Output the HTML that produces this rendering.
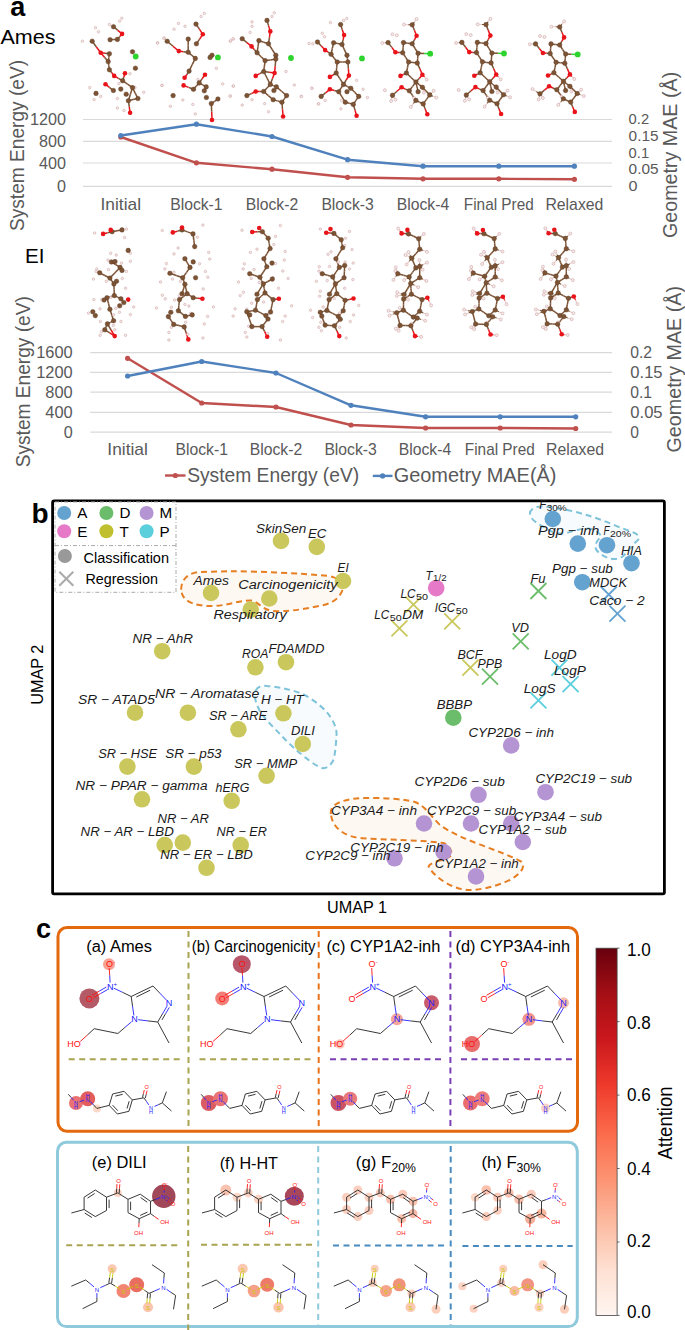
<!DOCTYPE html>
<html><head><meta charset="utf-8"><style>
html,body{margin:0;padding:0;background:#fff;width:685px;height:1330px;overflow:hidden}
svg{display:block;font-family:"Liberation Sans",sans-serif}
</style></head><body>
<svg width="685" height="1330" viewBox="0 0 685 1330">
<text x="10.3" y="15.6" font-size="27" fill="#000" font-weight="bold">a</text>
<text x="0.5" y="43.8" font-size="20.5" fill="#000" textLength="55.0" lengthAdjust="spacingAndGlyphs">Ames</text>
<text x="25.0" y="263.0" font-size="21" fill="#000" textLength="19.5" lengthAdjust="spacingAndGlyphs">EI</text>
<line x1="83" y1="119.5" x2="612" y2="119.5" stroke="#d9d9d9" stroke-width="1.2"/>
<line x1="83" y1="141.3" x2="612" y2="141.3" stroke="#d9d9d9" stroke-width="1.2"/>
<line x1="83" y1="163" x2="612" y2="163" stroke="#d9d9d9" stroke-width="1.2"/>
<line x1="83" y1="186.4" x2="612" y2="186.4" stroke="#d9d9d9" stroke-width="1.2"/>
<text x="66.0" y="125.3" font-size="16.5" fill="#595959" text-anchor="end" textLength="36.0" lengthAdjust="spacingAndGlyphs">1200</text>
<text x="66.0" y="147.1" font-size="16.5" fill="#595959" text-anchor="end" textLength="27.0" lengthAdjust="spacingAndGlyphs">800</text>
<text x="66.0" y="168.8" font-size="16.5" fill="#595959" text-anchor="end" textLength="27.0" lengthAdjust="spacingAndGlyphs">400</text>
<text x="66.0" y="192.2" font-size="16.5" fill="#595959" text-anchor="end" textLength="9.0" lengthAdjust="spacingAndGlyphs">0</text>
<text x="628.6" y="123.6" font-size="14.5" fill="#595959" textLength="20.5" lengthAdjust="spacingAndGlyphs">0.2</text>
<text x="628.6" y="140.9" font-size="14.5" fill="#595959" textLength="30.0" lengthAdjust="spacingAndGlyphs">0.15</text>
<text x="628.6" y="158.2" font-size="14.5" fill="#595959" textLength="20.5" lengthAdjust="spacingAndGlyphs">0.1</text>
<text x="628.6" y="174.0" font-size="14.5" fill="#595959" textLength="30.0" lengthAdjust="spacingAndGlyphs">0.05</text>
<text x="628.6" y="191.2" font-size="14.5" fill="#595959" textLength="9.0" lengthAdjust="spacingAndGlyphs">0</text>
<text x="120.8" y="209.5" font-size="17" fill="#595959" text-anchor="middle" textLength="40.5" lengthAdjust="spacingAndGlyphs">Initial</text>
<text x="196.4" y="209.5" font-size="17" fill="#595959" text-anchor="middle" textLength="52.4" lengthAdjust="spacingAndGlyphs">Block-1</text>
<text x="272.0" y="209.5" font-size="17" fill="#595959" text-anchor="middle" textLength="52.4" lengthAdjust="spacingAndGlyphs">Block-2</text>
<text x="347.6" y="209.5" font-size="17" fill="#595959" text-anchor="middle" textLength="52.4" lengthAdjust="spacingAndGlyphs">Block-3</text>
<text x="423.0" y="209.5" font-size="17" fill="#595959" text-anchor="middle" textLength="52.4" lengthAdjust="spacingAndGlyphs">Block-4</text>
<text x="498.8" y="209.5" font-size="17" fill="#595959" text-anchor="middle" textLength="70.0" lengthAdjust="spacingAndGlyphs">Final Pred</text>
<text x="574.4" y="209.5" font-size="17" fill="#595959" text-anchor="middle" textLength="58.0" lengthAdjust="spacingAndGlyphs">Relaxed</text>
<polyline points="120.8,137.0 196.4,162.8 272.0,169.2 347.6,177.3 423.0,178.8 498.8,178.8 574.4,179.3" fill="none" stroke="#c0504d" stroke-width="2.4" stroke-linejoin="round"/>
<circle cx="120.8" cy="137.0" r="2.6" fill="#c0504d"/>
<circle cx="196.4" cy="162.8" r="2.6" fill="#c0504d"/>
<circle cx="272.0" cy="169.2" r="2.6" fill="#c0504d"/>
<circle cx="347.6" cy="177.3" r="2.6" fill="#c0504d"/>
<circle cx="423.0" cy="178.8" r="2.6" fill="#c0504d"/>
<circle cx="498.8" cy="178.8" r="2.6" fill="#c0504d"/>
<circle cx="574.4" cy="179.3" r="2.6" fill="#c0504d"/>
<polyline points="120.8,135.5 196.4,124.2 272.0,136.5 347.6,159.7 423.0,166.2 498.8,166.2 574.4,166.2" fill="none" stroke="#4f81bd" stroke-width="2.4" stroke-linejoin="round"/>
<circle cx="120.8" cy="135.5" r="2.6" fill="#4f81bd"/>
<circle cx="196.4" cy="124.2" r="2.6" fill="#4f81bd"/>
<circle cx="272.0" cy="136.5" r="2.6" fill="#4f81bd"/>
<circle cx="347.6" cy="159.7" r="2.6" fill="#4f81bd"/>
<circle cx="423.0" cy="166.2" r="2.6" fill="#4f81bd"/>
<circle cx="498.8" cy="166.2" r="2.6" fill="#4f81bd"/>
<circle cx="574.4" cy="166.2" r="2.6" fill="#4f81bd"/>
<text transform="translate(24,231) rotate(-90)" font-size="20" fill="#595959" textLength="171.0" lengthAdjust="spacingAndGlyphs">System Energy (eV)</text>
<text transform="translate(677,238) rotate(-90)" font-size="20" fill="#595959" textLength="166.2" lengthAdjust="spacingAndGlyphs">Geometry MAE (&#197;)</text>
<line x1="90.3" y1="352.6" x2="612" y2="352.6" stroke="#d9d9d9" stroke-width="1.2"/>
<line x1="90.3" y1="372.4" x2="612" y2="372.4" stroke="#d9d9d9" stroke-width="1.2"/>
<line x1="90.3" y1="392.2" x2="612" y2="392.2" stroke="#d9d9d9" stroke-width="1.2"/>
<line x1="90.3" y1="412.3" x2="612" y2="412.3" stroke="#d9d9d9" stroke-width="1.2"/>
<line x1="90.3" y1="432.1" x2="612" y2="432.1" stroke="#d9d9d9" stroke-width="1.2"/>
<text x="72.7" y="358.4" font-size="16.5" fill="#595959" text-anchor="end" textLength="36.5" lengthAdjust="spacingAndGlyphs">1600</text>
<text x="72.7" y="378.2" font-size="16.5" fill="#595959" text-anchor="end" textLength="36.5" lengthAdjust="spacingAndGlyphs">1200</text>
<text x="72.7" y="398.0" font-size="16.5" fill="#595959" text-anchor="end" textLength="27.4" lengthAdjust="spacingAndGlyphs">800</text>
<text x="72.7" y="418.1" font-size="16.5" fill="#595959" text-anchor="end" textLength="27.4" lengthAdjust="spacingAndGlyphs">400</text>
<text x="72.7" y="437.9" font-size="16.5" fill="#595959" text-anchor="end" textLength="9.0" lengthAdjust="spacingAndGlyphs">0</text>
<text x="630.3" y="358.1" font-size="16" fill="#595959" textLength="21.8" lengthAdjust="spacingAndGlyphs">0.2</text>
<text x="630.3" y="378.1" font-size="16" fill="#595959" textLength="32.3" lengthAdjust="spacingAndGlyphs">0.15</text>
<text x="630.3" y="398.1" font-size="16" fill="#595959" textLength="21.8" lengthAdjust="spacingAndGlyphs">0.1</text>
<text x="630.3" y="418.1" font-size="16" fill="#595959" textLength="32.3" lengthAdjust="spacingAndGlyphs">0.05</text>
<text x="630.3" y="437.6" font-size="16" fill="#595959" textLength="8.7" lengthAdjust="spacingAndGlyphs">0</text>
<text x="127.6" y="455.0" font-size="17" fill="#595959" text-anchor="middle" textLength="40.5" lengthAdjust="spacingAndGlyphs">Initial</text>
<text x="201.7" y="455.0" font-size="17" fill="#595959" text-anchor="middle" textLength="52.4" lengthAdjust="spacingAndGlyphs">Block-1</text>
<text x="276.0" y="455.0" font-size="17" fill="#595959" text-anchor="middle" textLength="52.4" lengthAdjust="spacingAndGlyphs">Block-2</text>
<text x="350.6" y="455.0" font-size="17" fill="#595959" text-anchor="middle" textLength="52.4" lengthAdjust="spacingAndGlyphs">Block-3</text>
<text x="425.0" y="455.0" font-size="17" fill="#595959" text-anchor="middle" textLength="52.4" lengthAdjust="spacingAndGlyphs">Block-4</text>
<text x="499.8" y="455.0" font-size="17" fill="#595959" text-anchor="middle" textLength="70.0" lengthAdjust="spacingAndGlyphs">Final Pred</text>
<text x="575.0" y="455.0" font-size="17" fill="#595959" text-anchor="middle" textLength="58.0" lengthAdjust="spacingAndGlyphs">Relaxed</text>
<polyline points="127.6,358.3 201.7,403.0 276.0,407.0 351.0,425.0 425.6,428.0 500.2,428.0 575.7,428.5" fill="none" stroke="#c0504d" stroke-width="2.4" stroke-linejoin="round"/>
<circle cx="127.6" cy="358.3" r="2.6" fill="#c0504d"/>
<circle cx="201.7" cy="403.0" r="2.6" fill="#c0504d"/>
<circle cx="276.0" cy="407.0" r="2.6" fill="#c0504d"/>
<circle cx="351.0" cy="425.0" r="2.6" fill="#c0504d"/>
<circle cx="425.6" cy="428.0" r="2.6" fill="#c0504d"/>
<circle cx="500.2" cy="428.0" r="2.6" fill="#c0504d"/>
<circle cx="575.7" cy="428.5" r="2.6" fill="#c0504d"/>
<polyline points="127.6,376.0 201.7,361.5 276.0,373.0 351.0,405.3 425.6,416.8 500.2,416.8 575.7,416.8" fill="none" stroke="#4f81bd" stroke-width="2.4" stroke-linejoin="round"/>
<circle cx="127.6" cy="376.0" r="2.6" fill="#4f81bd"/>
<circle cx="201.7" cy="361.5" r="2.6" fill="#4f81bd"/>
<circle cx="276.0" cy="373.0" r="2.6" fill="#4f81bd"/>
<circle cx="351.0" cy="405.3" r="2.6" fill="#4f81bd"/>
<circle cx="425.6" cy="416.8" r="2.6" fill="#4f81bd"/>
<circle cx="500.2" cy="416.8" r="2.6" fill="#4f81bd"/>
<circle cx="575.7" cy="416.8" r="2.6" fill="#4f81bd"/>
<text transform="translate(30,467.3) rotate(-90)" font-size="20" fill="#595959" textLength="171.1" lengthAdjust="spacingAndGlyphs">System Energy (eV)</text>
<text transform="translate(680.5,452.5) rotate(-90)" font-size="20" fill="#595959" textLength="166.5" lengthAdjust="spacingAndGlyphs">Geometry MAE (&#197;)</text>
<line x1="165" y1="475.5" x2="185.5" y2="475.5" stroke="#c0504d" stroke-width="2.4"/><circle cx="175.3" cy="475.5" r="2.6" fill="#c0504d"/>
<text x="187.2" y="482.3" font-size="20" fill="#595959" textLength="172.0" lengthAdjust="spacingAndGlyphs">System Energy (eV)</text>
<line x1="372.8" y1="475.9" x2="392.5" y2="475.9" stroke="#4f81bd" stroke-width="2.4"/><circle cx="382.6" cy="475.9" r="2.6" fill="#4f81bd"/>
<text x="393.7" y="482.3" font-size="20" fill="#595959" textLength="162.8" lengthAdjust="spacingAndGlyphs">Geometry MAE(&#197;)</text>
<line x1="113.5" y1="26.7" x2="117.8" y2="30.3" stroke="#7d5335" stroke-width="1.5"/>
<line x1="117.8" y1="30.3" x2="122.1" y2="33.9" stroke="#e8141a" stroke-width="1.5"/>
<line x1="122.1" y1="33.9" x2="119.8" y2="36.6" stroke="#e8141a" stroke-width="1.5"/>
<line x1="119.8" y1="36.6" x2="117.4" y2="39.4" stroke="#7d5335" stroke-width="1.5"/>
<line x1="110.1" y1="39.7" x2="113.8" y2="39.6" stroke="#7d5335" stroke-width="1.5"/>
<line x1="113.8" y1="39.6" x2="117.4" y2="39.4" stroke="#7d5335" stroke-width="1.5"/>
<line x1="92.2" y1="41.2" x2="96.4" y2="47.0" stroke="#7d5335" stroke-width="1.5"/>
<line x1="96.4" y1="47.0" x2="100.7" y2="52.8" stroke="#e8141a" stroke-width="1.5"/>
<line x1="100.7" y1="52.8" x2="105.0" y2="53.3" stroke="#e8141a" stroke-width="1.5"/>
<line x1="105.0" y1="53.3" x2="109.4" y2="53.7" stroke="#7d5335" stroke-width="1.5"/>
<line x1="100.7" y1="52.8" x2="104.5" y2="57.2" stroke="#e8141a" stroke-width="1.5"/>
<line x1="104.5" y1="57.2" x2="108.2" y2="61.6" stroke="#7d5335" stroke-width="1.5"/>
<line x1="109.4" y1="53.7" x2="108.8" y2="57.7" stroke="#7d5335" stroke-width="1.5"/>
<line x1="108.8" y1="57.7" x2="108.2" y2="61.6" stroke="#7d5335" stroke-width="1.5"/>
<line x1="108.2" y1="61.6" x2="108.8" y2="65.7" stroke="#7d5335" stroke-width="1.5"/>
<line x1="108.8" y1="65.7" x2="109.4" y2="69.8" stroke="#7d5335" stroke-width="1.5"/>
<line x1="109.4" y1="69.8" x2="111.8" y2="72.8" stroke="#7d5335" stroke-width="1.5"/>
<line x1="111.8" y1="72.8" x2="114.2" y2="75.9" stroke="#e8141a" stroke-width="1.5"/>
<line x1="114.2" y1="75.9" x2="118.4" y2="78.3" stroke="#e8141a" stroke-width="1.5"/>
<line x1="118.4" y1="78.3" x2="122.6" y2="80.7" stroke="#7d5335" stroke-width="1.5"/>
<line x1="122.6" y1="80.7" x2="123.8" y2="77.0" stroke="#7d5335" stroke-width="1.5"/>
<line x1="123.8" y1="77.0" x2="125.0" y2="73.3" stroke="#e8141a" stroke-width="1.5"/>
<line x1="122.6" y1="80.7" x2="127.5" y2="84.2" stroke="#7d5335" stroke-width="1.5"/>
<line x1="127.5" y1="84.2" x2="132.5" y2="87.6" stroke="#7d5335" stroke-width="1.5"/>
<line x1="132.5" y1="87.6" x2="135.2" y2="93.1" stroke="#7d5335" stroke-width="1.5"/>
<line x1="135.2" y1="93.1" x2="137.9" y2="98.5" stroke="#7d5335" stroke-width="1.5"/>
<line x1="137.9" y1="98.5" x2="133.1" y2="99.6" stroke="#7d5335" stroke-width="1.5"/>
<line x1="133.1" y1="99.6" x2="128.4" y2="100.7" stroke="#7d5335" stroke-width="1.5"/>
<line x1="128.4" y1="100.7" x2="130.4" y2="94.2" stroke="#7d5335" stroke-width="1.5"/>
<line x1="130.4" y1="94.2" x2="132.5" y2="87.6" stroke="#7d5335" stroke-width="1.5"/>
<line x1="128.4" y1="100.7" x2="129.3" y2="106.8" stroke="#7d5335" stroke-width="1.5"/>
<line x1="129.3" y1="106.8" x2="130.1" y2="112.8" stroke="#e8141a" stroke-width="1.5"/>
<line x1="105.5" y1="84.2" x2="109.4" y2="87.4" stroke="#e8141a" stroke-width="1.5"/>
<line x1="109.4" y1="87.4" x2="113.4" y2="90.5" stroke="#7d5335" stroke-width="1.5"/>
<circle cx="121.8" cy="18.2" r="1.25" fill="#f8eaea" stroke="#cfa8a8" stroke-width="0.6"/>
<circle cx="119.6" cy="21.2" r="1.25" fill="#f8eaea" stroke="#cfa8a8" stroke-width="0.6"/>
<circle cx="109.4" cy="24.5" r="1.25" fill="#f8eaea" stroke="#cfa8a8" stroke-width="0.6"/>
<circle cx="95.5" cy="27.7" r="1.25" fill="#f8eaea" stroke="#cfa8a8" stroke-width="0.6"/>
<circle cx="98.5" cy="31.8" r="1.25" fill="#f8eaea" stroke="#cfa8a8" stroke-width="0.6"/>
<circle cx="82.4" cy="41.2" r="1.25" fill="#f8eaea" stroke="#cfa8a8" stroke-width="0.6"/>
<circle cx="157.6" cy="42.8" r="1.25" fill="#f8eaea" stroke="#cfa8a8" stroke-width="0.6"/>
<circle cx="164.2" cy="38.2" r="1.25" fill="#f8eaea" stroke="#cfa8a8" stroke-width="0.6"/>
<circle cx="129.9" cy="73.7" r="1.25" fill="#f8eaea" stroke="#cfa8a8" stroke-width="0.6"/>
<circle cx="118.9" cy="83.5" r="1.25" fill="#f8eaea" stroke="#cfa8a8" stroke-width="0.6"/>
<circle cx="89.7" cy="87.6" r="1.25" fill="#f8eaea" stroke="#cfa8a8" stroke-width="0.6"/>
<circle cx="100.7" cy="96.4" r="1.25" fill="#f8eaea" stroke="#cfa8a8" stroke-width="0.6"/>
<circle cx="94.1" cy="99.6" r="1.25" fill="#f8eaea" stroke="#cfa8a8" stroke-width="0.6"/>
<circle cx="117.4" cy="98.5" r="1.25" fill="#f8eaea" stroke="#cfa8a8" stroke-width="0.6"/>
<circle cx="143.7" cy="92.3" r="1.25" fill="#f8eaea" stroke="#cfa8a8" stroke-width="0.6"/>
<circle cx="162.0" cy="85.4" r="1.25" fill="#f8eaea" stroke="#cfa8a8" stroke-width="0.6"/>
<circle cx="117.4" cy="108.0" r="1.25" fill="#f8eaea" stroke="#cfa8a8" stroke-width="0.6"/>
<circle cx="135.0" cy="87.6" r="1.25" fill="#f8eaea" stroke="#cfa8a8" stroke-width="0.6"/>
<circle cx="124.0" cy="110.5" r="1.25" fill="#f8eaea" stroke="#cfa8a8" stroke-width="0.6"/>
<circle cx="113.5" cy="26.7" r="2.3" fill="#7d5335" stroke="#5a3a22" stroke-width="0.4"/>
<circle cx="110.1" cy="39.7" r="2.3" fill="#7d5335" stroke="#5a3a22" stroke-width="0.4"/>
<circle cx="117.4" cy="39.4" r="2.3" fill="#7d5335" stroke="#5a3a22" stroke-width="0.4"/>
<circle cx="92.2" cy="41.2" r="2.3" fill="#7d5335" stroke="#5a3a22" stroke-width="0.4"/>
<circle cx="109.4" cy="53.7" r="2.3" fill="#7d5335" stroke="#5a3a22" stroke-width="0.4"/>
<circle cx="108.2" cy="61.6" r="2.3" fill="#7d5335" stroke="#5a3a22" stroke-width="0.4"/>
<circle cx="109.4" cy="69.8" r="2.3" fill="#7d5335" stroke="#5a3a22" stroke-width="0.4"/>
<circle cx="132.5" cy="51.8" r="2.3" fill="#7d5335" stroke="#5a3a22" stroke-width="0.4"/>
<circle cx="135.4" cy="68.2" r="2.3" fill="#7d5335" stroke="#5a3a22" stroke-width="0.4"/>
<circle cx="122.6" cy="80.7" r="2.3" fill="#7d5335" stroke="#5a3a22" stroke-width="0.4"/>
<circle cx="113.4" cy="90.5" r="2.3" fill="#7d5335" stroke="#5a3a22" stroke-width="0.4"/>
<circle cx="120.8" cy="89.1" r="2.3" fill="#7d5335" stroke="#5a3a22" stroke-width="0.4"/>
<circle cx="126.2" cy="94.2" r="2.3" fill="#7d5335" stroke="#5a3a22" stroke-width="0.4"/>
<circle cx="132.5" cy="87.6" r="2.3" fill="#7d5335" stroke="#5a3a22" stroke-width="0.4"/>
<circle cx="137.9" cy="98.5" r="2.3" fill="#7d5335" stroke="#5a3a22" stroke-width="0.4"/>
<circle cx="128.4" cy="100.7" r="2.3" fill="#7d5335" stroke="#5a3a22" stroke-width="0.4"/>
<circle cx="96.0" cy="93.4" r="2.3" fill="#7d5335" stroke="#5a3a22" stroke-width="0.4"/>
<circle cx="122.1" cy="33.9" r="2.3" fill="#e8141a"/>
<circle cx="100.7" cy="52.8" r="2.3" fill="#e8141a"/>
<circle cx="114.2" cy="75.9" r="2.3" fill="#e8141a"/>
<circle cx="125.0" cy="73.3" r="2.3" fill="#e8141a"/>
<circle cx="105.5" cy="84.2" r="2.3" fill="#e8141a"/>
<circle cx="130.1" cy="112.8" r="2.3" fill="#e8141a"/>
<circle cx="135.7" cy="56.5" r="2.9" fill="#2ed42e"/>
<line x1="196.0" y1="24.1" x2="199.4" y2="29.2" stroke="#7d5335" stroke-width="1.5"/>
<line x1="199.4" y1="29.2" x2="202.8" y2="34.3" stroke="#e8141a" stroke-width="1.5"/>
<line x1="202.8" y1="34.3" x2="199.6" y2="39.1" stroke="#e8141a" stroke-width="1.5"/>
<line x1="199.6" y1="39.1" x2="196.4" y2="43.8" stroke="#7d5335" stroke-width="1.5"/>
<line x1="188.2" y1="39.1" x2="188.2" y2="45.7" stroke="#7d5335" stroke-width="1.5"/>
<line x1="188.2" y1="45.7" x2="188.2" y2="52.3" stroke="#7d5335" stroke-width="1.5"/>
<line x1="167.2" y1="41.3" x2="173.0" y2="46.2" stroke="#7d5335" stroke-width="1.5"/>
<line x1="173.0" y1="46.2" x2="178.8" y2="51.1" stroke="#e8141a" stroke-width="1.5"/>
<line x1="178.8" y1="51.1" x2="183.5" y2="51.7" stroke="#e8141a" stroke-width="1.5"/>
<line x1="183.5" y1="51.7" x2="188.2" y2="52.3" stroke="#7d5335" stroke-width="1.5"/>
<line x1="188.2" y1="52.3" x2="191.8" y2="55.3" stroke="#7d5335" stroke-width="1.5"/>
<line x1="191.8" y1="55.3" x2="195.3" y2="58.4" stroke="#7d5335" stroke-width="1.5"/>
<line x1="195.3" y1="58.4" x2="192.2" y2="64.7" stroke="#7d5335" stroke-width="1.5"/>
<line x1="192.2" y1="64.7" x2="189.1" y2="71.1" stroke="#7d5335" stroke-width="1.5"/>
<line x1="189.1" y1="71.1" x2="186.9" y2="74.5" stroke="#7d5335" stroke-width="1.5"/>
<line x1="186.9" y1="74.5" x2="184.6" y2="77.8" stroke="#e8141a" stroke-width="1.5"/>
<line x1="205.0" y1="74.7" x2="202.1" y2="78.8" stroke="#e8141a" stroke-width="1.5"/>
<line x1="202.1" y1="78.8" x2="199.2" y2="82.9" stroke="#7d5335" stroke-width="1.5"/>
<line x1="199.2" y1="82.9" x2="196.4" y2="86.1" stroke="#7d5335" stroke-width="1.5"/>
<line x1="196.4" y1="86.1" x2="193.5" y2="89.3" stroke="#7d5335" stroke-width="1.5"/>
<line x1="193.5" y1="89.3" x2="188.5" y2="87.4" stroke="#7d5335" stroke-width="1.5"/>
<line x1="188.5" y1="87.4" x2="183.6" y2="85.4" stroke="#e8141a" stroke-width="1.5"/>
<line x1="199.2" y1="82.9" x2="202.7" y2="84.9" stroke="#7d5335" stroke-width="1.5"/>
<line x1="202.7" y1="84.9" x2="206.2" y2="86.9" stroke="#7d5335" stroke-width="1.5"/>
<line x1="211.3" y1="103.6" x2="214.6" y2="101.3" stroke="#7d5335" stroke-width="1.5"/>
<line x1="214.6" y1="101.3" x2="217.9" y2="99.0" stroke="#7d5335" stroke-width="1.5"/>
<line x1="211.3" y1="103.6" x2="211.7" y2="111.8" stroke="#7d5335" stroke-width="1.5"/>
<line x1="211.7" y1="111.8" x2="212.0" y2="120.0" stroke="#e8141a" stroke-width="1.5"/>
<circle cx="204.3" cy="13.4" r="1.25" fill="#f8eaea" stroke="#cfa8a8" stroke-width="0.6"/>
<circle cx="201.1" cy="16.4" r="1.25" fill="#f8eaea" stroke="#cfa8a8" stroke-width="0.6"/>
<circle cx="178.5" cy="23.4" r="1.25" fill="#f8eaea" stroke="#cfa8a8" stroke-width="0.6"/>
<circle cx="185.0" cy="26.3" r="1.25" fill="#f8eaea" stroke="#cfa8a8" stroke-width="0.6"/>
<circle cx="174.1" cy="29.2" r="1.25" fill="#f8eaea" stroke="#cfa8a8" stroke-width="0.6"/>
<circle cx="163.9" cy="38.2" r="1.25" fill="#f8eaea" stroke="#cfa8a8" stroke-width="0.6"/>
<circle cx="157.6" cy="43.1" r="1.25" fill="#f8eaea" stroke="#cfa8a8" stroke-width="0.6"/>
<circle cx="233.2" cy="39.1" r="1.25" fill="#f8eaea" stroke="#cfa8a8" stroke-width="0.6"/>
<circle cx="230.3" cy="41.2" r="1.25" fill="#f8eaea" stroke="#cfa8a8" stroke-width="0.6"/>
<circle cx="216.4" cy="68.3" r="1.25" fill="#f8eaea" stroke="#cfa8a8" stroke-width="0.6"/>
<circle cx="197.9" cy="79.6" r="1.25" fill="#f8eaea" stroke="#cfa8a8" stroke-width="0.6"/>
<circle cx="162.0" cy="85.4" r="1.25" fill="#f8eaea" stroke="#cfa8a8" stroke-width="0.6"/>
<circle cx="222.7" cy="83.9" r="1.25" fill="#f8eaea" stroke="#cfa8a8" stroke-width="0.6"/>
<circle cx="233.2" cy="86.1" r="1.25" fill="#f8eaea" stroke="#cfa8a8" stroke-width="0.6"/>
<circle cx="182.8" cy="100.0" r="1.25" fill="#f8eaea" stroke="#cfa8a8" stroke-width="0.6"/>
<circle cx="170.4" cy="106.3" r="1.25" fill="#f8eaea" stroke="#cfa8a8" stroke-width="0.6"/>
<circle cx="192.8" cy="104.4" r="1.25" fill="#f8eaea" stroke="#cfa8a8" stroke-width="0.6"/>
<circle cx="230.3" cy="96.1" r="1.25" fill="#f8eaea" stroke="#cfa8a8" stroke-width="0.6"/>
<circle cx="195.3" cy="113.9" r="1.25" fill="#f8eaea" stroke="#cfa8a8" stroke-width="0.6"/>
<circle cx="196.0" cy="24.1" r="2.3" fill="#7d5335" stroke="#5a3a22" stroke-width="0.4"/>
<circle cx="196.4" cy="43.8" r="2.3" fill="#7d5335" stroke="#5a3a22" stroke-width="0.4"/>
<circle cx="188.2" cy="39.1" r="2.3" fill="#7d5335" stroke="#5a3a22" stroke-width="0.4"/>
<circle cx="167.2" cy="41.3" r="2.3" fill="#7d5335" stroke="#5a3a22" stroke-width="0.4"/>
<circle cx="188.2" cy="52.3" r="2.3" fill="#7d5335" stroke="#5a3a22" stroke-width="0.4"/>
<circle cx="195.3" cy="58.4" r="2.3" fill="#7d5335" stroke="#5a3a22" stroke-width="0.4"/>
<circle cx="189.1" cy="71.1" r="2.3" fill="#7d5335" stroke="#5a3a22" stroke-width="0.4"/>
<circle cx="212.0" cy="55.2" r="2.3" fill="#7d5335" stroke="#5a3a22" stroke-width="0.4"/>
<circle cx="210.1" cy="57.4" r="2.3" fill="#7d5335" stroke="#5a3a22" stroke-width="0.4"/>
<circle cx="199.2" cy="82.9" r="2.3" fill="#7d5335" stroke="#5a3a22" stroke-width="0.4"/>
<circle cx="193.5" cy="89.3" r="2.3" fill="#7d5335" stroke="#5a3a22" stroke-width="0.4"/>
<circle cx="206.2" cy="86.9" r="2.3" fill="#7d5335" stroke="#5a3a22" stroke-width="0.4"/>
<circle cx="204.3" cy="90.8" r="2.3" fill="#7d5335" stroke="#5a3a22" stroke-width="0.4"/>
<circle cx="173.1" cy="95.6" r="2.3" fill="#7d5335" stroke="#5a3a22" stroke-width="0.4"/>
<circle cx="206.4" cy="97.5" r="2.3" fill="#7d5335" stroke="#5a3a22" stroke-width="0.4"/>
<circle cx="217.9" cy="99.0" r="2.3" fill="#7d5335" stroke="#5a3a22" stroke-width="0.4"/>
<circle cx="211.3" cy="103.6" r="2.3" fill="#7d5335" stroke="#5a3a22" stroke-width="0.4"/>
<circle cx="202.8" cy="34.3" r="2.3" fill="#e8141a"/>
<circle cx="178.8" cy="51.1" r="2.3" fill="#e8141a"/>
<circle cx="184.6" cy="77.8" r="2.3" fill="#e8141a"/>
<circle cx="205.0" cy="74.7" r="2.3" fill="#e8141a"/>
<circle cx="183.6" cy="85.4" r="2.3" fill="#e8141a"/>
<circle cx="212.0" cy="120.0" r="2.3" fill="#e8141a"/>
<circle cx="217.9" cy="57.4" r="2.9" fill="#2ed42e"/>
<line x1="267.0" y1="20.4" x2="268.6" y2="25.9" stroke="#7d5335" stroke-width="1.5"/>
<line x1="268.6" y1="25.9" x2="270.3" y2="31.4" stroke="#e8141a" stroke-width="1.5"/>
<line x1="270.3" y1="31.4" x2="269.4" y2="37.6" stroke="#e8141a" stroke-width="1.5"/>
<line x1="269.4" y1="37.6" x2="268.5" y2="43.8" stroke="#7d5335" stroke-width="1.5"/>
<line x1="242.2" y1="38.7" x2="246.9" y2="42.6" stroke="#7d5335" stroke-width="1.5"/>
<line x1="246.9" y1="42.6" x2="251.6" y2="46.4" stroke="#e8141a" stroke-width="1.5"/>
<line x1="251.6" y1="46.4" x2="254.3" y2="49.6" stroke="#e8141a" stroke-width="1.5"/>
<line x1="254.3" y1="49.6" x2="257.1" y2="52.8" stroke="#7d5335" stroke-width="1.5"/>
<line x1="258.9" y1="40.6" x2="263.7" y2="42.2" stroke="#7d5335" stroke-width="1.5"/>
<line x1="263.7" y1="42.2" x2="268.5" y2="43.8" stroke="#7d5335" stroke-width="1.5"/>
<line x1="258.9" y1="40.6" x2="258.0" y2="46.7" stroke="#7d5335" stroke-width="1.5"/>
<line x1="258.0" y1="46.7" x2="257.1" y2="52.8" stroke="#7d5335" stroke-width="1.5"/>
<line x1="268.5" y1="43.8" x2="272.2" y2="49.5" stroke="#7d5335" stroke-width="1.5"/>
<line x1="272.2" y1="49.5" x2="275.8" y2="55.2" stroke="#7d5335" stroke-width="1.5"/>
<line x1="275.8" y1="55.2" x2="275.8" y2="57.2" stroke="#7d5335" stroke-width="1.5"/>
<line x1="275.8" y1="57.2" x2="275.8" y2="59.1" stroke="#7d5335" stroke-width="1.5"/>
<line x1="257.1" y1="52.8" x2="261.1" y2="56.7" stroke="#7d5335" stroke-width="1.5"/>
<line x1="261.1" y1="56.7" x2="265.1" y2="60.6" stroke="#7d5335" stroke-width="1.5"/>
<line x1="265.1" y1="60.6" x2="270.5" y2="59.9" stroke="#7d5335" stroke-width="1.5"/>
<line x1="270.5" y1="59.9" x2="275.8" y2="59.1" stroke="#7d5335" stroke-width="1.5"/>
<line x1="265.1" y1="60.6" x2="264.4" y2="66.1" stroke="#7d5335" stroke-width="1.5"/>
<line x1="264.4" y1="66.1" x2="263.7" y2="71.5" stroke="#7d5335" stroke-width="1.5"/>
<line x1="275.8" y1="59.1" x2="275.2" y2="66.1" stroke="#7d5335" stroke-width="1.5"/>
<line x1="275.2" y1="66.1" x2="274.6" y2="73.0" stroke="#e8141a" stroke-width="1.5"/>
<line x1="263.7" y1="71.5" x2="269.2" y2="72.3" stroke="#7d5335" stroke-width="1.5"/>
<line x1="269.2" y1="72.3" x2="274.6" y2="73.0" stroke="#e8141a" stroke-width="1.5"/>
<line x1="263.7" y1="71.5" x2="259.7" y2="73.7" stroke="#7d5335" stroke-width="1.5"/>
<line x1="259.7" y1="73.7" x2="255.7" y2="75.9" stroke="#e8141a" stroke-width="1.5"/>
<line x1="263.7" y1="71.5" x2="267.0" y2="78.0" stroke="#7d5335" stroke-width="1.5"/>
<line x1="267.0" y1="78.0" x2="270.3" y2="84.4" stroke="#7d5335" stroke-width="1.5"/>
<line x1="274.6" y1="73.0" x2="272.4" y2="78.7" stroke="#e8141a" stroke-width="1.5"/>
<line x1="272.4" y1="78.7" x2="270.3" y2="84.4" stroke="#7d5335" stroke-width="1.5"/>
<line x1="270.3" y1="84.4" x2="267.0" y2="88.0" stroke="#7d5335" stroke-width="1.5"/>
<line x1="267.0" y1="88.0" x2="263.7" y2="91.5" stroke="#7d5335" stroke-width="1.5"/>
<line x1="270.3" y1="84.4" x2="273.3" y2="85.6" stroke="#7d5335" stroke-width="1.5"/>
<line x1="273.3" y1="85.6" x2="276.4" y2="86.9" stroke="#7d5335" stroke-width="1.5"/>
<line x1="276.4" y1="86.9" x2="281.5" y2="91.2" stroke="#7d5335" stroke-width="1.5"/>
<line x1="281.5" y1="91.2" x2="286.6" y2="95.6" stroke="#7d5335" stroke-width="1.5"/>
<line x1="286.6" y1="95.6" x2="284.3" y2="98.9" stroke="#7d5335" stroke-width="1.5"/>
<line x1="284.3" y1="98.9" x2="281.9" y2="102.2" stroke="#7d5335" stroke-width="1.5"/>
<line x1="281.9" y1="102.2" x2="277.6" y2="100.9" stroke="#7d5335" stroke-width="1.5"/>
<line x1="277.6" y1="100.9" x2="273.2" y2="99.7" stroke="#7d5335" stroke-width="1.5"/>
<line x1="273.2" y1="99.7" x2="268.4" y2="95.6" stroke="#7d5335" stroke-width="1.5"/>
<line x1="268.4" y1="95.6" x2="263.7" y2="91.5" stroke="#7d5335" stroke-width="1.5"/>
<line x1="263.7" y1="91.5" x2="259.7" y2="91.5" stroke="#7d5335" stroke-width="1.5"/>
<line x1="259.7" y1="91.5" x2="255.7" y2="91.5" stroke="#e8141a" stroke-width="1.5"/>
<line x1="255.7" y1="91.5" x2="251.3" y2="93.6" stroke="#e8141a" stroke-width="1.5"/>
<line x1="251.3" y1="93.6" x2="246.9" y2="95.6" stroke="#7d5335" stroke-width="1.5"/>
<line x1="281.9" y1="102.2" x2="282.5" y2="109.3" stroke="#7d5335" stroke-width="1.5"/>
<line x1="282.5" y1="109.3" x2="283.1" y2="116.5" stroke="#e8141a" stroke-width="1.5"/>
<circle cx="274.3" cy="12.8" r="1.25" fill="#f8eaea" stroke="#cfa8a8" stroke-width="0.6"/>
<circle cx="272.0" cy="16.4" r="1.25" fill="#f8eaea" stroke="#cfa8a8" stroke-width="0.6"/>
<circle cx="252.0" cy="21.9" r="1.25" fill="#f8eaea" stroke="#cfa8a8" stroke-width="0.6"/>
<circle cx="252.0" cy="26.3" r="1.25" fill="#f8eaea" stroke="#cfa8a8" stroke-width="0.6"/>
<circle cx="250.1" cy="32.4" r="1.25" fill="#f8eaea" stroke="#cfa8a8" stroke-width="0.6"/>
<circle cx="233.0" cy="38.7" r="1.25" fill="#f8eaea" stroke="#cfa8a8" stroke-width="0.6"/>
<circle cx="230.5" cy="40.9" r="1.25" fill="#f8eaea" stroke="#cfa8a8" stroke-width="0.6"/>
<circle cx="286.0" cy="71.5" r="1.25" fill="#f8eaea" stroke="#cfa8a8" stroke-width="0.6"/>
<circle cx="233.5" cy="86.1" r="1.25" fill="#f8eaea" stroke="#cfa8a8" stroke-width="0.6"/>
<circle cx="294.3" cy="85.1" r="1.25" fill="#f8eaea" stroke="#cfa8a8" stroke-width="0.6"/>
<circle cx="311.9" cy="88.3" r="1.25" fill="#f8eaea" stroke="#cfa8a8" stroke-width="0.6"/>
<circle cx="230.1" cy="96.1" r="1.25" fill="#f8eaea" stroke="#cfa8a8" stroke-width="0.6"/>
<circle cx="252.0" cy="99.7" r="1.25" fill="#f8eaea" stroke="#cfa8a8" stroke-width="0.6"/>
<circle cx="301.2" cy="96.4" r="1.25" fill="#f8eaea" stroke="#cfa8a8" stroke-width="0.6"/>
<circle cx="242.2" cy="105.1" r="1.25" fill="#f8eaea" stroke="#cfa8a8" stroke-width="0.6"/>
<circle cx="264.7" cy="103.6" r="1.25" fill="#f8eaea" stroke="#cfa8a8" stroke-width="0.6"/>
<circle cx="268.5" cy="111.7" r="1.25" fill="#f8eaea" stroke="#cfa8a8" stroke-width="0.6"/>
<circle cx="318.4" cy="103.9" r="1.25" fill="#f8eaea" stroke="#cfa8a8" stroke-width="0.6"/>
<circle cx="267.0" cy="20.4" r="2.3" fill="#7d5335" stroke="#5a3a22" stroke-width="0.4"/>
<circle cx="242.2" cy="38.7" r="2.3" fill="#7d5335" stroke="#5a3a22" stroke-width="0.4"/>
<circle cx="258.9" cy="40.6" r="2.3" fill="#7d5335" stroke="#5a3a22" stroke-width="0.4"/>
<circle cx="268.5" cy="43.8" r="2.3" fill="#7d5335" stroke="#5a3a22" stroke-width="0.4"/>
<circle cx="257.1" cy="52.8" r="2.3" fill="#7d5335" stroke="#5a3a22" stroke-width="0.4"/>
<circle cx="275.8" cy="55.2" r="2.3" fill="#7d5335" stroke="#5a3a22" stroke-width="0.4"/>
<circle cx="275.8" cy="59.1" r="2.3" fill="#7d5335" stroke="#5a3a22" stroke-width="0.4"/>
<circle cx="265.1" cy="60.6" r="2.3" fill="#7d5335" stroke="#5a3a22" stroke-width="0.4"/>
<circle cx="263.7" cy="71.5" r="2.3" fill="#7d5335" stroke="#5a3a22" stroke-width="0.4"/>
<circle cx="270.3" cy="84.4" r="2.3" fill="#7d5335" stroke="#5a3a22" stroke-width="0.4"/>
<circle cx="276.4" cy="86.9" r="2.3" fill="#7d5335" stroke="#5a3a22" stroke-width="0.4"/>
<circle cx="273.9" cy="90.5" r="2.3" fill="#7d5335" stroke="#5a3a22" stroke-width="0.4"/>
<circle cx="263.7" cy="91.5" r="2.3" fill="#7d5335" stroke="#5a3a22" stroke-width="0.4"/>
<circle cx="246.9" cy="95.6" r="2.3" fill="#7d5335" stroke="#5a3a22" stroke-width="0.4"/>
<circle cx="286.6" cy="95.6" r="2.3" fill="#7d5335" stroke="#5a3a22" stroke-width="0.4"/>
<circle cx="273.2" cy="99.7" r="2.3" fill="#7d5335" stroke="#5a3a22" stroke-width="0.4"/>
<circle cx="281.9" cy="102.2" r="2.3" fill="#7d5335" stroke="#5a3a22" stroke-width="0.4"/>
<circle cx="270.3" cy="31.4" r="2.3" fill="#e8141a"/>
<circle cx="251.6" cy="46.4" r="2.3" fill="#e8141a"/>
<circle cx="274.6" cy="73.0" r="2.3" fill="#e8141a"/>
<circle cx="255.7" cy="75.9" r="2.3" fill="#e8141a"/>
<circle cx="255.7" cy="91.5" r="2.3" fill="#e8141a"/>
<circle cx="283.1" cy="116.5" r="2.3" fill="#e8141a"/>
<circle cx="291.0" cy="58.0" r="2.9" fill="#2ed42e"/>
<line x1="340.6" y1="24.5" x2="342.3" y2="29.8" stroke="#7d5335" stroke-width="1.5"/>
<line x1="342.3" y1="29.8" x2="344.1" y2="35.0" stroke="#e8141a" stroke-width="1.5"/>
<line x1="344.1" y1="35.0" x2="343.1" y2="39.8" stroke="#e8141a" stroke-width="1.5"/>
<line x1="343.1" y1="39.8" x2="342.0" y2="44.5" stroke="#7d5335" stroke-width="1.5"/>
<line x1="317.5" y1="42.0" x2="321.3" y2="46.1" stroke="#7d5335" stroke-width="1.5"/>
<line x1="321.3" y1="46.1" x2="325.1" y2="50.1" stroke="#e8141a" stroke-width="1.5"/>
<line x1="325.1" y1="50.1" x2="328.1" y2="52.2" stroke="#e8141a" stroke-width="1.5"/>
<line x1="328.1" y1="52.2" x2="331.1" y2="54.3" stroke="#7d5335" stroke-width="1.5"/>
<line x1="333.6" y1="42.8" x2="337.8" y2="43.6" stroke="#7d5335" stroke-width="1.5"/>
<line x1="337.8" y1="43.6" x2="342.0" y2="44.5" stroke="#7d5335" stroke-width="1.5"/>
<line x1="333.6" y1="42.8" x2="332.3" y2="48.5" stroke="#7d5335" stroke-width="1.5"/>
<line x1="332.3" y1="48.5" x2="331.1" y2="54.3" stroke="#7d5335" stroke-width="1.5"/>
<line x1="342.0" y1="44.5" x2="344.5" y2="49.9" stroke="#7d5335" stroke-width="1.5"/>
<line x1="344.5" y1="49.9" x2="347.0" y2="55.2" stroke="#7d5335" stroke-width="1.5"/>
<line x1="347.0" y1="55.2" x2="347.4" y2="58.6" stroke="#7d5335" stroke-width="1.5"/>
<line x1="347.4" y1="58.6" x2="347.9" y2="62.0" stroke="#7d5335" stroke-width="1.5"/>
<line x1="331.1" y1="54.3" x2="334.2" y2="58.2" stroke="#7d5335" stroke-width="1.5"/>
<line x1="334.2" y1="58.2" x2="337.2" y2="62.0" stroke="#7d5335" stroke-width="1.5"/>
<line x1="337.2" y1="62.0" x2="342.6" y2="62.0" stroke="#7d5335" stroke-width="1.5"/>
<line x1="342.6" y1="62.0" x2="347.9" y2="62.0" stroke="#7d5335" stroke-width="1.5"/>
<line x1="337.2" y1="62.0" x2="336.7" y2="67.5" stroke="#7d5335" stroke-width="1.5"/>
<line x1="336.7" y1="67.5" x2="336.2" y2="73.0" stroke="#7d5335" stroke-width="1.5"/>
<line x1="336.2" y1="73.0" x2="333.1" y2="75.0" stroke="#7d5335" stroke-width="1.5"/>
<line x1="333.1" y1="75.0" x2="329.9" y2="76.9" stroke="#e8141a" stroke-width="1.5"/>
<line x1="336.2" y1="73.0" x2="339.9" y2="78.7" stroke="#7d5335" stroke-width="1.5"/>
<line x1="339.9" y1="78.7" x2="343.5" y2="84.4" stroke="#7d5335" stroke-width="1.5"/>
<line x1="347.9" y1="62.0" x2="348.4" y2="68.8" stroke="#7d5335" stroke-width="1.5"/>
<line x1="348.4" y1="68.8" x2="348.9" y2="75.6" stroke="#e8141a" stroke-width="1.5"/>
<line x1="348.9" y1="75.6" x2="346.2" y2="80.0" stroke="#e8141a" stroke-width="1.5"/>
<line x1="346.2" y1="80.0" x2="343.5" y2="84.4" stroke="#7d5335" stroke-width="1.5"/>
<line x1="343.5" y1="84.4" x2="347.2" y2="86.4" stroke="#7d5335" stroke-width="1.5"/>
<line x1="347.2" y1="86.4" x2="350.8" y2="88.3" stroke="#7d5335" stroke-width="1.5"/>
<line x1="350.8" y1="88.3" x2="354.7" y2="92.3" stroke="#7d5335" stroke-width="1.5"/>
<line x1="354.7" y1="92.3" x2="358.7" y2="96.4" stroke="#7d5335" stroke-width="1.5"/>
<line x1="358.7" y1="96.4" x2="356.0" y2="100.4" stroke="#7d5335" stroke-width="1.5"/>
<line x1="356.0" y1="100.4" x2="353.3" y2="104.4" stroke="#7d5335" stroke-width="1.5"/>
<line x1="353.3" y1="104.4" x2="349.3" y2="103.3" stroke="#7d5335" stroke-width="1.5"/>
<line x1="349.3" y1="103.3" x2="345.3" y2="102.2" stroke="#7d5335" stroke-width="1.5"/>
<line x1="345.3" y1="102.2" x2="342.0" y2="96.9" stroke="#7d5335" stroke-width="1.5"/>
<line x1="342.0" y1="96.9" x2="338.7" y2="91.7" stroke="#7d5335" stroke-width="1.5"/>
<line x1="338.7" y1="91.7" x2="341.1" y2="88.0" stroke="#7d5335" stroke-width="1.5"/>
<line x1="341.1" y1="88.0" x2="343.5" y2="84.4" stroke="#7d5335" stroke-width="1.5"/>
<line x1="338.7" y1="91.7" x2="334.3" y2="90.5" stroke="#7d5335" stroke-width="1.5"/>
<line x1="334.3" y1="90.5" x2="329.9" y2="89.3" stroke="#e8141a" stroke-width="1.5"/>
<line x1="329.9" y1="89.3" x2="325.5" y2="92.8" stroke="#e8141a" stroke-width="1.5"/>
<line x1="325.5" y1="92.8" x2="321.2" y2="96.4" stroke="#7d5335" stroke-width="1.5"/>
<line x1="353.3" y1="104.4" x2="355.0" y2="110.1" stroke="#7d5335" stroke-width="1.5"/>
<line x1="355.0" y1="110.1" x2="356.6" y2="115.8" stroke="#e8141a" stroke-width="1.5"/>
<circle cx="330.4" cy="22.6" r="1.25" fill="#f8eaea" stroke="#cfa8a8" stroke-width="0.6"/>
<circle cx="343.5" cy="20.4" r="1.25" fill="#f8eaea" stroke="#cfa8a8" stroke-width="0.6"/>
<circle cx="346.7" cy="18.5" r="1.25" fill="#f8eaea" stroke="#cfa8a8" stroke-width="0.6"/>
<circle cx="322.3" cy="33.3" r="1.25" fill="#f8eaea" stroke="#cfa8a8" stroke-width="0.6"/>
<circle cx="324.5" cy="36.8" r="1.25" fill="#f8eaea" stroke="#cfa8a8" stroke-width="0.6"/>
<circle cx="309.1" cy="43.4" r="1.25" fill="#f8eaea" stroke="#cfa8a8" stroke-width="0.6"/>
<circle cx="312.8" cy="43.8" r="1.25" fill="#f8eaea" stroke="#cfa8a8" stroke-width="0.6"/>
<circle cx="356.6" cy="80.3" r="1.25" fill="#f8eaea" stroke="#cfa8a8" stroke-width="0.6"/>
<circle cx="311.7" cy="88.3" r="1.25" fill="#f8eaea" stroke="#cfa8a8" stroke-width="0.6"/>
<circle cx="363.1" cy="89.3" r="1.25" fill="#f8eaea" stroke="#cfa8a8" stroke-width="0.6"/>
<circle cx="301.5" cy="96.4" r="1.25" fill="#f8eaea" stroke="#cfa8a8" stroke-width="0.6"/>
<circle cx="367.4" cy="97.5" r="1.25" fill="#f8eaea" stroke="#cfa8a8" stroke-width="0.6"/>
<circle cx="325.1" cy="100.4" r="1.25" fill="#f8eaea" stroke="#cfa8a8" stroke-width="0.6"/>
<circle cx="318.7" cy="103.9" r="1.25" fill="#f8eaea" stroke="#cfa8a8" stroke-width="0.6"/>
<circle cx="341.6" cy="100.4" r="1.25" fill="#f8eaea" stroke="#cfa8a8" stroke-width="0.6"/>
<circle cx="340.9" cy="108.8" r="1.25" fill="#f8eaea" stroke="#cfa8a8" stroke-width="0.6"/>
<circle cx="340.6" cy="24.5" r="2.3" fill="#7d5335" stroke="#5a3a22" stroke-width="0.4"/>
<circle cx="317.5" cy="42.0" r="2.3" fill="#7d5335" stroke="#5a3a22" stroke-width="0.4"/>
<circle cx="333.6" cy="42.8" r="2.3" fill="#7d5335" stroke="#5a3a22" stroke-width="0.4"/>
<circle cx="342.0" cy="44.5" r="2.3" fill="#7d5335" stroke="#5a3a22" stroke-width="0.4"/>
<circle cx="331.1" cy="54.3" r="2.3" fill="#7d5335" stroke="#5a3a22" stroke-width="0.4"/>
<circle cx="347.0" cy="55.2" r="2.3" fill="#7d5335" stroke="#5a3a22" stroke-width="0.4"/>
<circle cx="337.2" cy="62.0" r="2.3" fill="#7d5335" stroke="#5a3a22" stroke-width="0.4"/>
<circle cx="347.9" cy="62.0" r="2.3" fill="#7d5335" stroke="#5a3a22" stroke-width="0.4"/>
<circle cx="336.2" cy="73.0" r="2.3" fill="#7d5335" stroke="#5a3a22" stroke-width="0.4"/>
<circle cx="343.5" cy="84.4" r="2.3" fill="#7d5335" stroke="#5a3a22" stroke-width="0.4"/>
<circle cx="350.8" cy="88.3" r="2.3" fill="#7d5335" stroke="#5a3a22" stroke-width="0.4"/>
<circle cx="347.0" cy="91.7" r="2.3" fill="#7d5335" stroke="#5a3a22" stroke-width="0.4"/>
<circle cx="338.7" cy="91.7" r="2.3" fill="#7d5335" stroke="#5a3a22" stroke-width="0.4"/>
<circle cx="321.2" cy="96.4" r="2.3" fill="#7d5335" stroke="#5a3a22" stroke-width="0.4"/>
<circle cx="358.7" cy="96.4" r="2.3" fill="#7d5335" stroke="#5a3a22" stroke-width="0.4"/>
<circle cx="345.3" cy="102.2" r="2.3" fill="#7d5335" stroke="#5a3a22" stroke-width="0.4"/>
<circle cx="353.3" cy="104.4" r="2.3" fill="#7d5335" stroke="#5a3a22" stroke-width="0.4"/>
<circle cx="344.1" cy="35.0" r="2.3" fill="#e8141a"/>
<circle cx="325.1" cy="50.1" r="2.3" fill="#e8141a"/>
<circle cx="329.9" cy="76.9" r="2.3" fill="#e8141a"/>
<circle cx="348.9" cy="75.6" r="2.3" fill="#e8141a"/>
<circle cx="329.9" cy="89.3" r="2.3" fill="#e8141a"/>
<circle cx="356.6" cy="115.8" r="2.3" fill="#e8141a"/>
<circle cx="362.0" cy="58.4" r="2.9" fill="#2ed42e"/>
<line x1="103.1" y1="233.9" x2="107.6" y2="232.8" stroke="#e8141a" stroke-width="1.5"/>
<line x1="107.6" y1="232.8" x2="112.1" y2="231.7" stroke="#7d5335" stroke-width="1.5"/>
<line x1="112.1" y1="231.7" x2="117.1" y2="230.8" stroke="#7d5335" stroke-width="1.5"/>
<line x1="117.1" y1="230.8" x2="122.0" y2="229.9" stroke="#7d5335" stroke-width="1.5"/>
<line x1="99.7" y1="272.8" x2="104.8" y2="275.5" stroke="#7d5335" stroke-width="1.5"/>
<line x1="104.8" y1="275.5" x2="109.9" y2="278.1" stroke="#7d5335" stroke-width="1.5"/>
<line x1="109.9" y1="278.1" x2="115.0" y2="272.8" stroke="#7d5335" stroke-width="1.5"/>
<line x1="115.0" y1="272.8" x2="120.1" y2="267.4" stroke="#7d5335" stroke-width="1.5"/>
<line x1="109.9" y1="278.1" x2="111.9" y2="281.0" stroke="#7d5335" stroke-width="1.5"/>
<line x1="111.9" y1="281.0" x2="113.9" y2="283.9" stroke="#7d5335" stroke-width="1.5"/>
<line x1="113.9" y1="283.9" x2="114.1" y2="289.8" stroke="#7d5335" stroke-width="1.5"/>
<line x1="114.1" y1="289.8" x2="114.3" y2="295.6" stroke="#7d5335" stroke-width="1.5"/>
<line x1="114.3" y1="295.6" x2="110.7" y2="296.6" stroke="#7d5335" stroke-width="1.5"/>
<line x1="110.7" y1="296.6" x2="107.0" y2="297.7" stroke="#7d5335" stroke-width="1.5"/>
<line x1="114.3" y1="295.6" x2="117.6" y2="297.2" stroke="#7d5335" stroke-width="1.5"/>
<line x1="117.6" y1="297.2" x2="120.9" y2="298.8" stroke="#7d5335" stroke-width="1.5"/>
<line x1="120.9" y1="298.8" x2="122.3" y2="300.7" stroke="#7d5335" stroke-width="1.5"/>
<line x1="122.3" y1="300.7" x2="123.8" y2="302.5" stroke="#7d5335" stroke-width="1.5"/>
<line x1="107.0" y1="297.7" x2="108.5" y2="303.5" stroke="#7d5335" stroke-width="1.5"/>
<line x1="108.5" y1="303.5" x2="109.9" y2="309.3" stroke="#7d5335" stroke-width="1.5"/>
<line x1="109.9" y1="309.3" x2="111.8" y2="315.0" stroke="#7d5335" stroke-width="1.5"/>
<line x1="111.8" y1="315.0" x2="113.6" y2="320.7" stroke="#7d5335" stroke-width="1.5"/>
<line x1="113.6" y1="320.7" x2="110.5" y2="322.3" stroke="#7d5335" stroke-width="1.5"/>
<line x1="110.5" y1="322.3" x2="107.4" y2="323.9" stroke="#7d5335" stroke-width="1.5"/>
<line x1="107.4" y1="323.9" x2="106.1" y2="326.9" stroke="#7d5335" stroke-width="1.5"/>
<line x1="106.1" y1="326.9" x2="104.8" y2="329.8" stroke="#7d5335" stroke-width="1.5"/>
<line x1="104.8" y1="329.8" x2="109.8" y2="332.9" stroke="#7d5335" stroke-width="1.5"/>
<line x1="109.8" y1="332.9" x2="114.7" y2="336.1" stroke="#e8141a" stroke-width="1.5"/>
<line x1="107.4" y1="323.9" x2="111.1" y2="330.0" stroke="#7d5335" stroke-width="1.5"/>
<line x1="111.1" y1="330.0" x2="114.7" y2="336.1" stroke="#e8141a" stroke-width="1.5"/>
<line x1="120.1" y1="267.4" x2="115.8" y2="264.7" stroke="#7d5335" stroke-width="1.5"/>
<line x1="115.8" y1="264.7" x2="111.4" y2="262.0" stroke="#7d5335" stroke-width="1.5"/>
<circle cx="94.6" cy="233.1" r="1.25" fill="#f8eaea" stroke="#cfa8a8" stroke-width="0.6"/>
<circle cx="124.5" cy="237.5" r="1.25" fill="#f8eaea" stroke="#cfa8a8" stroke-width="0.6"/>
<circle cx="126.4" cy="229.1" r="1.25" fill="#f8eaea" stroke="#cfa8a8" stroke-width="0.6"/>
<circle cx="130.4" cy="253.3" r="1.25" fill="#f8eaea" stroke="#cfa8a8" stroke-width="0.6"/>
<circle cx="110.7" cy="253.3" r="1.25" fill="#f8eaea" stroke="#cfa8a8" stroke-width="0.6"/>
<circle cx="116.2" cy="255.0" r="1.25" fill="#f8eaea" stroke="#cfa8a8" stroke-width="0.6"/>
<circle cx="108.0" cy="260.1" r="1.25" fill="#f8eaea" stroke="#cfa8a8" stroke-width="0.6"/>
<circle cx="130.4" cy="261.3" r="1.25" fill="#f8eaea" stroke="#cfa8a8" stroke-width="0.6"/>
<circle cx="121.6" cy="263.1" r="1.25" fill="#f8eaea" stroke="#cfa8a8" stroke-width="0.6"/>
<circle cx="96.8" cy="268.9" r="1.25" fill="#f8eaea" stroke="#cfa8a8" stroke-width="0.6"/>
<circle cx="96.1" cy="271.4" r="1.25" fill="#f8eaea" stroke="#cfa8a8" stroke-width="0.6"/>
<circle cx="108.5" cy="269.6" r="1.25" fill="#f8eaea" stroke="#cfa8a8" stroke-width="0.6"/>
<circle cx="126.4" cy="271.4" r="1.25" fill="#f8eaea" stroke="#cfa8a8" stroke-width="0.6"/>
<circle cx="93.4" cy="279.1" r="1.25" fill="#f8eaea" stroke="#cfa8a8" stroke-width="0.6"/>
<circle cx="106.3" cy="281.3" r="1.25" fill="#f8eaea" stroke="#cfa8a8" stroke-width="0.6"/>
<circle cx="122.3" cy="278.4" r="1.25" fill="#f8eaea" stroke="#cfa8a8" stroke-width="0.6"/>
<circle cx="125.5" cy="288.3" r="1.25" fill="#f8eaea" stroke="#cfa8a8" stroke-width="0.6"/>
<circle cx="93.9" cy="299.6" r="1.25" fill="#f8eaea" stroke="#cfa8a8" stroke-width="0.6"/>
<circle cx="101.6" cy="299.6" r="1.25" fill="#f8eaea" stroke="#cfa8a8" stroke-width="0.6"/>
<circle cx="110.7" cy="297.4" r="1.25" fill="#f8eaea" stroke="#cfa8a8" stroke-width="0.6"/>
<circle cx="133.7" cy="306.9" r="1.25" fill="#f8eaea" stroke="#cfa8a8" stroke-width="0.6"/>
<circle cx="100.1" cy="308.8" r="1.25" fill="#f8eaea" stroke="#cfa8a8" stroke-width="0.6"/>
<circle cx="115.8" cy="308.3" r="1.25" fill="#f8eaea" stroke="#cfa8a8" stroke-width="0.6"/>
<circle cx="119.4" cy="312.3" r="1.25" fill="#f8eaea" stroke="#cfa8a8" stroke-width="0.6"/>
<circle cx="130.4" cy="314.6" r="1.25" fill="#f8eaea" stroke="#cfa8a8" stroke-width="0.6"/>
<circle cx="88.5" cy="313.1" r="1.25" fill="#f8eaea" stroke="#cfa8a8" stroke-width="0.6"/>
<circle cx="113.6" cy="314.9" r="1.25" fill="#f8eaea" stroke="#cfa8a8" stroke-width="0.6"/>
<circle cx="100.4" cy="321.5" r="1.25" fill="#f8eaea" stroke="#cfa8a8" stroke-width="0.6"/>
<circle cx="120.9" cy="321.5" r="1.25" fill="#f8eaea" stroke="#cfa8a8" stroke-width="0.6"/>
<circle cx="113.3" cy="325.4" r="1.25" fill="#f8eaea" stroke="#cfa8a8" stroke-width="0.6"/>
<circle cx="114.7" cy="329.8" r="1.25" fill="#f8eaea" stroke="#cfa8a8" stroke-width="0.6"/>
<circle cx="100.1" cy="335.3" r="1.25" fill="#f8eaea" stroke="#cfa8a8" stroke-width="0.6"/>
<circle cx="125.5" cy="335.3" r="1.25" fill="#f8eaea" stroke="#cfa8a8" stroke-width="0.6"/>
<circle cx="101.6" cy="331.7" r="1.25" fill="#f8eaea" stroke="#cfa8a8" stroke-width="0.6"/>
<circle cx="112.1" cy="231.7" r="2.3" fill="#7d5335" stroke="#5a3a22" stroke-width="0.4"/>
<circle cx="122.0" cy="229.9" r="2.3" fill="#7d5335" stroke="#5a3a22" stroke-width="0.4"/>
<circle cx="128.2" cy="250.4" r="2.3" fill="#7d5335" stroke="#5a3a22" stroke-width="0.4"/>
<circle cx="111.4" cy="262.0" r="2.3" fill="#7d5335" stroke="#5a3a22" stroke-width="0.4"/>
<circle cx="115.0" cy="261.6" r="2.3" fill="#7d5335" stroke="#5a3a22" stroke-width="0.4"/>
<circle cx="120.1" cy="267.4" r="2.3" fill="#7d5335" stroke="#5a3a22" stroke-width="0.4"/>
<circle cx="122.0" cy="270.4" r="2.3" fill="#7d5335" stroke="#5a3a22" stroke-width="0.4"/>
<circle cx="99.7" cy="272.8" r="2.3" fill="#7d5335" stroke="#5a3a22" stroke-width="0.4"/>
<circle cx="109.9" cy="278.1" r="2.3" fill="#7d5335" stroke="#5a3a22" stroke-width="0.4"/>
<circle cx="116.5" cy="281.3" r="2.3" fill="#7d5335" stroke="#5a3a22" stroke-width="0.4"/>
<circle cx="113.9" cy="283.9" r="2.3" fill="#7d5335" stroke="#5a3a22" stroke-width="0.4"/>
<circle cx="114.3" cy="295.6" r="2.3" fill="#7d5335" stroke="#5a3a22" stroke-width="0.4"/>
<circle cx="107.0" cy="297.7" r="2.3" fill="#7d5335" stroke="#5a3a22" stroke-width="0.4"/>
<circle cx="104.1" cy="300.0" r="2.3" fill="#7d5335" stroke="#5a3a22" stroke-width="0.4"/>
<circle cx="120.9" cy="298.8" r="2.3" fill="#7d5335" stroke="#5a3a22" stroke-width="0.4"/>
<circle cx="123.8" cy="302.5" r="2.3" fill="#7d5335" stroke="#5a3a22" stroke-width="0.4"/>
<circle cx="119.7" cy="305.8" r="2.3" fill="#7d5335" stroke="#5a3a22" stroke-width="0.4"/>
<circle cx="109.9" cy="309.3" r="2.3" fill="#7d5335" stroke="#5a3a22" stroke-width="0.4"/>
<circle cx="92.8" cy="311.7" r="2.3" fill="#7d5335" stroke="#5a3a22" stroke-width="0.4"/>
<circle cx="95.3" cy="315.6" r="2.3" fill="#7d5335" stroke="#5a3a22" stroke-width="0.4"/>
<circle cx="113.6" cy="320.7" r="2.3" fill="#7d5335" stroke="#5a3a22" stroke-width="0.4"/>
<circle cx="107.4" cy="323.9" r="2.3" fill="#7d5335" stroke="#5a3a22" stroke-width="0.4"/>
<circle cx="104.8" cy="329.8" r="2.3" fill="#7d5335" stroke="#5a3a22" stroke-width="0.4"/>
<circle cx="110.7" cy="229.9" r="2.3" fill="#e8141a"/>
<circle cx="103.1" cy="233.9" r="2.3" fill="#e8141a"/>
<circle cx="128.2" cy="299.6" r="2.3" fill="#e8141a"/>
<circle cx="114.7" cy="336.1" r="2.3" fill="#e8141a"/>
<line x1="172.8" y1="232.4" x2="177.4" y2="231.2" stroke="#e8141a" stroke-width="1.5"/>
<line x1="177.4" y1="231.2" x2="182.0" y2="229.9" stroke="#7d5335" stroke-width="1.5"/>
<line x1="182.0" y1="229.9" x2="187.5" y2="231.9" stroke="#7d5335" stroke-width="1.5"/>
<line x1="187.5" y1="231.9" x2="193.0" y2="233.9" stroke="#7d5335" stroke-width="1.5"/>
<line x1="193.0" y1="233.9" x2="193.8" y2="240.2" stroke="#7d5335" stroke-width="1.5"/>
<line x1="193.8" y1="240.2" x2="194.7" y2="246.6" stroke="#7d5335" stroke-width="1.5"/>
<line x1="184.9" y1="258.7" x2="187.5" y2="263.1" stroke="#7d5335" stroke-width="1.5"/>
<line x1="187.5" y1="263.1" x2="190.0" y2="267.4" stroke="#7d5335" stroke-width="1.5"/>
<line x1="190.0" y1="267.4" x2="186.4" y2="272.6" stroke="#7d5335" stroke-width="1.5"/>
<line x1="186.4" y1="272.6" x2="182.7" y2="277.7" stroke="#7d5335" stroke-width="1.5"/>
<line x1="169.9" y1="273.3" x2="176.3" y2="275.5" stroke="#7d5335" stroke-width="1.5"/>
<line x1="176.3" y1="275.5" x2="182.7" y2="277.7" stroke="#7d5335" stroke-width="1.5"/>
<line x1="182.7" y1="277.7" x2="183.8" y2="280.9" stroke="#7d5335" stroke-width="1.5"/>
<line x1="183.8" y1="280.9" x2="184.9" y2="284.2" stroke="#7d5335" stroke-width="1.5"/>
<line x1="184.9" y1="284.2" x2="183.5" y2="289.0" stroke="#7d5335" stroke-width="1.5"/>
<line x1="183.5" y1="289.0" x2="182.0" y2="293.7" stroke="#7d5335" stroke-width="1.5"/>
<line x1="184.9" y1="284.2" x2="186.0" y2="289.0" stroke="#7d5335" stroke-width="1.5"/>
<line x1="186.0" y1="289.0" x2="187.1" y2="293.7" stroke="#7d5335" stroke-width="1.5"/>
<line x1="187.1" y1="293.7" x2="190.2" y2="295.7" stroke="#7d5335" stroke-width="1.5"/>
<line x1="190.2" y1="295.7" x2="193.2" y2="297.7" stroke="#7d5335" stroke-width="1.5"/>
<line x1="193.2" y1="297.7" x2="197.8" y2="298.2" stroke="#7d5335" stroke-width="1.5"/>
<line x1="197.8" y1="298.2" x2="202.4" y2="298.8" stroke="#e8141a" stroke-width="1.5"/>
<line x1="187.1" y1="293.7" x2="183.3" y2="296.6" stroke="#7d5335" stroke-width="1.5"/>
<line x1="183.3" y1="296.6" x2="179.5" y2="299.6" stroke="#7d5335" stroke-width="1.5"/>
<line x1="179.5" y1="299.6" x2="178.9" y2="305.2" stroke="#7d5335" stroke-width="1.5"/>
<line x1="178.9" y1="305.2" x2="178.4" y2="310.8" stroke="#7d5335" stroke-width="1.5"/>
<line x1="178.4" y1="310.8" x2="181.9" y2="313.6" stroke="#7d5335" stroke-width="1.5"/>
<line x1="181.9" y1="313.6" x2="185.4" y2="316.4" stroke="#7d5335" stroke-width="1.5"/>
<line x1="185.4" y1="316.4" x2="188.8" y2="315.6" stroke="#7d5335" stroke-width="1.5"/>
<line x1="188.8" y1="315.6" x2="192.2" y2="314.9" stroke="#7d5335" stroke-width="1.5"/>
<line x1="168.4" y1="316.6" x2="171.1" y2="320.5" stroke="#7d5335" stroke-width="1.5"/>
<line x1="171.1" y1="320.5" x2="173.7" y2="324.4" stroke="#7d5335" stroke-width="1.5"/>
<line x1="173.7" y1="324.4" x2="178.9" y2="325.6" stroke="#7d5335" stroke-width="1.5"/>
<line x1="178.9" y1="325.6" x2="184.2" y2="326.9" stroke="#7d5335" stroke-width="1.5"/>
<line x1="184.2" y1="326.9" x2="186.2" y2="333.1" stroke="#7d5335" stroke-width="1.5"/>
<line x1="186.2" y1="333.1" x2="188.3" y2="339.4" stroke="#e8141a" stroke-width="1.5"/>
<circle cx="162.3" cy="230.5" r="1.25" fill="#f8eaea" stroke="#cfa8a8" stroke-width="0.6"/>
<circle cx="202.9" cy="225.1" r="1.25" fill="#f8eaea" stroke="#cfa8a8" stroke-width="0.6"/>
<circle cx="197.3" cy="237.2" r="1.25" fill="#f8eaea" stroke="#cfa8a8" stroke-width="0.6"/>
<circle cx="178.1" cy="248.0" r="1.25" fill="#f8eaea" stroke="#cfa8a8" stroke-width="0.6"/>
<circle cx="174.0" cy="253.9" r="1.25" fill="#f8eaea" stroke="#cfa8a8" stroke-width="0.6"/>
<circle cx="208.7" cy="252.4" r="1.25" fill="#f8eaea" stroke="#cfa8a8" stroke-width="0.6"/>
<circle cx="209.7" cy="259.1" r="1.25" fill="#f8eaea" stroke="#cfa8a8" stroke-width="0.6"/>
<circle cx="166.4" cy="263.5" r="1.25" fill="#f8eaea" stroke="#cfa8a8" stroke-width="0.6"/>
<circle cx="164.9" cy="268.9" r="1.25" fill="#f8eaea" stroke="#cfa8a8" stroke-width="0.6"/>
<circle cx="199.5" cy="263.8" r="1.25" fill="#f8eaea" stroke="#cfa8a8" stroke-width="0.6"/>
<circle cx="205.4" cy="271.4" r="1.25" fill="#f8eaea" stroke="#cfa8a8" stroke-width="0.6"/>
<circle cx="174.0" cy="272.3" r="1.25" fill="#f8eaea" stroke="#cfa8a8" stroke-width="0.6"/>
<circle cx="172.5" cy="279.1" r="1.25" fill="#f8eaea" stroke="#cfa8a8" stroke-width="0.6"/>
<circle cx="207.8" cy="277.2" r="1.25" fill="#f8eaea" stroke="#cfa8a8" stroke-width="0.6"/>
<circle cx="160.5" cy="282.0" r="1.25" fill="#f8eaea" stroke="#cfa8a8" stroke-width="0.6"/>
<circle cx="180.5" cy="281.3" r="1.25" fill="#f8eaea" stroke="#cfa8a8" stroke-width="0.6"/>
<circle cx="203.2" cy="288.9" r="1.25" fill="#f8eaea" stroke="#cfa8a8" stroke-width="0.6"/>
<circle cx="162.3" cy="295.2" r="1.25" fill="#f8eaea" stroke="#cfa8a8" stroke-width="0.6"/>
<circle cx="165.2" cy="298.8" r="1.25" fill="#f8eaea" stroke="#cfa8a8" stroke-width="0.6"/>
<circle cx="174.7" cy="300.0" r="1.25" fill="#f8eaea" stroke="#cfa8a8" stroke-width="0.6"/>
<circle cx="179.5" cy="295.6" r="1.25" fill="#f8eaea" stroke="#cfa8a8" stroke-width="0.6"/>
<circle cx="213.4" cy="306.9" r="1.25" fill="#f8eaea" stroke="#cfa8a8" stroke-width="0.6"/>
<circle cx="156.5" cy="307.9" r="1.25" fill="#f8eaea" stroke="#cfa8a8" stroke-width="0.6"/>
<circle cx="171.4" cy="307.3" r="1.25" fill="#f8eaea" stroke="#cfa8a8" stroke-width="0.6"/>
<circle cx="184.9" cy="304.4" r="1.25" fill="#f8eaea" stroke="#cfa8a8" stroke-width="0.6"/>
<circle cx="188.9" cy="306.1" r="1.25" fill="#f8eaea" stroke="#cfa8a8" stroke-width="0.6"/>
<circle cx="207.6" cy="316.4" r="1.25" fill="#f8eaea" stroke="#cfa8a8" stroke-width="0.6"/>
<circle cx="190.8" cy="313.4" r="1.25" fill="#f8eaea" stroke="#cfa8a8" stroke-width="0.6"/>
<circle cx="185.7" cy="322.2" r="1.25" fill="#f8eaea" stroke="#cfa8a8" stroke-width="0.6"/>
<circle cx="204.3" cy="323.9" r="1.25" fill="#f8eaea" stroke="#cfa8a8" stroke-width="0.6"/>
<circle cx="171.4" cy="327.3" r="1.25" fill="#f8eaea" stroke="#cfa8a8" stroke-width="0.6"/>
<circle cx="168.9" cy="332.4" r="1.25" fill="#f8eaea" stroke="#cfa8a8" stroke-width="0.6"/>
<circle cx="187.8" cy="334.2" r="1.25" fill="#f8eaea" stroke="#cfa8a8" stroke-width="0.6"/>
<circle cx="168.9" cy="340.0" r="1.25" fill="#f8eaea" stroke="#cfa8a8" stroke-width="0.6"/>
<circle cx="202.9" cy="338.0" r="1.25" fill="#f8eaea" stroke="#cfa8a8" stroke-width="0.6"/>
<circle cx="182.0" cy="229.9" r="2.3" fill="#7d5335" stroke="#5a3a22" stroke-width="0.4"/>
<circle cx="193.0" cy="233.9" r="2.3" fill="#7d5335" stroke="#5a3a22" stroke-width="0.4"/>
<circle cx="194.7" cy="246.6" r="2.3" fill="#7d5335" stroke="#5a3a22" stroke-width="0.4"/>
<circle cx="184.9" cy="258.7" r="2.3" fill="#7d5335" stroke="#5a3a22" stroke-width="0.4"/>
<circle cx="193.2" cy="261.9" r="2.3" fill="#7d5335" stroke="#5a3a22" stroke-width="0.4"/>
<circle cx="190.0" cy="267.4" r="2.3" fill="#7d5335" stroke="#5a3a22" stroke-width="0.4"/>
<circle cx="169.9" cy="273.3" r="2.3" fill="#7d5335" stroke="#5a3a22" stroke-width="0.4"/>
<circle cx="182.7" cy="277.7" r="2.3" fill="#7d5335" stroke="#5a3a22" stroke-width="0.4"/>
<circle cx="195.6" cy="277.7" r="2.3" fill="#7d5335" stroke="#5a3a22" stroke-width="0.4"/>
<circle cx="184.9" cy="284.2" r="2.3" fill="#7d5335" stroke="#5a3a22" stroke-width="0.4"/>
<circle cx="182.0" cy="293.7" r="2.3" fill="#7d5335" stroke="#5a3a22" stroke-width="0.4"/>
<circle cx="187.1" cy="293.7" r="2.3" fill="#7d5335" stroke="#5a3a22" stroke-width="0.4"/>
<circle cx="193.2" cy="297.7" r="2.3" fill="#7d5335" stroke="#5a3a22" stroke-width="0.4"/>
<circle cx="179.5" cy="299.6" r="2.3" fill="#7d5335" stroke="#5a3a22" stroke-width="0.4"/>
<circle cx="178.4" cy="310.8" r="2.3" fill="#7d5335" stroke="#5a3a22" stroke-width="0.4"/>
<circle cx="170.8" cy="312.3" r="2.3" fill="#7d5335" stroke="#5a3a22" stroke-width="0.4"/>
<circle cx="168.4" cy="316.6" r="2.3" fill="#7d5335" stroke="#5a3a22" stroke-width="0.4"/>
<circle cx="185.4" cy="316.4" r="2.3" fill="#7d5335" stroke="#5a3a22" stroke-width="0.4"/>
<circle cx="192.2" cy="314.9" r="2.3" fill="#7d5335" stroke="#5a3a22" stroke-width="0.4"/>
<circle cx="173.7" cy="324.4" r="2.3" fill="#7d5335" stroke="#5a3a22" stroke-width="0.4"/>
<circle cx="184.2" cy="326.9" r="2.3" fill="#7d5335" stroke="#5a3a22" stroke-width="0.4"/>
<circle cx="182.0" cy="227.6" r="2.3" fill="#e8141a"/>
<circle cx="172.8" cy="232.4" r="2.3" fill="#e8141a"/>
<circle cx="202.4" cy="298.8" r="2.3" fill="#e8141a"/>
<circle cx="188.3" cy="339.4" r="2.3" fill="#e8141a"/>
<line x1="252.2" y1="232.0" x2="257.3" y2="231.8" stroke="#e8141a" stroke-width="1.5"/>
<line x1="257.3" y1="231.8" x2="262.4" y2="231.7" stroke="#7d5335" stroke-width="1.5"/>
<line x1="262.4" y1="231.7" x2="265.3" y2="235.0" stroke="#7d5335" stroke-width="1.5"/>
<line x1="265.3" y1="235.0" x2="268.2" y2="238.2" stroke="#7d5335" stroke-width="1.5"/>
<line x1="268.2" y1="238.2" x2="269.2" y2="243.4" stroke="#7d5335" stroke-width="1.5"/>
<line x1="269.2" y1="243.4" x2="270.1" y2="248.5" stroke="#7d5335" stroke-width="1.5"/>
<line x1="270.1" y1="248.5" x2="267.0" y2="253.6" stroke="#7d5335" stroke-width="1.5"/>
<line x1="267.0" y1="253.6" x2="263.9" y2="258.7" stroke="#7d5335" stroke-width="1.5"/>
<line x1="263.9" y1="258.7" x2="265.3" y2="262.7" stroke="#7d5335" stroke-width="1.5"/>
<line x1="265.3" y1="262.7" x2="266.8" y2="266.7" stroke="#7d5335" stroke-width="1.5"/>
<line x1="266.8" y1="266.7" x2="263.4" y2="272.0" stroke="#7d5335" stroke-width="1.5"/>
<line x1="263.4" y1="272.0" x2="259.9" y2="277.2" stroke="#7d5335" stroke-width="1.5"/>
<line x1="249.7" y1="273.7" x2="254.8" y2="275.5" stroke="#7d5335" stroke-width="1.5"/>
<line x1="254.8" y1="275.5" x2="259.9" y2="277.2" stroke="#7d5335" stroke-width="1.5"/>
<line x1="259.9" y1="277.2" x2="261.6" y2="280.6" stroke="#7d5335" stroke-width="1.5"/>
<line x1="261.6" y1="280.6" x2="263.3" y2="283.9" stroke="#7d5335" stroke-width="1.5"/>
<line x1="263.3" y1="283.9" x2="267.8" y2="281.5" stroke="#7d5335" stroke-width="1.5"/>
<line x1="267.8" y1="281.5" x2="272.3" y2="279.1" stroke="#7d5335" stroke-width="1.5"/>
<line x1="263.3" y1="283.9" x2="264.2" y2="288.5" stroke="#7d5335" stroke-width="1.5"/>
<line x1="264.2" y1="288.5" x2="265.0" y2="293.0" stroke="#7d5335" stroke-width="1.5"/>
<line x1="263.3" y1="283.9" x2="260.1" y2="289.1" stroke="#7d5335" stroke-width="1.5"/>
<line x1="260.1" y1="289.1" x2="257.0" y2="294.2" stroke="#7d5335" stroke-width="1.5"/>
<line x1="265.0" y1="293.0" x2="269.1" y2="296.3" stroke="#7d5335" stroke-width="1.5"/>
<line x1="269.1" y1="296.3" x2="273.1" y2="299.6" stroke="#7d5335" stroke-width="1.5"/>
<line x1="273.1" y1="299.6" x2="276.0" y2="299.2" stroke="#7d5335" stroke-width="1.5"/>
<line x1="276.0" y1="299.2" x2="278.9" y2="298.8" stroke="#e8141a" stroke-width="1.5"/>
<line x1="273.1" y1="299.6" x2="271.8" y2="305.8" stroke="#7d5335" stroke-width="1.5"/>
<line x1="271.8" y1="305.8" x2="270.6" y2="312.0" stroke="#7d5335" stroke-width="1.5"/>
<line x1="265.0" y1="293.0" x2="261.2" y2="296.3" stroke="#7d5335" stroke-width="1.5"/>
<line x1="261.2" y1="296.3" x2="257.4" y2="299.6" stroke="#7d5335" stroke-width="1.5"/>
<line x1="257.4" y1="299.6" x2="256.5" y2="304.9" stroke="#7d5335" stroke-width="1.5"/>
<line x1="256.5" y1="304.9" x2="255.5" y2="310.2" stroke="#7d5335" stroke-width="1.5"/>
<line x1="255.5" y1="310.2" x2="260.7" y2="312.9" stroke="#7d5335" stroke-width="1.5"/>
<line x1="260.7" y1="312.9" x2="265.8" y2="315.6" stroke="#7d5335" stroke-width="1.5"/>
<line x1="255.5" y1="310.2" x2="251.2" y2="310.9" stroke="#7d5335" stroke-width="1.5"/>
<line x1="251.2" y1="310.9" x2="246.8" y2="311.7" stroke="#7d5335" stroke-width="1.5"/>
<line x1="246.8" y1="311.7" x2="249.3" y2="319.1" stroke="#7d5335" stroke-width="1.5"/>
<line x1="249.3" y1="319.1" x2="251.9" y2="326.6" stroke="#7d5335" stroke-width="1.5"/>
<line x1="251.9" y1="326.6" x2="257.0" y2="326.6" stroke="#7d5335" stroke-width="1.5"/>
<line x1="257.0" y1="326.6" x2="262.1" y2="326.6" stroke="#7d5335" stroke-width="1.5"/>
<line x1="262.1" y1="326.6" x2="265.0" y2="322.8" stroke="#7d5335" stroke-width="1.5"/>
<line x1="265.0" y1="322.8" x2="268.0" y2="319.0" stroke="#7d5335" stroke-width="1.5"/>
<line x1="268.0" y1="319.0" x2="266.9" y2="317.3" stroke="#7d5335" stroke-width="1.5"/>
<line x1="266.9" y1="317.3" x2="265.8" y2="315.6" stroke="#7d5335" stroke-width="1.5"/>
<line x1="262.1" y1="326.6" x2="264.7" y2="331.7" stroke="#7d5335" stroke-width="1.5"/>
<line x1="264.7" y1="331.7" x2="267.2" y2="336.8" stroke="#e8141a" stroke-width="1.5"/>
<line x1="270.6" y1="312.0" x2="268.2" y2="313.8" stroke="#7d5335" stroke-width="1.5"/>
<line x1="268.2" y1="313.8" x2="265.8" y2="315.6" stroke="#7d5335" stroke-width="1.5"/>
<circle cx="242.0" cy="230.2" r="1.25" fill="#f8eaea" stroke="#cfa8a8" stroke-width="0.6"/>
<circle cx="280.4" cy="225.5" r="1.25" fill="#f8eaea" stroke="#cfa8a8" stroke-width="0.6"/>
<circle cx="275.5" cy="236.4" r="1.25" fill="#f8eaea" stroke="#cfa8a8" stroke-width="0.6"/>
<circle cx="273.8" cy="244.5" r="1.25" fill="#f8eaea" stroke="#cfa8a8" stroke-width="0.6"/>
<circle cx="257.0" cy="249.2" r="1.25" fill="#f8eaea" stroke="#cfa8a8" stroke-width="0.6"/>
<circle cx="250.4" cy="252.4" r="1.25" fill="#f8eaea" stroke="#cfa8a8" stroke-width="0.6"/>
<circle cx="285.2" cy="251.4" r="1.25" fill="#f8eaea" stroke="#cfa8a8" stroke-width="0.6"/>
<circle cx="284.3" cy="260.1" r="1.25" fill="#f8eaea" stroke="#cfa8a8" stroke-width="0.6"/>
<circle cx="244.3" cy="263.8" r="1.25" fill="#f8eaea" stroke="#cfa8a8" stroke-width="0.6"/>
<circle cx="243.1" cy="268.9" r="1.25" fill="#f8eaea" stroke="#cfa8a8" stroke-width="0.6"/>
<circle cx="275.5" cy="263.5" r="1.25" fill="#f8eaea" stroke="#cfa8a8" stroke-width="0.6"/>
<circle cx="254.1" cy="269.6" r="1.25" fill="#f8eaea" stroke="#cfa8a8" stroke-width="0.6"/>
<circle cx="282.8" cy="271.1" r="1.25" fill="#f8eaea" stroke="#cfa8a8" stroke-width="0.6"/>
<circle cx="251.2" cy="278.4" r="1.25" fill="#f8eaea" stroke="#cfa8a8" stroke-width="0.6"/>
<circle cx="288.1" cy="278.4" r="1.25" fill="#f8eaea" stroke="#cfa8a8" stroke-width="0.6"/>
<circle cx="238.5" cy="282.0" r="1.25" fill="#f8eaea" stroke="#cfa8a8" stroke-width="0.6"/>
<circle cx="259.2" cy="282.5" r="1.25" fill="#f8eaea" stroke="#cfa8a8" stroke-width="0.6"/>
<circle cx="273.1" cy="277.7" r="1.25" fill="#f8eaea" stroke="#cfa8a8" stroke-width="0.6"/>
<circle cx="278.5" cy="288.3" r="1.25" fill="#f8eaea" stroke="#cfa8a8" stroke-width="0.6"/>
<circle cx="243.4" cy="292.3" r="1.25" fill="#f8eaea" stroke="#cfa8a8" stroke-width="0.6"/>
<circle cx="240.2" cy="295.6" r="1.25" fill="#f8eaea" stroke="#cfa8a8" stroke-width="0.6"/>
<circle cx="251.6" cy="303.2" r="1.25" fill="#f8eaea" stroke="#cfa8a8" stroke-width="0.6"/>
<circle cx="263.6" cy="302.0" r="1.25" fill="#f8eaea" stroke="#cfa8a8" stroke-width="0.6"/>
<circle cx="291.6" cy="305.8" r="1.25" fill="#f8eaea" stroke="#cfa8a8" stroke-width="0.6"/>
<circle cx="235.1" cy="308.8" r="1.25" fill="#f8eaea" stroke="#cfa8a8" stroke-width="0.6"/>
<circle cx="233.2" cy="316.1" r="1.25" fill="#f8eaea" stroke="#cfa8a8" stroke-width="0.6"/>
<circle cx="246.8" cy="309.1" r="1.25" fill="#f8eaea" stroke="#cfa8a8" stroke-width="0.6"/>
<circle cx="285.2" cy="316.1" r="1.25" fill="#f8eaea" stroke="#cfa8a8" stroke-width="0.6"/>
<circle cx="282.6" cy="321.5" r="1.25" fill="#f8eaea" stroke="#cfa8a8" stroke-width="0.6"/>
<circle cx="248.7" cy="326.3" r="1.25" fill="#f8eaea" stroke="#cfa8a8" stroke-width="0.6"/>
<circle cx="245.3" cy="332.4" r="1.25" fill="#f8eaea" stroke="#cfa8a8" stroke-width="0.6"/>
<circle cx="246.8" cy="337.1" r="1.25" fill="#f8eaea" stroke="#cfa8a8" stroke-width="0.6"/>
<circle cx="267.7" cy="333.6" r="1.25" fill="#f8eaea" stroke="#cfa8a8" stroke-width="0.6"/>
<circle cx="280.4" cy="340.0" r="1.25" fill="#f8eaea" stroke="#cfa8a8" stroke-width="0.6"/>
<circle cx="269.1" cy="313.1" r="1.25" fill="#f8eaea" stroke="#cfa8a8" stroke-width="0.6"/>
<circle cx="262.4" cy="231.7" r="2.3" fill="#7d5335" stroke="#5a3a22" stroke-width="0.4"/>
<circle cx="268.2" cy="238.2" r="2.3" fill="#7d5335" stroke="#5a3a22" stroke-width="0.4"/>
<circle cx="270.1" cy="248.5" r="2.3" fill="#7d5335" stroke="#5a3a22" stroke-width="0.4"/>
<circle cx="263.9" cy="258.7" r="2.3" fill="#7d5335" stroke="#5a3a22" stroke-width="0.4"/>
<circle cx="272.0" cy="263.1" r="2.3" fill="#7d5335" stroke="#5a3a22" stroke-width="0.4"/>
<circle cx="266.8" cy="266.7" r="2.3" fill="#7d5335" stroke="#5a3a22" stroke-width="0.4"/>
<circle cx="249.7" cy="273.7" r="2.3" fill="#7d5335" stroke="#5a3a22" stroke-width="0.4"/>
<circle cx="259.9" cy="277.2" r="2.3" fill="#7d5335" stroke="#5a3a22" stroke-width="0.4"/>
<circle cx="272.3" cy="279.1" r="2.3" fill="#7d5335" stroke="#5a3a22" stroke-width="0.4"/>
<circle cx="263.3" cy="283.9" r="2.3" fill="#7d5335" stroke="#5a3a22" stroke-width="0.4"/>
<circle cx="257.0" cy="294.2" r="2.3" fill="#7d5335" stroke="#5a3a22" stroke-width="0.4"/>
<circle cx="265.0" cy="293.0" r="2.3" fill="#7d5335" stroke="#5a3a22" stroke-width="0.4"/>
<circle cx="257.4" cy="299.6" r="2.3" fill="#7d5335" stroke="#5a3a22" stroke-width="0.4"/>
<circle cx="273.1" cy="299.6" r="2.3" fill="#7d5335" stroke="#5a3a22" stroke-width="0.4"/>
<circle cx="255.5" cy="310.2" r="2.3" fill="#7d5335" stroke="#5a3a22" stroke-width="0.4"/>
<circle cx="246.8" cy="311.7" r="2.3" fill="#7d5335" stroke="#5a3a22" stroke-width="0.4"/>
<circle cx="249.7" cy="314.9" r="2.3" fill="#7d5335" stroke="#5a3a22" stroke-width="0.4"/>
<circle cx="270.6" cy="312.0" r="2.3" fill="#7d5335" stroke="#5a3a22" stroke-width="0.4"/>
<circle cx="265.8" cy="315.6" r="2.3" fill="#7d5335" stroke="#5a3a22" stroke-width="0.4"/>
<circle cx="268.0" cy="319.0" r="2.3" fill="#7d5335" stroke="#5a3a22" stroke-width="0.4"/>
<circle cx="251.9" cy="326.6" r="2.3" fill="#7d5335" stroke="#5a3a22" stroke-width="0.4"/>
<circle cx="262.1" cy="326.6" r="2.3" fill="#7d5335" stroke="#5a3a22" stroke-width="0.4"/>
<circle cx="259.2" cy="228.0" r="2.3" fill="#e8141a"/>
<circle cx="252.2" cy="232.0" r="2.3" fill="#e8141a"/>
<circle cx="278.9" cy="298.8" r="2.3" fill="#e8141a"/>
<circle cx="267.2" cy="336.8" r="2.3" fill="#e8141a"/>
<line x1="326.2" y1="232.8" x2="330.0" y2="233.1" stroke="#e8141a" stroke-width="1.5"/>
<line x1="330.0" y1="233.1" x2="333.9" y2="233.4" stroke="#7d5335" stroke-width="1.5"/>
<line x1="333.9" y1="233.4" x2="337.6" y2="236.6" stroke="#7d5335" stroke-width="1.5"/>
<line x1="337.6" y1="236.6" x2="341.2" y2="239.7" stroke="#7d5335" stroke-width="1.5"/>
<line x1="341.2" y1="239.7" x2="341.9" y2="243.7" stroke="#7d5335" stroke-width="1.5"/>
<line x1="341.9" y1="243.7" x2="342.7" y2="247.7" stroke="#7d5335" stroke-width="1.5"/>
<line x1="342.7" y1="247.7" x2="339.3" y2="253.2" stroke="#7d5335" stroke-width="1.5"/>
<line x1="339.3" y1="253.2" x2="335.9" y2="258.7" stroke="#7d5335" stroke-width="1.5"/>
<line x1="335.9" y1="258.7" x2="337.6" y2="263.1" stroke="#7d5335" stroke-width="1.5"/>
<line x1="337.6" y1="263.1" x2="339.3" y2="267.4" stroke="#7d5335" stroke-width="1.5"/>
<line x1="339.3" y1="267.4" x2="342.0" y2="266.5" stroke="#7d5335" stroke-width="1.5"/>
<line x1="342.0" y1="266.5" x2="344.7" y2="265.5" stroke="#7d5335" stroke-width="1.5"/>
<line x1="344.7" y1="265.5" x2="344.4" y2="271.6" stroke="#7d5335" stroke-width="1.5"/>
<line x1="344.4" y1="271.6" x2="344.1" y2="277.7" stroke="#7d5335" stroke-width="1.5"/>
<line x1="344.1" y1="277.7" x2="339.7" y2="280.8" stroke="#7d5335" stroke-width="1.5"/>
<line x1="339.7" y1="280.8" x2="335.4" y2="283.9" stroke="#7d5335" stroke-width="1.5"/>
<line x1="339.3" y1="267.4" x2="336.0" y2="272.2" stroke="#7d5335" stroke-width="1.5"/>
<line x1="336.0" y1="272.2" x2="332.7" y2="276.9" stroke="#7d5335" stroke-width="1.5"/>
<line x1="322.2" y1="273.7" x2="327.5" y2="275.3" stroke="#7d5335" stroke-width="1.5"/>
<line x1="327.5" y1="275.3" x2="332.7" y2="276.9" stroke="#7d5335" stroke-width="1.5"/>
<line x1="332.7" y1="276.9" x2="334.1" y2="280.4" stroke="#7d5335" stroke-width="1.5"/>
<line x1="334.1" y1="280.4" x2="335.4" y2="283.9" stroke="#7d5335" stroke-width="1.5"/>
<line x1="335.4" y1="283.9" x2="336.1" y2="288.8" stroke="#7d5335" stroke-width="1.5"/>
<line x1="336.1" y1="288.8" x2="336.8" y2="293.7" stroke="#7d5335" stroke-width="1.5"/>
<line x1="335.4" y1="283.9" x2="332.4" y2="289.1" stroke="#7d5335" stroke-width="1.5"/>
<line x1="332.4" y1="289.1" x2="329.5" y2="294.2" stroke="#7d5335" stroke-width="1.5"/>
<line x1="336.8" y1="293.7" x2="341.0" y2="297.0" stroke="#7d5335" stroke-width="1.5"/>
<line x1="341.0" y1="297.0" x2="345.1" y2="300.3" stroke="#7d5335" stroke-width="1.5"/>
<line x1="345.1" y1="300.3" x2="349.3" y2="299.4" stroke="#7d5335" stroke-width="1.5"/>
<line x1="349.3" y1="299.4" x2="353.5" y2="298.5" stroke="#e8141a" stroke-width="1.5"/>
<line x1="345.1" y1="300.3" x2="344.2" y2="305.5" stroke="#7d5335" stroke-width="1.5"/>
<line x1="344.2" y1="305.5" x2="343.2" y2="310.8" stroke="#7d5335" stroke-width="1.5"/>
<line x1="343.2" y1="310.8" x2="340.8" y2="313.6" stroke="#7d5335" stroke-width="1.5"/>
<line x1="340.8" y1="313.6" x2="338.3" y2="316.4" stroke="#7d5335" stroke-width="1.5"/>
<line x1="336.8" y1="293.7" x2="333.0" y2="296.6" stroke="#7d5335" stroke-width="1.5"/>
<line x1="333.0" y1="296.6" x2="329.1" y2="299.6" stroke="#7d5335" stroke-width="1.5"/>
<line x1="329.1" y1="299.6" x2="328.0" y2="305.0" stroke="#7d5335" stroke-width="1.5"/>
<line x1="328.0" y1="305.0" x2="326.9" y2="310.5" stroke="#7d5335" stroke-width="1.5"/>
<line x1="326.9" y1="310.5" x2="332.6" y2="313.4" stroke="#7d5335" stroke-width="1.5"/>
<line x1="332.6" y1="313.4" x2="338.3" y2="316.4" stroke="#7d5335" stroke-width="1.5"/>
<line x1="326.9" y1="310.5" x2="323.6" y2="311.4" stroke="#7d5335" stroke-width="1.5"/>
<line x1="323.6" y1="311.4" x2="320.3" y2="312.3" stroke="#7d5335" stroke-width="1.5"/>
<line x1="320.3" y1="312.3" x2="322.7" y2="318.7" stroke="#7d5335" stroke-width="1.5"/>
<line x1="322.7" y1="318.7" x2="325.1" y2="325.1" stroke="#7d5335" stroke-width="1.5"/>
<line x1="325.1" y1="325.1" x2="329.8" y2="325.5" stroke="#7d5335" stroke-width="1.5"/>
<line x1="329.8" y1="325.5" x2="334.5" y2="325.8" stroke="#7d5335" stroke-width="1.5"/>
<line x1="334.5" y1="325.8" x2="337.4" y2="322.6" stroke="#7d5335" stroke-width="1.5"/>
<line x1="337.4" y1="322.6" x2="340.3" y2="319.3" stroke="#7d5335" stroke-width="1.5"/>
<line x1="340.3" y1="319.3" x2="339.3" y2="317.8" stroke="#7d5335" stroke-width="1.5"/>
<line x1="339.3" y1="317.8" x2="338.3" y2="316.4" stroke="#7d5335" stroke-width="1.5"/>
<line x1="334.5" y1="325.8" x2="336.9" y2="330.9" stroke="#7d5335" stroke-width="1.5"/>
<line x1="336.9" y1="330.9" x2="339.3" y2="336.1" stroke="#e8141a" stroke-width="1.5"/>
<circle cx="320.3" cy="229.1" r="1.25" fill="#f8eaea" stroke="#cfa8a8" stroke-width="0.6"/>
<circle cx="349.5" cy="231.4" r="1.25" fill="#f8eaea" stroke="#cfa8a8" stroke-width="0.6"/>
<circle cx="345.6" cy="238.2" r="1.25" fill="#f8eaea" stroke="#cfa8a8" stroke-width="0.6"/>
<circle cx="344.7" cy="245.5" r="1.25" fill="#f8eaea" stroke="#cfa8a8" stroke-width="0.6"/>
<circle cx="352.0" cy="249.5" r="1.25" fill="#f8eaea" stroke="#cfa8a8" stroke-width="0.6"/>
<circle cx="331.0" cy="251.8" r="1.25" fill="#f8eaea" stroke="#cfa8a8" stroke-width="0.6"/>
<circle cx="328.1" cy="254.3" r="1.25" fill="#f8eaea" stroke="#cfa8a8" stroke-width="0.6"/>
<circle cx="353.2" cy="263.1" r="1.25" fill="#f8eaea" stroke="#cfa8a8" stroke-width="0.6"/>
<circle cx="319.3" cy="266.7" r="1.25" fill="#f8eaea" stroke="#cfa8a8" stroke-width="0.6"/>
<circle cx="318.9" cy="271.1" r="1.25" fill="#f8eaea" stroke="#cfa8a8" stroke-width="0.6"/>
<circle cx="329.5" cy="266.4" r="1.25" fill="#f8eaea" stroke="#cfa8a8" stroke-width="0.6"/>
<circle cx="349.5" cy="268.9" r="1.25" fill="#f8eaea" stroke="#cfa8a8" stroke-width="0.6"/>
<circle cx="338.3" cy="262.0" r="1.25" fill="#f8eaea" stroke="#cfa8a8" stroke-width="0.6"/>
<circle cx="345.1" cy="262.0" r="1.25" fill="#f8eaea" stroke="#cfa8a8" stroke-width="0.6"/>
<circle cx="316.4" cy="281.3" r="1.25" fill="#f8eaea" stroke="#cfa8a8" stroke-width="0.6"/>
<circle cx="327.2" cy="280.6" r="1.25" fill="#f8eaea" stroke="#cfa8a8" stroke-width="0.6"/>
<circle cx="352.9" cy="279.6" r="1.25" fill="#f8eaea" stroke="#cfa8a8" stroke-width="0.6"/>
<circle cx="344.7" cy="288.3" r="1.25" fill="#f8eaea" stroke="#cfa8a8" stroke-width="0.6"/>
<circle cx="320.3" cy="291.2" r="1.25" fill="#f8eaea" stroke="#cfa8a8" stroke-width="0.6"/>
<circle cx="319.6" cy="296.2" r="1.25" fill="#f8eaea" stroke="#cfa8a8" stroke-width="0.6"/>
<circle cx="334.2" cy="298.5" r="1.25" fill="#f8eaea" stroke="#cfa8a8" stroke-width="0.6"/>
<circle cx="358.7" cy="305.4" r="1.25" fill="#f8eaea" stroke="#cfa8a8" stroke-width="0.6"/>
<circle cx="323.2" cy="306.9" r="1.25" fill="#f8eaea" stroke="#cfa8a8" stroke-width="0.6"/>
<circle cx="310.5" cy="310.2" r="1.25" fill="#f8eaea" stroke="#cfa8a8" stroke-width="0.6"/>
<circle cx="312.6" cy="317.5" r="1.25" fill="#f8eaea" stroke="#cfa8a8" stroke-width="0.6"/>
<circle cx="353.5" cy="314.9" r="1.25" fill="#f8eaea" stroke="#cfa8a8" stroke-width="0.6"/>
<circle cx="320.8" cy="322.2" r="1.25" fill="#f8eaea" stroke="#cfa8a8" stroke-width="0.6"/>
<circle cx="350.3" cy="321.5" r="1.25" fill="#f8eaea" stroke="#cfa8a8" stroke-width="0.6"/>
<circle cx="318.9" cy="327.3" r="1.25" fill="#f8eaea" stroke="#cfa8a8" stroke-width="0.6"/>
<circle cx="321.4" cy="330.7" r="1.25" fill="#f8eaea" stroke="#cfa8a8" stroke-width="0.6"/>
<circle cx="339.7" cy="327.3" r="1.25" fill="#f8eaea" stroke="#cfa8a8" stroke-width="0.6"/>
<circle cx="346.2" cy="338.0" r="1.25" fill="#f8eaea" stroke="#cfa8a8" stroke-width="0.6"/>
<circle cx="339.7" cy="313.1" r="1.25" fill="#f8eaea" stroke="#cfa8a8" stroke-width="0.6"/>
<circle cx="333.9" cy="233.4" r="2.3" fill="#7d5335" stroke="#5a3a22" stroke-width="0.4"/>
<circle cx="341.2" cy="239.7" r="2.3" fill="#7d5335" stroke="#5a3a22" stroke-width="0.4"/>
<circle cx="342.7" cy="247.7" r="2.3" fill="#7d5335" stroke="#5a3a22" stroke-width="0.4"/>
<circle cx="335.9" cy="258.7" r="2.3" fill="#7d5335" stroke="#5a3a22" stroke-width="0.4"/>
<circle cx="339.3" cy="267.4" r="2.3" fill="#7d5335" stroke="#5a3a22" stroke-width="0.4"/>
<circle cx="344.7" cy="265.5" r="2.3" fill="#7d5335" stroke="#5a3a22" stroke-width="0.4"/>
<circle cx="322.2" cy="273.7" r="2.3" fill="#7d5335" stroke="#5a3a22" stroke-width="0.4"/>
<circle cx="332.7" cy="276.9" r="2.3" fill="#7d5335" stroke="#5a3a22" stroke-width="0.4"/>
<circle cx="344.1" cy="277.7" r="2.3" fill="#7d5335" stroke="#5a3a22" stroke-width="0.4"/>
<circle cx="335.4" cy="283.9" r="2.3" fill="#7d5335" stroke="#5a3a22" stroke-width="0.4"/>
<circle cx="329.5" cy="294.2" r="2.3" fill="#7d5335" stroke="#5a3a22" stroke-width="0.4"/>
<circle cx="336.8" cy="293.7" r="2.3" fill="#7d5335" stroke="#5a3a22" stroke-width="0.4"/>
<circle cx="329.1" cy="299.6" r="2.3" fill="#7d5335" stroke="#5a3a22" stroke-width="0.4"/>
<circle cx="345.1" cy="300.3" r="2.3" fill="#7d5335" stroke="#5a3a22" stroke-width="0.4"/>
<circle cx="326.9" cy="310.5" r="2.3" fill="#7d5335" stroke="#5a3a22" stroke-width="0.4"/>
<circle cx="320.3" cy="312.3" r="2.3" fill="#7d5335" stroke="#5a3a22" stroke-width="0.4"/>
<circle cx="321.8" cy="316.1" r="2.3" fill="#7d5335" stroke="#5a3a22" stroke-width="0.4"/>
<circle cx="343.2" cy="310.8" r="2.3" fill="#7d5335" stroke="#5a3a22" stroke-width="0.4"/>
<circle cx="338.3" cy="316.4" r="2.3" fill="#7d5335" stroke="#5a3a22" stroke-width="0.4"/>
<circle cx="340.3" cy="319.3" r="2.3" fill="#7d5335" stroke="#5a3a22" stroke-width="0.4"/>
<circle cx="325.1" cy="325.1" r="2.3" fill="#7d5335" stroke="#5a3a22" stroke-width="0.4"/>
<circle cx="334.5" cy="325.8" r="2.3" fill="#7d5335" stroke="#5a3a22" stroke-width="0.4"/>
<circle cx="330.5" cy="229.1" r="2.3" fill="#e8141a"/>
<circle cx="326.2" cy="232.8" r="2.3" fill="#e8141a"/>
<circle cx="353.5" cy="298.5" r="2.3" fill="#e8141a"/>
<circle cx="339.3" cy="336.1" r="2.3" fill="#e8141a"/>
<line x1="412.2" y1="24.8" x2="414.4" y2="21.9" stroke="#7d5335" stroke-width="1.1"/>
<line x1="414.4" y1="21.9" x2="416.6" y2="19.0" stroke="#e8cccc" stroke-width="1.1"/>
<line x1="412.2" y1="24.8" x2="408.1" y2="24.7" stroke="#7d5335" stroke-width="1.1"/>
<line x1="408.1" y1="24.7" x2="403.9" y2="24.5" stroke="#e8cccc" stroke-width="1.1"/>
<line x1="388.1" y1="42.6" x2="385.2" y2="42.8" stroke="#7d5335" stroke-width="1.1"/>
<line x1="385.2" y1="42.8" x2="382.3" y2="43.1" stroke="#e8cccc" stroke-width="1.1"/>
<line x1="422.4" y1="74.7" x2="424.6" y2="77.2" stroke="#e8141a" stroke-width="1.1"/>
<line x1="424.6" y1="77.2" x2="426.8" y2="79.6" stroke="#e8cccc" stroke-width="1.1"/>
<line x1="429.7" y1="94.9" x2="431.7" y2="92.8" stroke="#7d5335" stroke-width="1.1"/>
<line x1="431.7" y1="92.8" x2="433.7" y2="90.8" stroke="#e8cccc" stroke-width="1.1"/>
<line x1="429.7" y1="94.9" x2="433.0" y2="96.2" stroke="#7d5335" stroke-width="1.1"/>
<line x1="433.0" y1="96.2" x2="436.3" y2="97.5" stroke="#e8cccc" stroke-width="1.1"/>
<line x1="422.4" y1="87.3" x2="423.2" y2="90.0" stroke="#7d5335" stroke-width="1.1"/>
<line x1="423.2" y1="90.0" x2="423.9" y2="92.7" stroke="#e8cccc" stroke-width="1.1"/>
<line x1="392.5" y1="95.2" x2="391.8" y2="98.1" stroke="#7d5335" stroke-width="1.1"/>
<line x1="391.8" y1="98.1" x2="391.1" y2="101.0" stroke="#e8cccc" stroke-width="1.1"/>
<line x1="392.5" y1="95.2" x2="394.0" y2="97.4" stroke="#7d5335" stroke-width="1.1"/>
<line x1="394.0" y1="97.4" x2="395.4" y2="99.6" stroke="#e8cccc" stroke-width="1.1"/>
<line x1="415.9" y1="100.4" x2="413.3" y2="103.6" stroke="#7d5335" stroke-width="1.1"/>
<line x1="413.3" y1="103.6" x2="410.8" y2="106.9" stroke="#e8cccc" stroke-width="1.1"/>
<line x1="415.9" y1="100.4" x2="415.0" y2="99.3" stroke="#7d5335" stroke-width="1.1"/>
<line x1="415.0" y1="99.3" x2="414.1" y2="98.1" stroke="#e8cccc" stroke-width="1.1"/>
<line x1="412.2" y1="24.8" x2="414.4" y2="30.3" stroke="#7d5335" stroke-width="1.5"/>
<line x1="414.4" y1="30.3" x2="416.6" y2="35.8" stroke="#e8141a" stroke-width="1.5"/>
<line x1="416.6" y1="35.8" x2="414.4" y2="39.8" stroke="#e8141a" stroke-width="1.5"/>
<line x1="414.4" y1="39.8" x2="412.2" y2="43.8" stroke="#7d5335" stroke-width="1.5"/>
<line x1="388.1" y1="42.6" x2="391.8" y2="47.4" stroke="#7d5335" stroke-width="1.5"/>
<line x1="391.8" y1="47.4" x2="395.4" y2="52.3" stroke="#e8141a" stroke-width="1.5"/>
<line x1="395.4" y1="52.3" x2="399.1" y2="52.6" stroke="#e8141a" stroke-width="1.5"/>
<line x1="399.1" y1="52.6" x2="402.7" y2="52.8" stroke="#7d5335" stroke-width="1.5"/>
<line x1="403.5" y1="42.6" x2="407.8" y2="43.2" stroke="#7d5335" stroke-width="1.5"/>
<line x1="407.8" y1="43.2" x2="412.2" y2="43.8" stroke="#7d5335" stroke-width="1.5"/>
<line x1="403.5" y1="42.6" x2="403.1" y2="47.7" stroke="#7d5335" stroke-width="1.5"/>
<line x1="403.1" y1="47.7" x2="402.7" y2="52.8" stroke="#7d5335" stroke-width="1.5"/>
<line x1="412.2" y1="43.8" x2="415.1" y2="48.5" stroke="#7d5335" stroke-width="1.5"/>
<line x1="415.1" y1="48.5" x2="418.1" y2="53.3" stroke="#7d5335" stroke-width="1.5"/>
<line x1="418.1" y1="53.3" x2="424.1" y2="53.5" stroke="#7d5335" stroke-width="1.5"/>
<line x1="424.1" y1="53.5" x2="430.2" y2="53.7" stroke="#2ed42e" stroke-width="1.5"/>
<line x1="418.1" y1="53.3" x2="417.7" y2="58.2" stroke="#7d5335" stroke-width="1.5"/>
<line x1="417.7" y1="58.2" x2="417.3" y2="63.1" stroke="#7d5335" stroke-width="1.5"/>
<line x1="402.7" y1="52.8" x2="405.7" y2="57.4" stroke="#7d5335" stroke-width="1.5"/>
<line x1="405.7" y1="57.4" x2="408.6" y2="62.0" stroke="#7d5335" stroke-width="1.5"/>
<line x1="408.6" y1="62.0" x2="413.0" y2="62.6" stroke="#7d5335" stroke-width="1.5"/>
<line x1="413.0" y1="62.6" x2="417.3" y2="63.1" stroke="#7d5335" stroke-width="1.5"/>
<line x1="408.6" y1="62.0" x2="407.5" y2="67.5" stroke="#7d5335" stroke-width="1.5"/>
<line x1="407.5" y1="67.5" x2="406.4" y2="73.0" stroke="#7d5335" stroke-width="1.5"/>
<line x1="406.4" y1="73.0" x2="403.5" y2="74.5" stroke="#7d5335" stroke-width="1.5"/>
<line x1="403.5" y1="74.5" x2="400.5" y2="75.9" stroke="#e8141a" stroke-width="1.5"/>
<line x1="406.4" y1="73.0" x2="411.1" y2="77.5" stroke="#7d5335" stroke-width="1.5"/>
<line x1="411.1" y1="77.5" x2="415.9" y2="82.0" stroke="#7d5335" stroke-width="1.5"/>
<line x1="417.3" y1="63.1" x2="419.9" y2="68.9" stroke="#7d5335" stroke-width="1.5"/>
<line x1="419.9" y1="68.9" x2="422.4" y2="74.7" stroke="#e8141a" stroke-width="1.5"/>
<line x1="422.4" y1="74.7" x2="419.2" y2="78.4" stroke="#e8141a" stroke-width="1.5"/>
<line x1="419.2" y1="78.4" x2="415.9" y2="82.0" stroke="#7d5335" stroke-width="1.5"/>
<line x1="415.9" y1="82.0" x2="419.2" y2="84.7" stroke="#7d5335" stroke-width="1.5"/>
<line x1="419.2" y1="84.7" x2="422.4" y2="87.3" stroke="#7d5335" stroke-width="1.5"/>
<line x1="422.4" y1="87.3" x2="426.1" y2="91.1" stroke="#7d5335" stroke-width="1.5"/>
<line x1="426.1" y1="91.1" x2="429.7" y2="94.9" stroke="#7d5335" stroke-width="1.5"/>
<line x1="429.7" y1="94.9" x2="426.5" y2="99.4" stroke="#7d5335" stroke-width="1.5"/>
<line x1="426.5" y1="99.4" x2="423.2" y2="103.9" stroke="#7d5335" stroke-width="1.5"/>
<line x1="423.2" y1="103.9" x2="419.5" y2="102.2" stroke="#7d5335" stroke-width="1.5"/>
<line x1="419.5" y1="102.2" x2="415.9" y2="100.4" stroke="#7d5335" stroke-width="1.5"/>
<line x1="415.9" y1="100.4" x2="412.6" y2="95.6" stroke="#7d5335" stroke-width="1.5"/>
<line x1="412.6" y1="95.6" x2="409.3" y2="90.8" stroke="#7d5335" stroke-width="1.5"/>
<line x1="409.3" y1="90.8" x2="412.6" y2="86.4" stroke="#7d5335" stroke-width="1.5"/>
<line x1="412.6" y1="86.4" x2="415.9" y2="82.0" stroke="#7d5335" stroke-width="1.5"/>
<line x1="409.3" y1="90.8" x2="405.4" y2="89.1" stroke="#7d5335" stroke-width="1.5"/>
<line x1="405.4" y1="89.1" x2="401.6" y2="87.3" stroke="#e8141a" stroke-width="1.5"/>
<line x1="401.6" y1="87.3" x2="397.0" y2="91.2" stroke="#e8141a" stroke-width="1.5"/>
<line x1="397.0" y1="91.2" x2="392.5" y2="95.2" stroke="#7d5335" stroke-width="1.5"/>
<line x1="423.2" y1="103.9" x2="425.2" y2="109.1" stroke="#7d5335" stroke-width="1.5"/>
<line x1="425.2" y1="109.1" x2="427.3" y2="114.2" stroke="#e8141a" stroke-width="1.5"/>
<line x1="415.9" y1="82.0" x2="417.0" y2="86.9" stroke="#7d5335" stroke-width="1.5"/>
<line x1="417.0" y1="86.9" x2="418.1" y2="91.7" stroke="#7d5335" stroke-width="1.5"/>
<circle cx="416.6" cy="19.0" r="1.5" fill="#f8eaea" stroke="#cfa8a8" stroke-width="0.6"/>
<circle cx="403.9" cy="24.5" r="1.5" fill="#f8eaea" stroke="#cfa8a8" stroke-width="0.6"/>
<circle cx="392.5" cy="34.3" r="1.5" fill="#f8eaea" stroke="#cfa8a8" stroke-width="0.6"/>
<circle cx="396.9" cy="35.3" r="1.5" fill="#f8eaea" stroke="#cfa8a8" stroke-width="0.6"/>
<circle cx="382.3" cy="43.1" r="1.5" fill="#f8eaea" stroke="#cfa8a8" stroke-width="0.6"/>
<circle cx="426.8" cy="79.6" r="1.5" fill="#f8eaea" stroke="#cfa8a8" stroke-width="0.6"/>
<circle cx="384.9" cy="90.2" r="1.5" fill="#f8eaea" stroke="#cfa8a8" stroke-width="0.6"/>
<circle cx="433.7" cy="90.8" r="1.5" fill="#f8eaea" stroke="#cfa8a8" stroke-width="0.6"/>
<circle cx="436.3" cy="97.5" r="1.5" fill="#f8eaea" stroke="#cfa8a8" stroke-width="0.6"/>
<circle cx="423.9" cy="92.7" r="1.5" fill="#f8eaea" stroke="#cfa8a8" stroke-width="0.6"/>
<circle cx="391.1" cy="101.0" r="1.5" fill="#f8eaea" stroke="#cfa8a8" stroke-width="0.6"/>
<circle cx="395.4" cy="99.6" r="1.5" fill="#f8eaea" stroke="#cfa8a8" stroke-width="0.6"/>
<circle cx="410.8" cy="106.9" r="1.5" fill="#f8eaea" stroke="#cfa8a8" stroke-width="0.6"/>
<circle cx="414.1" cy="98.1" r="1.5" fill="#f8eaea" stroke="#cfa8a8" stroke-width="0.6"/>
<circle cx="412.2" cy="24.8" r="2.3" fill="#7d5335" stroke="#5a3a22" stroke-width="0.4"/>
<circle cx="388.1" cy="42.6" r="2.3" fill="#7d5335" stroke="#5a3a22" stroke-width="0.4"/>
<circle cx="403.5" cy="42.6" r="2.3" fill="#7d5335" stroke="#5a3a22" stroke-width="0.4"/>
<circle cx="412.2" cy="43.8" r="2.3" fill="#7d5335" stroke="#5a3a22" stroke-width="0.4"/>
<circle cx="402.7" cy="52.8" r="2.3" fill="#7d5335" stroke="#5a3a22" stroke-width="0.4"/>
<circle cx="418.1" cy="53.3" r="2.3" fill="#7d5335" stroke="#5a3a22" stroke-width="0.4"/>
<circle cx="408.6" cy="62.0" r="2.3" fill="#7d5335" stroke="#5a3a22" stroke-width="0.4"/>
<circle cx="417.3" cy="63.1" r="2.3" fill="#7d5335" stroke="#5a3a22" stroke-width="0.4"/>
<circle cx="406.4" cy="73.0" r="2.3" fill="#7d5335" stroke="#5a3a22" stroke-width="0.4"/>
<circle cx="415.9" cy="82.0" r="2.3" fill="#7d5335" stroke="#5a3a22" stroke-width="0.4"/>
<circle cx="422.4" cy="87.3" r="2.3" fill="#7d5335" stroke="#5a3a22" stroke-width="0.4"/>
<circle cx="409.3" cy="90.8" r="2.3" fill="#7d5335" stroke="#5a3a22" stroke-width="0.4"/>
<circle cx="418.1" cy="91.7" r="2.3" fill="#7d5335" stroke="#5a3a22" stroke-width="0.4"/>
<circle cx="429.7" cy="94.9" r="2.3" fill="#7d5335" stroke="#5a3a22" stroke-width="0.4"/>
<circle cx="392.5" cy="95.2" r="2.3" fill="#7d5335" stroke="#5a3a22" stroke-width="0.4"/>
<circle cx="415.9" cy="100.4" r="2.3" fill="#7d5335" stroke="#5a3a22" stroke-width="0.4"/>
<circle cx="423.2" cy="103.9" r="2.3" fill="#7d5335" stroke="#5a3a22" stroke-width="0.4"/>
<circle cx="416.6" cy="35.8" r="2.3" fill="#e8141a"/>
<circle cx="395.4" cy="52.3" r="2.3" fill="#e8141a"/>
<circle cx="400.5" cy="75.9" r="2.3" fill="#e8141a"/>
<circle cx="422.4" cy="74.7" r="2.3" fill="#e8141a"/>
<circle cx="401.6" cy="87.3" r="2.3" fill="#e8141a"/>
<circle cx="427.3" cy="114.2" r="2.3" fill="#e8141a"/>
<circle cx="430.2" cy="53.7" r="2.9" fill="#2ed42e"/>
<line x1="401.6" y1="233.4" x2="399.9" y2="230.9" stroke="#e8141a" stroke-width="1.1"/>
<line x1="399.9" y1="230.9" x2="398.2" y2="228.5" stroke="#e8cccc" stroke-width="1.1"/>
<line x1="418.7" y1="238.7" x2="421.2" y2="236.3" stroke="#7d5335" stroke-width="1.1"/>
<line x1="421.2" y1="236.3" x2="423.8" y2="233.9" stroke="#e8cccc" stroke-width="1.1"/>
<line x1="419.7" y1="249.2" x2="423.4" y2="250.5" stroke="#7d5335" stroke-width="1.1"/>
<line x1="423.4" y1="250.5" x2="427.0" y2="251.8" stroke="#e8cccc" stroke-width="1.1"/>
<line x1="411.8" y1="258.2" x2="410.1" y2="255.2" stroke="#7d5335" stroke-width="1.1"/>
<line x1="410.1" y1="255.2" x2="408.5" y2="252.1" stroke="#e8cccc" stroke-width="1.1"/>
<line x1="411.8" y1="258.2" x2="408.7" y2="256.6" stroke="#7d5335" stroke-width="1.1"/>
<line x1="408.7" y1="256.6" x2="405.5" y2="255.0" stroke="#e8cccc" stroke-width="1.1"/>
<line x1="419.7" y1="266.4" x2="419.6" y2="263.3" stroke="#7d5335" stroke-width="1.1"/>
<line x1="419.6" y1="263.3" x2="419.4" y2="260.1" stroke="#e8cccc" stroke-width="1.1"/>
<line x1="411.8" y1="258.2" x2="409.2" y2="261.4" stroke="#7d5335" stroke-width="1.1"/>
<line x1="409.2" y1="261.4" x2="406.6" y2="264.5" stroke="#e8cccc" stroke-width="1.1"/>
<line x1="419.7" y1="266.4" x2="423.4" y2="264.5" stroke="#7d5335" stroke-width="1.1"/>
<line x1="423.4" y1="264.5" x2="427.0" y2="262.6" stroke="#e8cccc" stroke-width="1.1"/>
<line x1="419.7" y1="266.4" x2="421.2" y2="268.0" stroke="#7d5335" stroke-width="1.1"/>
<line x1="421.2" y1="268.0" x2="422.6" y2="269.6" stroke="#e8cccc" stroke-width="1.1"/>
<line x1="397.8" y1="273.7" x2="396.8" y2="270.6" stroke="#7d5335" stroke-width="1.1"/>
<line x1="396.8" y1="270.6" x2="395.8" y2="267.4" stroke="#e8cccc" stroke-width="1.1"/>
<line x1="397.8" y1="273.7" x2="396.6" y2="272.4" stroke="#7d5335" stroke-width="1.1"/>
<line x1="396.6" y1="272.4" x2="395.3" y2="271.1" stroke="#e8cccc" stroke-width="1.1"/>
<line x1="397.8" y1="273.7" x2="395.6" y2="276.8" stroke="#7d5335" stroke-width="1.1"/>
<line x1="395.6" y1="276.8" x2="393.4" y2="279.9" stroke="#e8cccc" stroke-width="1.1"/>
<line x1="409.2" y1="276.9" x2="406.6" y2="278.5" stroke="#7d5335" stroke-width="1.1"/>
<line x1="406.6" y1="278.5" x2="404.1" y2="280.1" stroke="#e8cccc" stroke-width="1.1"/>
<line x1="419.7" y1="277.7" x2="423.1" y2="279.3" stroke="#7d5335" stroke-width="1.1"/>
<line x1="423.1" y1="279.3" x2="426.4" y2="281.0" stroke="#e8cccc" stroke-width="1.1"/>
<line x1="410.7" y1="283.5" x2="414.5" y2="285.3" stroke="#7d5335" stroke-width="1.1"/>
<line x1="414.5" y1="285.3" x2="418.2" y2="287.2" stroke="#e8cccc" stroke-width="1.1"/>
<line x1="404.1" y1="294.5" x2="400.7" y2="293.4" stroke="#7d5335" stroke-width="1.1"/>
<line x1="400.7" y1="293.4" x2="397.2" y2="292.3" stroke="#e8cccc" stroke-width="1.1"/>
<line x1="404.1" y1="294.5" x2="400.4" y2="295.2" stroke="#7d5335" stroke-width="1.1"/>
<line x1="400.4" y1="295.2" x2="396.8" y2="295.9" stroke="#e8cccc" stroke-width="1.1"/>
<line x1="403.6" y1="299.1" x2="405.8" y2="299.3" stroke="#7d5335" stroke-width="1.1"/>
<line x1="405.8" y1="299.3" x2="408.0" y2="299.6" stroke="#e8cccc" stroke-width="1.1"/>
<line x1="427.4" y1="297.7" x2="429.3" y2="301.5" stroke="#e8141a" stroke-width="1.1"/>
<line x1="429.3" y1="301.5" x2="431.1" y2="305.4" stroke="#e8cccc" stroke-width="1.1"/>
<line x1="396.8" y1="312.7" x2="392.6" y2="311.8" stroke="#7d5335" stroke-width="1.1"/>
<line x1="392.6" y1="311.8" x2="388.5" y2="310.8" stroke="#e8cccc" stroke-width="1.1"/>
<line x1="396.8" y1="312.7" x2="393.1" y2="314.2" stroke="#7d5335" stroke-width="1.1"/>
<line x1="393.1" y1="314.2" x2="389.5" y2="315.6" stroke="#e8cccc" stroke-width="1.1"/>
<line x1="403.4" y1="310.2" x2="401.5" y2="309.1" stroke="#7d5335" stroke-width="1.1"/>
<line x1="401.5" y1="309.1" x2="399.7" y2="307.9" stroke="#e8cccc" stroke-width="1.1"/>
<line x1="419.7" y1="311.2" x2="423.4" y2="312.9" stroke="#7d5335" stroke-width="1.1"/>
<line x1="423.4" y1="312.9" x2="427.0" y2="314.6" stroke="#e8cccc" stroke-width="1.1"/>
<line x1="417.2" y1="318.1" x2="421.2" y2="319.4" stroke="#7d5335" stroke-width="1.1"/>
<line x1="421.2" y1="319.4" x2="425.3" y2="320.7" stroke="#e8cccc" stroke-width="1.1"/>
<line x1="400.1" y1="325.4" x2="398.0" y2="327.1" stroke="#7d5335" stroke-width="1.1"/>
<line x1="398.0" y1="327.1" x2="395.8" y2="328.8" stroke="#e8cccc" stroke-width="1.1"/>
<line x1="400.1" y1="325.4" x2="399.4" y2="328.0" stroke="#7d5335" stroke-width="1.1"/>
<line x1="399.4" y1="328.0" x2="398.7" y2="330.7" stroke="#e8cccc" stroke-width="1.1"/>
<line x1="410.9" y1="325.8" x2="411.2" y2="324.9" stroke="#7d5335" stroke-width="1.1"/>
<line x1="411.2" y1="324.9" x2="411.4" y2="323.9" stroke="#e8cccc" stroke-width="1.1"/>
<line x1="415.0" y1="336.1" x2="418.1" y2="336.4" stroke="#e8141a" stroke-width="1.1"/>
<line x1="418.1" y1="336.4" x2="421.2" y2="336.8" stroke="#e8cccc" stroke-width="1.1"/>
<line x1="419.7" y1="249.2" x2="419.9" y2="249.1" stroke="#7d5335" stroke-width="1.1"/>
<line x1="419.9" y1="249.1" x2="420.1" y2="248.9" stroke="#e8cccc" stroke-width="1.1"/>
<line x1="401.6" y1="233.4" x2="405.0" y2="233.6" stroke="#e8141a" stroke-width="1.5"/>
<line x1="405.0" y1="233.6" x2="408.5" y2="233.9" stroke="#7d5335" stroke-width="1.5"/>
<line x1="408.5" y1="233.9" x2="413.6" y2="236.3" stroke="#7d5335" stroke-width="1.5"/>
<line x1="413.6" y1="236.3" x2="418.7" y2="238.7" stroke="#7d5335" stroke-width="1.5"/>
<line x1="418.7" y1="238.7" x2="419.2" y2="243.9" stroke="#7d5335" stroke-width="1.5"/>
<line x1="419.2" y1="243.9" x2="419.7" y2="249.2" stroke="#7d5335" stroke-width="1.5"/>
<line x1="419.7" y1="249.2" x2="415.8" y2="253.7" stroke="#7d5335" stroke-width="1.5"/>
<line x1="415.8" y1="253.7" x2="411.8" y2="258.2" stroke="#7d5335" stroke-width="1.5"/>
<line x1="411.8" y1="258.2" x2="413.8" y2="263.1" stroke="#7d5335" stroke-width="1.5"/>
<line x1="413.8" y1="263.1" x2="415.8" y2="267.9" stroke="#7d5335" stroke-width="1.5"/>
<line x1="415.8" y1="267.9" x2="417.7" y2="267.2" stroke="#7d5335" stroke-width="1.5"/>
<line x1="417.7" y1="267.2" x2="419.7" y2="266.4" stroke="#7d5335" stroke-width="1.5"/>
<line x1="419.7" y1="266.4" x2="419.7" y2="272.0" stroke="#7d5335" stroke-width="1.5"/>
<line x1="419.7" y1="272.0" x2="419.7" y2="277.7" stroke="#7d5335" stroke-width="1.5"/>
<line x1="419.7" y1="277.7" x2="415.2" y2="280.6" stroke="#7d5335" stroke-width="1.5"/>
<line x1="415.2" y1="280.6" x2="410.7" y2="283.5" stroke="#7d5335" stroke-width="1.5"/>
<line x1="415.8" y1="267.9" x2="412.5" y2="272.4" stroke="#7d5335" stroke-width="1.5"/>
<line x1="412.5" y1="272.4" x2="409.2" y2="276.9" stroke="#7d5335" stroke-width="1.5"/>
<line x1="397.8" y1="273.7" x2="403.5" y2="275.3" stroke="#7d5335" stroke-width="1.5"/>
<line x1="403.5" y1="275.3" x2="409.2" y2="276.9" stroke="#7d5335" stroke-width="1.5"/>
<line x1="409.2" y1="276.9" x2="409.9" y2="280.2" stroke="#7d5335" stroke-width="1.5"/>
<line x1="409.9" y1="280.2" x2="410.7" y2="283.5" stroke="#7d5335" stroke-width="1.5"/>
<line x1="410.7" y1="283.5" x2="411.0" y2="288.8" stroke="#7d5335" stroke-width="1.5"/>
<line x1="411.0" y1="288.8" x2="411.4" y2="294.2" stroke="#7d5335" stroke-width="1.5"/>
<line x1="410.7" y1="283.5" x2="407.4" y2="289.0" stroke="#7d5335" stroke-width="1.5"/>
<line x1="407.4" y1="289.0" x2="404.1" y2="294.5" stroke="#7d5335" stroke-width="1.5"/>
<line x1="411.4" y1="294.2" x2="416.7" y2="296.9" stroke="#7d5335" stroke-width="1.5"/>
<line x1="416.7" y1="296.9" x2="422.0" y2="299.6" stroke="#7d5335" stroke-width="1.5"/>
<line x1="422.0" y1="299.6" x2="424.7" y2="298.6" stroke="#7d5335" stroke-width="1.5"/>
<line x1="424.7" y1="298.6" x2="427.4" y2="297.7" stroke="#e8141a" stroke-width="1.5"/>
<line x1="422.0" y1="299.6" x2="420.9" y2="305.4" stroke="#7d5335" stroke-width="1.5"/>
<line x1="420.9" y1="305.4" x2="419.7" y2="311.2" stroke="#7d5335" stroke-width="1.5"/>
<line x1="419.7" y1="311.2" x2="416.5" y2="314.2" stroke="#7d5335" stroke-width="1.5"/>
<line x1="416.5" y1="314.2" x2="413.3" y2="317.1" stroke="#7d5335" stroke-width="1.5"/>
<line x1="411.4" y1="294.2" x2="407.5" y2="296.6" stroke="#7d5335" stroke-width="1.5"/>
<line x1="407.5" y1="296.6" x2="403.6" y2="299.1" stroke="#7d5335" stroke-width="1.5"/>
<line x1="403.6" y1="299.1" x2="403.5" y2="304.7" stroke="#7d5335" stroke-width="1.5"/>
<line x1="403.5" y1="304.7" x2="403.4" y2="310.2" stroke="#7d5335" stroke-width="1.5"/>
<line x1="403.4" y1="310.2" x2="408.3" y2="313.6" stroke="#7d5335" stroke-width="1.5"/>
<line x1="408.3" y1="313.6" x2="413.3" y2="317.1" stroke="#7d5335" stroke-width="1.5"/>
<line x1="403.4" y1="310.2" x2="400.1" y2="311.5" stroke="#7d5335" stroke-width="1.5"/>
<line x1="400.1" y1="311.5" x2="396.8" y2="312.7" stroke="#7d5335" stroke-width="1.5"/>
<line x1="396.8" y1="312.7" x2="398.5" y2="319.1" stroke="#7d5335" stroke-width="1.5"/>
<line x1="398.5" y1="319.1" x2="400.1" y2="325.4" stroke="#7d5335" stroke-width="1.5"/>
<line x1="400.1" y1="325.4" x2="405.5" y2="325.6" stroke="#7d5335" stroke-width="1.5"/>
<line x1="405.5" y1="325.6" x2="410.9" y2="325.8" stroke="#7d5335" stroke-width="1.5"/>
<line x1="410.9" y1="325.8" x2="414.1" y2="322.0" stroke="#7d5335" stroke-width="1.5"/>
<line x1="414.1" y1="322.0" x2="417.2" y2="318.1" stroke="#7d5335" stroke-width="1.5"/>
<line x1="417.2" y1="318.1" x2="415.3" y2="317.6" stroke="#7d5335" stroke-width="1.5"/>
<line x1="415.3" y1="317.6" x2="413.3" y2="317.1" stroke="#7d5335" stroke-width="1.5"/>
<line x1="410.9" y1="325.8" x2="413.0" y2="330.9" stroke="#7d5335" stroke-width="1.5"/>
<line x1="413.0" y1="330.9" x2="415.0" y2="336.1" stroke="#e8141a" stroke-width="1.5"/>
<circle cx="398.2" cy="228.5" r="1.5" fill="#f8eaea" stroke="#cfa8a8" stroke-width="0.6"/>
<circle cx="423.8" cy="233.9" r="1.5" fill="#f8eaea" stroke="#cfa8a8" stroke-width="0.6"/>
<circle cx="427.0" cy="251.8" r="1.5" fill="#f8eaea" stroke="#cfa8a8" stroke-width="0.6"/>
<circle cx="408.5" cy="252.1" r="1.5" fill="#f8eaea" stroke="#cfa8a8" stroke-width="0.6"/>
<circle cx="405.5" cy="255.0" r="1.5" fill="#f8eaea" stroke="#cfa8a8" stroke-width="0.6"/>
<circle cx="419.4" cy="260.1" r="1.5" fill="#f8eaea" stroke="#cfa8a8" stroke-width="0.6"/>
<circle cx="406.6" cy="264.5" r="1.5" fill="#f8eaea" stroke="#cfa8a8" stroke-width="0.6"/>
<circle cx="427.0" cy="262.6" r="1.5" fill="#f8eaea" stroke="#cfa8a8" stroke-width="0.6"/>
<circle cx="422.6" cy="269.6" r="1.5" fill="#f8eaea" stroke="#cfa8a8" stroke-width="0.6"/>
<circle cx="395.8" cy="267.4" r="1.5" fill="#f8eaea" stroke="#cfa8a8" stroke-width="0.6"/>
<circle cx="395.3" cy="271.1" r="1.5" fill="#f8eaea" stroke="#cfa8a8" stroke-width="0.6"/>
<circle cx="393.4" cy="279.9" r="1.5" fill="#f8eaea" stroke="#cfa8a8" stroke-width="0.6"/>
<circle cx="404.1" cy="280.1" r="1.5" fill="#f8eaea" stroke="#cfa8a8" stroke-width="0.6"/>
<circle cx="426.4" cy="281.0" r="1.5" fill="#f8eaea" stroke="#cfa8a8" stroke-width="0.6"/>
<circle cx="418.2" cy="287.2" r="1.5" fill="#f8eaea" stroke="#cfa8a8" stroke-width="0.6"/>
<circle cx="397.2" cy="292.3" r="1.5" fill="#f8eaea" stroke="#cfa8a8" stroke-width="0.6"/>
<circle cx="396.8" cy="295.9" r="1.5" fill="#f8eaea" stroke="#cfa8a8" stroke-width="0.6"/>
<circle cx="408.0" cy="299.6" r="1.5" fill="#f8eaea" stroke="#cfa8a8" stroke-width="0.6"/>
<circle cx="431.1" cy="305.4" r="1.5" fill="#f8eaea" stroke="#cfa8a8" stroke-width="0.6"/>
<circle cx="388.5" cy="310.8" r="1.5" fill="#f8eaea" stroke="#cfa8a8" stroke-width="0.6"/>
<circle cx="389.5" cy="315.6" r="1.5" fill="#f8eaea" stroke="#cfa8a8" stroke-width="0.6"/>
<circle cx="399.7" cy="307.9" r="1.5" fill="#f8eaea" stroke="#cfa8a8" stroke-width="0.6"/>
<circle cx="427.0" cy="314.6" r="1.5" fill="#f8eaea" stroke="#cfa8a8" stroke-width="0.6"/>
<circle cx="425.3" cy="320.7" r="1.5" fill="#f8eaea" stroke="#cfa8a8" stroke-width="0.6"/>
<circle cx="395.8" cy="328.8" r="1.5" fill="#f8eaea" stroke="#cfa8a8" stroke-width="0.6"/>
<circle cx="398.7" cy="330.7" r="1.5" fill="#f8eaea" stroke="#cfa8a8" stroke-width="0.6"/>
<circle cx="411.4" cy="323.9" r="1.5" fill="#f8eaea" stroke="#cfa8a8" stroke-width="0.6"/>
<circle cx="421.2" cy="336.8" r="1.5" fill="#f8eaea" stroke="#cfa8a8" stroke-width="0.6"/>
<circle cx="420.1" cy="248.9" r="1.5" fill="#f8eaea" stroke="#cfa8a8" stroke-width="0.6"/>
<circle cx="408.5" cy="233.9" r="2.3" fill="#7d5335" stroke="#5a3a22" stroke-width="0.4"/>
<circle cx="418.7" cy="238.7" r="2.3" fill="#7d5335" stroke="#5a3a22" stroke-width="0.4"/>
<circle cx="419.7" cy="249.2" r="2.3" fill="#7d5335" stroke="#5a3a22" stroke-width="0.4"/>
<circle cx="411.8" cy="258.2" r="2.3" fill="#7d5335" stroke="#5a3a22" stroke-width="0.4"/>
<circle cx="415.8" cy="267.9" r="2.3" fill="#7d5335" stroke="#5a3a22" stroke-width="0.4"/>
<circle cx="419.7" cy="266.4" r="2.3" fill="#7d5335" stroke="#5a3a22" stroke-width="0.4"/>
<circle cx="397.8" cy="273.7" r="2.3" fill="#7d5335" stroke="#5a3a22" stroke-width="0.4"/>
<circle cx="409.2" cy="276.9" r="2.3" fill="#7d5335" stroke="#5a3a22" stroke-width="0.4"/>
<circle cx="419.7" cy="277.7" r="2.3" fill="#7d5335" stroke="#5a3a22" stroke-width="0.4"/>
<circle cx="410.7" cy="283.5" r="2.3" fill="#7d5335" stroke="#5a3a22" stroke-width="0.4"/>
<circle cx="404.1" cy="294.5" r="2.3" fill="#7d5335" stroke="#5a3a22" stroke-width="0.4"/>
<circle cx="411.4" cy="294.2" r="2.3" fill="#7d5335" stroke="#5a3a22" stroke-width="0.4"/>
<circle cx="403.6" cy="299.1" r="2.3" fill="#7d5335" stroke="#5a3a22" stroke-width="0.4"/>
<circle cx="422.0" cy="299.6" r="2.3" fill="#7d5335" stroke="#5a3a22" stroke-width="0.4"/>
<circle cx="403.4" cy="310.2" r="2.3" fill="#7d5335" stroke="#5a3a22" stroke-width="0.4"/>
<circle cx="396.8" cy="312.7" r="2.3" fill="#7d5335" stroke="#5a3a22" stroke-width="0.4"/>
<circle cx="419.7" cy="311.2" r="2.3" fill="#7d5335" stroke="#5a3a22" stroke-width="0.4"/>
<circle cx="413.3" cy="317.1" r="2.3" fill="#7d5335" stroke="#5a3a22" stroke-width="0.4"/>
<circle cx="417.2" cy="318.1" r="2.3" fill="#7d5335" stroke="#5a3a22" stroke-width="0.4"/>
<circle cx="400.1" cy="325.4" r="2.3" fill="#7d5335" stroke="#5a3a22" stroke-width="0.4"/>
<circle cx="410.9" cy="325.8" r="2.3" fill="#7d5335" stroke="#5a3a22" stroke-width="0.4"/>
<circle cx="407.4" cy="229.9" r="2.3" fill="#e8141a"/>
<circle cx="401.6" cy="233.4" r="2.3" fill="#e8141a"/>
<circle cx="427.4" cy="297.7" r="2.3" fill="#e8141a"/>
<circle cx="415.0" cy="336.1" r="2.3" fill="#e8141a"/>
<line x1="486.0" y1="24.6" x2="488.2" y2="21.7" stroke="#7d5335" stroke-width="1.1"/>
<line x1="488.2" y1="21.7" x2="490.4" y2="18.8" stroke="#e8cccc" stroke-width="1.1"/>
<line x1="486.0" y1="24.6" x2="481.9" y2="24.5" stroke="#7d5335" stroke-width="1.1"/>
<line x1="481.9" y1="24.5" x2="477.7" y2="24.3" stroke="#e8cccc" stroke-width="1.1"/>
<line x1="461.9" y1="42.4" x2="459.0" y2="42.6" stroke="#7d5335" stroke-width="1.1"/>
<line x1="459.0" y1="42.6" x2="456.1" y2="42.9" stroke="#e8cccc" stroke-width="1.1"/>
<line x1="496.2" y1="74.5" x2="498.4" y2="77.0" stroke="#e8141a" stroke-width="1.1"/>
<line x1="498.4" y1="77.0" x2="500.6" y2="79.4" stroke="#e8cccc" stroke-width="1.1"/>
<line x1="503.5" y1="94.7" x2="505.5" y2="92.6" stroke="#7d5335" stroke-width="1.1"/>
<line x1="505.5" y1="92.6" x2="507.5" y2="90.6" stroke="#e8cccc" stroke-width="1.1"/>
<line x1="503.5" y1="94.7" x2="506.8" y2="96.0" stroke="#7d5335" stroke-width="1.1"/>
<line x1="506.8" y1="96.0" x2="510.1" y2="97.3" stroke="#e8cccc" stroke-width="1.1"/>
<line x1="496.2" y1="87.1" x2="497.0" y2="89.8" stroke="#7d5335" stroke-width="1.1"/>
<line x1="497.0" y1="89.8" x2="497.7" y2="92.5" stroke="#e8cccc" stroke-width="1.1"/>
<line x1="466.3" y1="95.0" x2="465.6" y2="97.9" stroke="#7d5335" stroke-width="1.1"/>
<line x1="465.6" y1="97.9" x2="464.9" y2="100.8" stroke="#e8cccc" stroke-width="1.1"/>
<line x1="466.3" y1="95.0" x2="467.8" y2="97.2" stroke="#7d5335" stroke-width="1.1"/>
<line x1="467.8" y1="97.2" x2="469.2" y2="99.4" stroke="#e8cccc" stroke-width="1.1"/>
<line x1="489.7" y1="100.2" x2="487.1" y2="103.4" stroke="#7d5335" stroke-width="1.1"/>
<line x1="487.1" y1="103.4" x2="484.6" y2="106.7" stroke="#e8cccc" stroke-width="1.1"/>
<line x1="489.7" y1="100.2" x2="488.8" y2="99.1" stroke="#7d5335" stroke-width="1.1"/>
<line x1="488.8" y1="99.1" x2="487.9" y2="97.9" stroke="#e8cccc" stroke-width="1.1"/>
<line x1="486.0" y1="24.6" x2="488.2" y2="30.1" stroke="#7d5335" stroke-width="1.5"/>
<line x1="488.2" y1="30.1" x2="490.4" y2="35.6" stroke="#e8141a" stroke-width="1.5"/>
<line x1="490.4" y1="35.6" x2="488.2" y2="39.6" stroke="#e8141a" stroke-width="1.5"/>
<line x1="488.2" y1="39.6" x2="486.0" y2="43.6" stroke="#7d5335" stroke-width="1.5"/>
<line x1="461.9" y1="42.4" x2="465.6" y2="47.2" stroke="#7d5335" stroke-width="1.5"/>
<line x1="465.6" y1="47.2" x2="469.2" y2="52.1" stroke="#e8141a" stroke-width="1.5"/>
<line x1="469.2" y1="52.1" x2="472.9" y2="52.4" stroke="#e8141a" stroke-width="1.5"/>
<line x1="472.9" y1="52.4" x2="476.5" y2="52.6" stroke="#7d5335" stroke-width="1.5"/>
<line x1="477.3" y1="42.4" x2="481.6" y2="43.0" stroke="#7d5335" stroke-width="1.5"/>
<line x1="481.6" y1="43.0" x2="486.0" y2="43.6" stroke="#7d5335" stroke-width="1.5"/>
<line x1="477.3" y1="42.4" x2="476.9" y2="47.5" stroke="#7d5335" stroke-width="1.5"/>
<line x1="476.9" y1="47.5" x2="476.5" y2="52.6" stroke="#7d5335" stroke-width="1.5"/>
<line x1="486.0" y1="43.6" x2="488.9" y2="48.3" stroke="#7d5335" stroke-width="1.5"/>
<line x1="488.9" y1="48.3" x2="491.9" y2="53.1" stroke="#7d5335" stroke-width="1.5"/>
<line x1="491.9" y1="53.1" x2="497.9" y2="53.3" stroke="#7d5335" stroke-width="1.5"/>
<line x1="497.9" y1="53.3" x2="504.0" y2="53.5" stroke="#2ed42e" stroke-width="1.5"/>
<line x1="491.9" y1="53.1" x2="491.5" y2="58.0" stroke="#7d5335" stroke-width="1.5"/>
<line x1="491.5" y1="58.0" x2="491.1" y2="62.9" stroke="#7d5335" stroke-width="1.5"/>
<line x1="476.5" y1="52.6" x2="479.5" y2="57.2" stroke="#7d5335" stroke-width="1.5"/>
<line x1="479.5" y1="57.2" x2="482.4" y2="61.8" stroke="#7d5335" stroke-width="1.5"/>
<line x1="482.4" y1="61.8" x2="486.8" y2="62.4" stroke="#7d5335" stroke-width="1.5"/>
<line x1="486.8" y1="62.4" x2="491.1" y2="62.9" stroke="#7d5335" stroke-width="1.5"/>
<line x1="482.4" y1="61.8" x2="481.3" y2="67.3" stroke="#7d5335" stroke-width="1.5"/>
<line x1="481.3" y1="67.3" x2="480.2" y2="72.8" stroke="#7d5335" stroke-width="1.5"/>
<line x1="480.2" y1="72.8" x2="477.3" y2="74.3" stroke="#7d5335" stroke-width="1.5"/>
<line x1="477.3" y1="74.3" x2="474.3" y2="75.7" stroke="#e8141a" stroke-width="1.5"/>
<line x1="480.2" y1="72.8" x2="484.9" y2="77.3" stroke="#7d5335" stroke-width="1.5"/>
<line x1="484.9" y1="77.3" x2="489.7" y2="81.8" stroke="#7d5335" stroke-width="1.5"/>
<line x1="491.1" y1="62.9" x2="493.7" y2="68.7" stroke="#7d5335" stroke-width="1.5"/>
<line x1="493.7" y1="68.7" x2="496.2" y2="74.5" stroke="#e8141a" stroke-width="1.5"/>
<line x1="496.2" y1="74.5" x2="493.0" y2="78.2" stroke="#e8141a" stroke-width="1.5"/>
<line x1="493.0" y1="78.2" x2="489.7" y2="81.8" stroke="#7d5335" stroke-width="1.5"/>
<line x1="489.7" y1="81.8" x2="493.0" y2="84.5" stroke="#7d5335" stroke-width="1.5"/>
<line x1="493.0" y1="84.5" x2="496.2" y2="87.1" stroke="#7d5335" stroke-width="1.5"/>
<line x1="496.2" y1="87.1" x2="499.9" y2="90.9" stroke="#7d5335" stroke-width="1.5"/>
<line x1="499.9" y1="90.9" x2="503.5" y2="94.7" stroke="#7d5335" stroke-width="1.5"/>
<line x1="503.5" y1="94.7" x2="500.3" y2="99.2" stroke="#7d5335" stroke-width="1.5"/>
<line x1="500.3" y1="99.2" x2="497.0" y2="103.7" stroke="#7d5335" stroke-width="1.5"/>
<line x1="497.0" y1="103.7" x2="493.3" y2="102.0" stroke="#7d5335" stroke-width="1.5"/>
<line x1="493.3" y1="102.0" x2="489.7" y2="100.2" stroke="#7d5335" stroke-width="1.5"/>
<line x1="489.7" y1="100.2" x2="486.4" y2="95.4" stroke="#7d5335" stroke-width="1.5"/>
<line x1="486.4" y1="95.4" x2="483.1" y2="90.6" stroke="#7d5335" stroke-width="1.5"/>
<line x1="483.1" y1="90.6" x2="486.4" y2="86.2" stroke="#7d5335" stroke-width="1.5"/>
<line x1="486.4" y1="86.2" x2="489.7" y2="81.8" stroke="#7d5335" stroke-width="1.5"/>
<line x1="483.1" y1="90.6" x2="479.2" y2="88.9" stroke="#7d5335" stroke-width="1.5"/>
<line x1="479.2" y1="88.9" x2="475.4" y2="87.1" stroke="#e8141a" stroke-width="1.5"/>
<line x1="475.4" y1="87.1" x2="470.8" y2="91.0" stroke="#e8141a" stroke-width="1.5"/>
<line x1="470.8" y1="91.0" x2="466.3" y2="95.0" stroke="#7d5335" stroke-width="1.5"/>
<line x1="497.0" y1="103.7" x2="499.0" y2="108.9" stroke="#7d5335" stroke-width="1.5"/>
<line x1="499.0" y1="108.9" x2="501.1" y2="114.0" stroke="#e8141a" stroke-width="1.5"/>
<line x1="489.7" y1="81.8" x2="490.8" y2="86.7" stroke="#7d5335" stroke-width="1.5"/>
<line x1="490.8" y1="86.7" x2="491.9" y2="91.5" stroke="#7d5335" stroke-width="1.5"/>
<circle cx="490.4" cy="18.8" r="1.5" fill="#f8eaea" stroke="#cfa8a8" stroke-width="0.6"/>
<circle cx="477.7" cy="24.3" r="1.5" fill="#f8eaea" stroke="#cfa8a8" stroke-width="0.6"/>
<circle cx="466.3" cy="34.1" r="1.5" fill="#f8eaea" stroke="#cfa8a8" stroke-width="0.6"/>
<circle cx="470.7" cy="35.1" r="1.5" fill="#f8eaea" stroke="#cfa8a8" stroke-width="0.6"/>
<circle cx="456.1" cy="42.9" r="1.5" fill="#f8eaea" stroke="#cfa8a8" stroke-width="0.6"/>
<circle cx="500.6" cy="79.4" r="1.5" fill="#f8eaea" stroke="#cfa8a8" stroke-width="0.6"/>
<circle cx="458.7" cy="90.0" r="1.5" fill="#f8eaea" stroke="#cfa8a8" stroke-width="0.6"/>
<circle cx="507.5" cy="90.6" r="1.5" fill="#f8eaea" stroke="#cfa8a8" stroke-width="0.6"/>
<circle cx="510.1" cy="97.3" r="1.5" fill="#f8eaea" stroke="#cfa8a8" stroke-width="0.6"/>
<circle cx="497.7" cy="92.5" r="1.5" fill="#f8eaea" stroke="#cfa8a8" stroke-width="0.6"/>
<circle cx="464.9" cy="100.8" r="1.5" fill="#f8eaea" stroke="#cfa8a8" stroke-width="0.6"/>
<circle cx="469.2" cy="99.4" r="1.5" fill="#f8eaea" stroke="#cfa8a8" stroke-width="0.6"/>
<circle cx="484.6" cy="106.7" r="1.5" fill="#f8eaea" stroke="#cfa8a8" stroke-width="0.6"/>
<circle cx="487.9" cy="97.9" r="1.5" fill="#f8eaea" stroke="#cfa8a8" stroke-width="0.6"/>
<circle cx="486.0" cy="24.6" r="2.3" fill="#7d5335" stroke="#5a3a22" stroke-width="0.4"/>
<circle cx="461.9" cy="42.4" r="2.3" fill="#7d5335" stroke="#5a3a22" stroke-width="0.4"/>
<circle cx="477.3" cy="42.4" r="2.3" fill="#7d5335" stroke="#5a3a22" stroke-width="0.4"/>
<circle cx="486.0" cy="43.6" r="2.3" fill="#7d5335" stroke="#5a3a22" stroke-width="0.4"/>
<circle cx="476.5" cy="52.6" r="2.3" fill="#7d5335" stroke="#5a3a22" stroke-width="0.4"/>
<circle cx="491.9" cy="53.1" r="2.3" fill="#7d5335" stroke="#5a3a22" stroke-width="0.4"/>
<circle cx="482.4" cy="61.8" r="2.3" fill="#7d5335" stroke="#5a3a22" stroke-width="0.4"/>
<circle cx="491.1" cy="62.9" r="2.3" fill="#7d5335" stroke="#5a3a22" stroke-width="0.4"/>
<circle cx="480.2" cy="72.8" r="2.3" fill="#7d5335" stroke="#5a3a22" stroke-width="0.4"/>
<circle cx="489.7" cy="81.8" r="2.3" fill="#7d5335" stroke="#5a3a22" stroke-width="0.4"/>
<circle cx="496.2" cy="87.1" r="2.3" fill="#7d5335" stroke="#5a3a22" stroke-width="0.4"/>
<circle cx="483.1" cy="90.6" r="2.3" fill="#7d5335" stroke="#5a3a22" stroke-width="0.4"/>
<circle cx="491.9" cy="91.5" r="2.3" fill="#7d5335" stroke="#5a3a22" stroke-width="0.4"/>
<circle cx="503.5" cy="94.7" r="2.3" fill="#7d5335" stroke="#5a3a22" stroke-width="0.4"/>
<circle cx="466.3" cy="95.0" r="2.3" fill="#7d5335" stroke="#5a3a22" stroke-width="0.4"/>
<circle cx="489.7" cy="100.2" r="2.3" fill="#7d5335" stroke="#5a3a22" stroke-width="0.4"/>
<circle cx="497.0" cy="103.7" r="2.3" fill="#7d5335" stroke="#5a3a22" stroke-width="0.4"/>
<circle cx="490.4" cy="35.6" r="2.3" fill="#e8141a"/>
<circle cx="469.2" cy="52.1" r="2.3" fill="#e8141a"/>
<circle cx="474.3" cy="75.7" r="2.3" fill="#e8141a"/>
<circle cx="496.2" cy="74.5" r="2.3" fill="#e8141a"/>
<circle cx="475.4" cy="87.1" r="2.3" fill="#e8141a"/>
<circle cx="501.1" cy="114.0" r="2.3" fill="#e8141a"/>
<circle cx="504.0" cy="53.5" r="2.9" fill="#2ed42e"/>
<line x1="559.7" y1="27.0" x2="561.9" y2="24.2" stroke="#7d5335" stroke-width="1.1"/>
<line x1="561.9" y1="24.2" x2="564.1" y2="21.4" stroke="#e8cccc" stroke-width="1.1"/>
<line x1="559.7" y1="27.0" x2="555.6" y2="26.8" stroke="#7d5335" stroke-width="1.1"/>
<line x1="555.6" y1="26.8" x2="551.4" y2="26.7" stroke="#e8cccc" stroke-width="1.1"/>
<line x1="535.6" y1="43.9" x2="532.7" y2="44.1" stroke="#7d5335" stroke-width="1.1"/>
<line x1="532.7" y1="44.1" x2="529.8" y2="44.3" stroke="#e8cccc" stroke-width="1.1"/>
<line x1="569.9" y1="74.4" x2="572.1" y2="76.7" stroke="#e8141a" stroke-width="1.1"/>
<line x1="572.1" y1="76.7" x2="574.3" y2="79.0" stroke="#e8cccc" stroke-width="1.1"/>
<line x1="540.0" y1="93.8" x2="536.2" y2="91.5" stroke="#7d5335" stroke-width="1.1"/>
<line x1="536.2" y1="91.5" x2="532.4" y2="89.1" stroke="#e8cccc" stroke-width="1.1"/>
<line x1="577.2" y1="93.5" x2="579.2" y2="91.6" stroke="#7d5335" stroke-width="1.1"/>
<line x1="579.2" y1="91.6" x2="581.2" y2="89.7" stroke="#e8cccc" stroke-width="1.1"/>
<line x1="577.2" y1="93.5" x2="580.5" y2="94.8" stroke="#7d5335" stroke-width="1.1"/>
<line x1="580.5" y1="94.8" x2="583.8" y2="96.0" stroke="#e8cccc" stroke-width="1.1"/>
<line x1="569.9" y1="86.3" x2="570.7" y2="88.9" stroke="#7d5335" stroke-width="1.1"/>
<line x1="570.7" y1="88.9" x2="571.4" y2="91.5" stroke="#e8cccc" stroke-width="1.1"/>
<line x1="540.0" y1="93.8" x2="539.3" y2="96.6" stroke="#7d5335" stroke-width="1.1"/>
<line x1="539.3" y1="96.6" x2="538.6" y2="99.4" stroke="#e8cccc" stroke-width="1.1"/>
<line x1="540.0" y1="93.8" x2="541.5" y2="95.9" stroke="#7d5335" stroke-width="1.1"/>
<line x1="541.5" y1="95.9" x2="542.9" y2="98.0" stroke="#e8cccc" stroke-width="1.1"/>
<line x1="563.4" y1="98.8" x2="560.8" y2="101.9" stroke="#7d5335" stroke-width="1.1"/>
<line x1="560.8" y1="101.9" x2="558.3" y2="104.9" stroke="#e8cccc" stroke-width="1.1"/>
<line x1="563.4" y1="98.8" x2="562.5" y2="97.7" stroke="#7d5335" stroke-width="1.1"/>
<line x1="562.5" y1="97.7" x2="561.6" y2="96.6" stroke="#e8cccc" stroke-width="1.1"/>
<line x1="559.7" y1="27.0" x2="561.9" y2="32.2" stroke="#7d5335" stroke-width="1.5"/>
<line x1="561.9" y1="32.2" x2="564.1" y2="37.4" stroke="#e8141a" stroke-width="1.5"/>
<line x1="564.1" y1="37.4" x2="561.9" y2="41.2" stroke="#e8141a" stroke-width="1.5"/>
<line x1="561.9" y1="41.2" x2="559.7" y2="45.0" stroke="#7d5335" stroke-width="1.5"/>
<line x1="535.6" y1="43.9" x2="539.3" y2="48.5" stroke="#7d5335" stroke-width="1.5"/>
<line x1="539.3" y1="48.5" x2="542.9" y2="53.0" stroke="#e8141a" stroke-width="1.5"/>
<line x1="542.9" y1="53.0" x2="546.6" y2="53.3" stroke="#e8141a" stroke-width="1.5"/>
<line x1="546.6" y1="53.3" x2="550.2" y2="53.6" stroke="#7d5335" stroke-width="1.5"/>
<line x1="551.0" y1="43.9" x2="555.3" y2="44.5" stroke="#7d5335" stroke-width="1.5"/>
<line x1="555.3" y1="44.5" x2="559.7" y2="45.0" stroke="#7d5335" stroke-width="1.5"/>
<line x1="551.0" y1="43.9" x2="550.6" y2="48.8" stroke="#7d5335" stroke-width="1.5"/>
<line x1="550.6" y1="48.8" x2="550.2" y2="53.6" stroke="#7d5335" stroke-width="1.5"/>
<line x1="559.7" y1="45.0" x2="562.6" y2="49.5" stroke="#7d5335" stroke-width="1.5"/>
<line x1="562.6" y1="49.5" x2="565.6" y2="54.0" stroke="#7d5335" stroke-width="1.5"/>
<line x1="565.6" y1="54.0" x2="571.6" y2="54.2" stroke="#7d5335" stroke-width="1.5"/>
<line x1="571.6" y1="54.2" x2="577.7" y2="54.4" stroke="#2ed42e" stroke-width="1.5"/>
<line x1="565.6" y1="54.0" x2="565.2" y2="58.7" stroke="#7d5335" stroke-width="1.5"/>
<line x1="565.2" y1="58.7" x2="564.8" y2="63.3" stroke="#7d5335" stroke-width="1.5"/>
<line x1="550.2" y1="53.6" x2="553.2" y2="58.0" stroke="#7d5335" stroke-width="1.5"/>
<line x1="553.2" y1="58.0" x2="556.1" y2="62.3" stroke="#7d5335" stroke-width="1.5"/>
<line x1="556.1" y1="62.3" x2="560.5" y2="62.8" stroke="#7d5335" stroke-width="1.5"/>
<line x1="560.5" y1="62.8" x2="564.8" y2="63.3" stroke="#7d5335" stroke-width="1.5"/>
<line x1="556.1" y1="62.3" x2="555.0" y2="67.5" stroke="#7d5335" stroke-width="1.5"/>
<line x1="555.0" y1="67.5" x2="553.9" y2="72.7" stroke="#7d5335" stroke-width="1.5"/>
<line x1="553.9" y1="72.7" x2="551.0" y2="74.1" stroke="#7d5335" stroke-width="1.5"/>
<line x1="551.0" y1="74.1" x2="548.0" y2="75.5" stroke="#e8141a" stroke-width="1.5"/>
<line x1="553.9" y1="72.7" x2="558.6" y2="77.0" stroke="#7d5335" stroke-width="1.5"/>
<line x1="558.6" y1="77.0" x2="563.4" y2="81.3" stroke="#7d5335" stroke-width="1.5"/>
<line x1="564.8" y1="63.3" x2="567.4" y2="68.9" stroke="#7d5335" stroke-width="1.5"/>
<line x1="567.4" y1="68.9" x2="569.9" y2="74.4" stroke="#e8141a" stroke-width="1.5"/>
<line x1="569.9" y1="74.4" x2="566.7" y2="77.9" stroke="#e8141a" stroke-width="1.5"/>
<line x1="566.7" y1="77.9" x2="563.4" y2="81.3" stroke="#7d5335" stroke-width="1.5"/>
<line x1="563.4" y1="81.3" x2="566.7" y2="83.8" stroke="#7d5335" stroke-width="1.5"/>
<line x1="566.7" y1="83.8" x2="569.9" y2="86.3" stroke="#7d5335" stroke-width="1.5"/>
<line x1="569.9" y1="86.3" x2="573.6" y2="89.9" stroke="#7d5335" stroke-width="1.5"/>
<line x1="573.6" y1="89.9" x2="577.2" y2="93.5" stroke="#7d5335" stroke-width="1.5"/>
<line x1="577.2" y1="93.5" x2="574.0" y2="97.8" stroke="#7d5335" stroke-width="1.5"/>
<line x1="574.0" y1="97.8" x2="570.7" y2="102.1" stroke="#7d5335" stroke-width="1.5"/>
<line x1="570.7" y1="102.1" x2="567.0" y2="100.5" stroke="#7d5335" stroke-width="1.5"/>
<line x1="567.0" y1="100.5" x2="563.4" y2="98.8" stroke="#7d5335" stroke-width="1.5"/>
<line x1="563.4" y1="98.8" x2="560.1" y2="94.2" stroke="#7d5335" stroke-width="1.5"/>
<line x1="560.1" y1="94.2" x2="556.8" y2="89.7" stroke="#7d5335" stroke-width="1.5"/>
<line x1="556.8" y1="89.7" x2="560.1" y2="85.5" stroke="#7d5335" stroke-width="1.5"/>
<line x1="560.1" y1="85.5" x2="563.4" y2="81.3" stroke="#7d5335" stroke-width="1.5"/>
<line x1="556.8" y1="89.7" x2="552.9" y2="88.0" stroke="#7d5335" stroke-width="1.5"/>
<line x1="552.9" y1="88.0" x2="549.1" y2="86.3" stroke="#e8141a" stroke-width="1.5"/>
<line x1="549.1" y1="86.3" x2="544.5" y2="90.1" stroke="#e8141a" stroke-width="1.5"/>
<line x1="544.5" y1="90.1" x2="540.0" y2="93.8" stroke="#7d5335" stroke-width="1.5"/>
<line x1="570.7" y1="102.1" x2="572.7" y2="107.0" stroke="#7d5335" stroke-width="1.5"/>
<line x1="572.7" y1="107.0" x2="574.8" y2="111.9" stroke="#e8141a" stroke-width="1.5"/>
<line x1="563.4" y1="81.3" x2="564.5" y2="85.9" stroke="#7d5335" stroke-width="1.5"/>
<line x1="564.5" y1="85.9" x2="565.6" y2="90.5" stroke="#7d5335" stroke-width="1.5"/>
<circle cx="564.1" cy="21.4" r="1.5" fill="#f8eaea" stroke="#cfa8a8" stroke-width="0.6"/>
<circle cx="551.4" cy="26.7" r="1.5" fill="#f8eaea" stroke="#cfa8a8" stroke-width="0.6"/>
<circle cx="540.0" cy="36.0" r="1.5" fill="#f8eaea" stroke="#cfa8a8" stroke-width="0.6"/>
<circle cx="544.4" cy="37.0" r="1.5" fill="#f8eaea" stroke="#cfa8a8" stroke-width="0.6"/>
<circle cx="529.8" cy="44.3" r="1.5" fill="#f8eaea" stroke="#cfa8a8" stroke-width="0.6"/>
<circle cx="574.3" cy="79.0" r="1.5" fill="#f8eaea" stroke="#cfa8a8" stroke-width="0.6"/>
<circle cx="532.4" cy="89.1" r="1.5" fill="#f8eaea" stroke="#cfa8a8" stroke-width="0.6"/>
<circle cx="581.2" cy="89.7" r="1.5" fill="#f8eaea" stroke="#cfa8a8" stroke-width="0.6"/>
<circle cx="583.8" cy="96.0" r="1.5" fill="#f8eaea" stroke="#cfa8a8" stroke-width="0.6"/>
<circle cx="571.4" cy="91.5" r="1.5" fill="#f8eaea" stroke="#cfa8a8" stroke-width="0.6"/>
<circle cx="538.6" cy="99.4" r="1.5" fill="#f8eaea" stroke="#cfa8a8" stroke-width="0.6"/>
<circle cx="542.9" cy="98.0" r="1.5" fill="#f8eaea" stroke="#cfa8a8" stroke-width="0.6"/>
<circle cx="558.3" cy="104.9" r="1.5" fill="#f8eaea" stroke="#cfa8a8" stroke-width="0.6"/>
<circle cx="561.6" cy="96.6" r="1.5" fill="#f8eaea" stroke="#cfa8a8" stroke-width="0.6"/>
<circle cx="559.7" cy="27.0" r="2.3" fill="#7d5335" stroke="#5a3a22" stroke-width="0.4"/>
<circle cx="535.6" cy="43.9" r="2.3" fill="#7d5335" stroke="#5a3a22" stroke-width="0.4"/>
<circle cx="551.0" cy="43.9" r="2.3" fill="#7d5335" stroke="#5a3a22" stroke-width="0.4"/>
<circle cx="559.7" cy="45.0" r="2.3" fill="#7d5335" stroke="#5a3a22" stroke-width="0.4"/>
<circle cx="550.2" cy="53.6" r="2.3" fill="#7d5335" stroke="#5a3a22" stroke-width="0.4"/>
<circle cx="565.6" cy="54.0" r="2.3" fill="#7d5335" stroke="#5a3a22" stroke-width="0.4"/>
<circle cx="556.1" cy="62.3" r="2.3" fill="#7d5335" stroke="#5a3a22" stroke-width="0.4"/>
<circle cx="564.8" cy="63.3" r="2.3" fill="#7d5335" stroke="#5a3a22" stroke-width="0.4"/>
<circle cx="553.9" cy="72.7" r="2.3" fill="#7d5335" stroke="#5a3a22" stroke-width="0.4"/>
<circle cx="563.4" cy="81.3" r="2.3" fill="#7d5335" stroke="#5a3a22" stroke-width="0.4"/>
<circle cx="569.9" cy="86.3" r="2.3" fill="#7d5335" stroke="#5a3a22" stroke-width="0.4"/>
<circle cx="556.8" cy="89.7" r="2.3" fill="#7d5335" stroke="#5a3a22" stroke-width="0.4"/>
<circle cx="565.6" cy="90.5" r="2.3" fill="#7d5335" stroke="#5a3a22" stroke-width="0.4"/>
<circle cx="577.2" cy="93.5" r="2.3" fill="#7d5335" stroke="#5a3a22" stroke-width="0.4"/>
<circle cx="540.0" cy="93.8" r="2.3" fill="#7d5335" stroke="#5a3a22" stroke-width="0.4"/>
<circle cx="563.4" cy="98.8" r="2.3" fill="#7d5335" stroke="#5a3a22" stroke-width="0.4"/>
<circle cx="570.7" cy="102.1" r="2.3" fill="#7d5335" stroke="#5a3a22" stroke-width="0.4"/>
<circle cx="564.1" cy="37.4" r="2.3" fill="#e8141a"/>
<circle cx="542.9" cy="53.0" r="2.3" fill="#e8141a"/>
<circle cx="548.0" cy="75.5" r="2.3" fill="#e8141a"/>
<circle cx="569.9" cy="74.4" r="2.3" fill="#e8141a"/>
<circle cx="549.1" cy="86.3" r="2.3" fill="#e8141a"/>
<circle cx="574.8" cy="111.9" r="2.3" fill="#e8141a"/>
<circle cx="577.7" cy="54.4" r="2.9" fill="#2ed42e"/>
<line x1="477.1" y1="233.4" x2="475.4" y2="231.0" stroke="#e8141a" stroke-width="1.1"/>
<line x1="475.4" y1="231.0" x2="473.7" y2="228.5" stroke="#e8cccc" stroke-width="1.1"/>
<line x1="494.2" y1="238.6" x2="496.7" y2="236.2" stroke="#7d5335" stroke-width="1.1"/>
<line x1="496.7" y1="236.2" x2="499.3" y2="233.8" stroke="#e8cccc" stroke-width="1.1"/>
<line x1="495.2" y1="248.9" x2="498.9" y2="250.2" stroke="#7d5335" stroke-width="1.1"/>
<line x1="498.9" y1="250.2" x2="502.5" y2="251.5" stroke="#e8cccc" stroke-width="1.1"/>
<line x1="487.3" y1="257.8" x2="485.6" y2="254.8" stroke="#7d5335" stroke-width="1.1"/>
<line x1="485.6" y1="254.8" x2="484.0" y2="251.8" stroke="#e8cccc" stroke-width="1.1"/>
<line x1="487.3" y1="257.8" x2="484.2" y2="256.3" stroke="#7d5335" stroke-width="1.1"/>
<line x1="484.2" y1="256.3" x2="481.0" y2="254.7" stroke="#e8cccc" stroke-width="1.1"/>
<line x1="495.2" y1="265.9" x2="495.1" y2="262.8" stroke="#7d5335" stroke-width="1.1"/>
<line x1="495.1" y1="262.8" x2="494.9" y2="259.7" stroke="#e8cccc" stroke-width="1.1"/>
<line x1="487.3" y1="257.8" x2="484.7" y2="260.9" stroke="#7d5335" stroke-width="1.1"/>
<line x1="484.7" y1="260.9" x2="482.1" y2="264.0" stroke="#e8cccc" stroke-width="1.1"/>
<line x1="495.2" y1="265.9" x2="498.9" y2="264.0" stroke="#7d5335" stroke-width="1.1"/>
<line x1="498.9" y1="264.0" x2="502.5" y2="262.2" stroke="#e8cccc" stroke-width="1.1"/>
<line x1="495.2" y1="265.9" x2="496.7" y2="267.5" stroke="#7d5335" stroke-width="1.1"/>
<line x1="496.7" y1="267.5" x2="498.1" y2="269.1" stroke="#e8cccc" stroke-width="1.1"/>
<line x1="473.3" y1="273.1" x2="472.3" y2="270.0" stroke="#7d5335" stroke-width="1.1"/>
<line x1="472.3" y1="270.0" x2="471.3" y2="266.9" stroke="#e8cccc" stroke-width="1.1"/>
<line x1="473.3" y1="273.1" x2="472.1" y2="271.8" stroke="#7d5335" stroke-width="1.1"/>
<line x1="472.1" y1="271.8" x2="470.8" y2="270.5" stroke="#e8cccc" stroke-width="1.1"/>
<line x1="473.3" y1="273.1" x2="471.1" y2="276.1" stroke="#7d5335" stroke-width="1.1"/>
<line x1="471.1" y1="276.1" x2="468.9" y2="279.1" stroke="#e8cccc" stroke-width="1.1"/>
<line x1="484.7" y1="276.3" x2="482.1" y2="277.8" stroke="#7d5335" stroke-width="1.1"/>
<line x1="482.1" y1="277.8" x2="479.6" y2="279.4" stroke="#e8cccc" stroke-width="1.1"/>
<line x1="495.2" y1="277.0" x2="498.6" y2="278.6" stroke="#7d5335" stroke-width="1.1"/>
<line x1="498.6" y1="278.6" x2="501.9" y2="280.3" stroke="#e8cccc" stroke-width="1.1"/>
<line x1="486.2" y1="282.7" x2="490.0" y2="284.5" stroke="#7d5335" stroke-width="1.1"/>
<line x1="490.0" y1="284.5" x2="493.7" y2="286.3" stroke="#e8cccc" stroke-width="1.1"/>
<line x1="479.6" y1="293.5" x2="476.2" y2="292.4" stroke="#7d5335" stroke-width="1.1"/>
<line x1="476.2" y1="292.4" x2="472.7" y2="291.4" stroke="#e8cccc" stroke-width="1.1"/>
<line x1="479.6" y1="293.5" x2="475.9" y2="294.2" stroke="#7d5335" stroke-width="1.1"/>
<line x1="475.9" y1="294.2" x2="472.3" y2="294.9" stroke="#e8cccc" stroke-width="1.1"/>
<line x1="479.1" y1="298.1" x2="481.3" y2="298.3" stroke="#7d5335" stroke-width="1.1"/>
<line x1="481.3" y1="298.3" x2="483.5" y2="298.5" stroke="#e8cccc" stroke-width="1.1"/>
<line x1="502.9" y1="296.7" x2="504.8" y2="300.5" stroke="#e8141a" stroke-width="1.1"/>
<line x1="504.8" y1="300.5" x2="506.6" y2="304.3" stroke="#e8cccc" stroke-width="1.1"/>
<line x1="472.3" y1="311.5" x2="468.1" y2="310.6" stroke="#7d5335" stroke-width="1.1"/>
<line x1="468.1" y1="310.6" x2="464.0" y2="309.6" stroke="#e8cccc" stroke-width="1.1"/>
<line x1="472.3" y1="311.5" x2="468.6" y2="312.9" stroke="#7d5335" stroke-width="1.1"/>
<line x1="468.6" y1="312.9" x2="465.0" y2="314.4" stroke="#e8cccc" stroke-width="1.1"/>
<line x1="478.9" y1="309.0" x2="477.0" y2="307.9" stroke="#7d5335" stroke-width="1.1"/>
<line x1="477.0" y1="307.9" x2="475.2" y2="306.7" stroke="#e8cccc" stroke-width="1.1"/>
<line x1="495.2" y1="310.0" x2="498.9" y2="311.7" stroke="#7d5335" stroke-width="1.1"/>
<line x1="498.9" y1="311.7" x2="502.5" y2="313.4" stroke="#e8cccc" stroke-width="1.1"/>
<line x1="492.7" y1="316.8" x2="496.7" y2="318.1" stroke="#7d5335" stroke-width="1.1"/>
<line x1="496.7" y1="318.1" x2="500.8" y2="319.4" stroke="#e8cccc" stroke-width="1.1"/>
<line x1="475.6" y1="324.0" x2="473.5" y2="325.6" stroke="#7d5335" stroke-width="1.1"/>
<line x1="473.5" y1="325.6" x2="471.3" y2="327.3" stroke="#e8cccc" stroke-width="1.1"/>
<line x1="475.6" y1="324.0" x2="474.9" y2="326.6" stroke="#7d5335" stroke-width="1.1"/>
<line x1="474.9" y1="326.6" x2="474.2" y2="329.2" stroke="#e8cccc" stroke-width="1.1"/>
<line x1="486.4" y1="324.4" x2="486.7" y2="323.5" stroke="#7d5335" stroke-width="1.1"/>
<line x1="486.7" y1="323.5" x2="486.9" y2="322.6" stroke="#e8cccc" stroke-width="1.1"/>
<line x1="490.5" y1="334.5" x2="493.6" y2="334.9" stroke="#e8141a" stroke-width="1.1"/>
<line x1="493.6" y1="334.9" x2="496.7" y2="335.2" stroke="#e8cccc" stroke-width="1.1"/>
<line x1="495.2" y1="248.9" x2="495.4" y2="248.8" stroke="#7d5335" stroke-width="1.1"/>
<line x1="495.4" y1="248.8" x2="495.6" y2="248.6" stroke="#e8cccc" stroke-width="1.1"/>
<line x1="477.1" y1="233.4" x2="480.5" y2="233.6" stroke="#e8141a" stroke-width="1.5"/>
<line x1="480.5" y1="233.6" x2="484.0" y2="233.8" stroke="#7d5335" stroke-width="1.5"/>
<line x1="484.0" y1="233.8" x2="489.1" y2="236.2" stroke="#7d5335" stroke-width="1.5"/>
<line x1="489.1" y1="236.2" x2="494.2" y2="238.6" stroke="#7d5335" stroke-width="1.5"/>
<line x1="494.2" y1="238.6" x2="494.7" y2="243.8" stroke="#7d5335" stroke-width="1.5"/>
<line x1="494.7" y1="243.8" x2="495.2" y2="248.9" stroke="#7d5335" stroke-width="1.5"/>
<line x1="495.2" y1="248.9" x2="491.3" y2="253.4" stroke="#7d5335" stroke-width="1.5"/>
<line x1="491.3" y1="253.4" x2="487.3" y2="257.8" stroke="#7d5335" stroke-width="1.5"/>
<line x1="487.3" y1="257.8" x2="489.3" y2="262.6" stroke="#7d5335" stroke-width="1.5"/>
<line x1="489.3" y1="262.6" x2="491.3" y2="267.3" stroke="#7d5335" stroke-width="1.5"/>
<line x1="491.3" y1="267.3" x2="493.2" y2="266.6" stroke="#7d5335" stroke-width="1.5"/>
<line x1="493.2" y1="266.6" x2="495.2" y2="265.9" stroke="#7d5335" stroke-width="1.5"/>
<line x1="495.2" y1="265.9" x2="495.2" y2="271.4" stroke="#7d5335" stroke-width="1.5"/>
<line x1="495.2" y1="271.4" x2="495.2" y2="277.0" stroke="#7d5335" stroke-width="1.5"/>
<line x1="495.2" y1="277.0" x2="490.7" y2="279.9" stroke="#7d5335" stroke-width="1.5"/>
<line x1="490.7" y1="279.9" x2="486.2" y2="282.7" stroke="#7d5335" stroke-width="1.5"/>
<line x1="491.3" y1="267.3" x2="488.0" y2="271.8" stroke="#7d5335" stroke-width="1.5"/>
<line x1="488.0" y1="271.8" x2="484.7" y2="276.3" stroke="#7d5335" stroke-width="1.5"/>
<line x1="473.3" y1="273.1" x2="479.0" y2="274.7" stroke="#7d5335" stroke-width="1.5"/>
<line x1="479.0" y1="274.7" x2="484.7" y2="276.3" stroke="#7d5335" stroke-width="1.5"/>
<line x1="484.7" y1="276.3" x2="485.4" y2="279.5" stroke="#7d5335" stroke-width="1.5"/>
<line x1="485.4" y1="279.5" x2="486.2" y2="282.7" stroke="#7d5335" stroke-width="1.5"/>
<line x1="486.2" y1="282.7" x2="486.5" y2="288.0" stroke="#7d5335" stroke-width="1.5"/>
<line x1="486.5" y1="288.0" x2="486.9" y2="293.2" stroke="#7d5335" stroke-width="1.5"/>
<line x1="486.2" y1="282.7" x2="482.9" y2="288.1" stroke="#7d5335" stroke-width="1.5"/>
<line x1="482.9" y1="288.1" x2="479.6" y2="293.5" stroke="#7d5335" stroke-width="1.5"/>
<line x1="486.9" y1="293.2" x2="492.2" y2="295.9" stroke="#7d5335" stroke-width="1.5"/>
<line x1="492.2" y1="295.9" x2="497.5" y2="298.5" stroke="#7d5335" stroke-width="1.5"/>
<line x1="497.5" y1="298.5" x2="500.2" y2="297.6" stroke="#7d5335" stroke-width="1.5"/>
<line x1="500.2" y1="297.6" x2="502.9" y2="296.7" stroke="#e8141a" stroke-width="1.5"/>
<line x1="497.5" y1="298.5" x2="496.4" y2="304.3" stroke="#7d5335" stroke-width="1.5"/>
<line x1="496.4" y1="304.3" x2="495.2" y2="310.0" stroke="#7d5335" stroke-width="1.5"/>
<line x1="495.2" y1="310.0" x2="492.0" y2="312.9" stroke="#7d5335" stroke-width="1.5"/>
<line x1="492.0" y1="312.9" x2="488.8" y2="315.8" stroke="#7d5335" stroke-width="1.5"/>
<line x1="486.9" y1="293.2" x2="483.0" y2="295.7" stroke="#7d5335" stroke-width="1.5"/>
<line x1="483.0" y1="295.7" x2="479.1" y2="298.1" stroke="#7d5335" stroke-width="1.5"/>
<line x1="479.1" y1="298.1" x2="479.0" y2="303.6" stroke="#7d5335" stroke-width="1.5"/>
<line x1="479.0" y1="303.6" x2="478.9" y2="309.0" stroke="#7d5335" stroke-width="1.5"/>
<line x1="478.9" y1="309.0" x2="483.8" y2="312.4" stroke="#7d5335" stroke-width="1.5"/>
<line x1="483.8" y1="312.4" x2="488.8" y2="315.8" stroke="#7d5335" stroke-width="1.5"/>
<line x1="478.9" y1="309.0" x2="475.6" y2="310.3" stroke="#7d5335" stroke-width="1.5"/>
<line x1="475.6" y1="310.3" x2="472.3" y2="311.5" stroke="#7d5335" stroke-width="1.5"/>
<line x1="472.3" y1="311.5" x2="474.0" y2="317.7" stroke="#7d5335" stroke-width="1.5"/>
<line x1="474.0" y1="317.7" x2="475.6" y2="324.0" stroke="#7d5335" stroke-width="1.5"/>
<line x1="475.6" y1="324.0" x2="481.0" y2="324.2" stroke="#7d5335" stroke-width="1.5"/>
<line x1="481.0" y1="324.2" x2="486.4" y2="324.4" stroke="#7d5335" stroke-width="1.5"/>
<line x1="486.4" y1="324.4" x2="489.6" y2="320.6" stroke="#7d5335" stroke-width="1.5"/>
<line x1="489.6" y1="320.6" x2="492.7" y2="316.8" stroke="#7d5335" stroke-width="1.5"/>
<line x1="492.7" y1="316.8" x2="490.8" y2="316.3" stroke="#7d5335" stroke-width="1.5"/>
<line x1="490.8" y1="316.3" x2="488.8" y2="315.8" stroke="#7d5335" stroke-width="1.5"/>
<line x1="486.4" y1="324.4" x2="488.5" y2="329.5" stroke="#7d5335" stroke-width="1.5"/>
<line x1="488.5" y1="329.5" x2="490.5" y2="334.5" stroke="#e8141a" stroke-width="1.5"/>
<circle cx="473.7" cy="228.5" r="1.5" fill="#f8eaea" stroke="#cfa8a8" stroke-width="0.6"/>
<circle cx="499.3" cy="233.8" r="1.5" fill="#f8eaea" stroke="#cfa8a8" stroke-width="0.6"/>
<circle cx="502.5" cy="251.5" r="1.5" fill="#f8eaea" stroke="#cfa8a8" stroke-width="0.6"/>
<circle cx="484.0" cy="251.8" r="1.5" fill="#f8eaea" stroke="#cfa8a8" stroke-width="0.6"/>
<circle cx="481.0" cy="254.7" r="1.5" fill="#f8eaea" stroke="#cfa8a8" stroke-width="0.6"/>
<circle cx="494.9" cy="259.7" r="1.5" fill="#f8eaea" stroke="#cfa8a8" stroke-width="0.6"/>
<circle cx="482.1" cy="264.0" r="1.5" fill="#f8eaea" stroke="#cfa8a8" stroke-width="0.6"/>
<circle cx="502.5" cy="262.2" r="1.5" fill="#f8eaea" stroke="#cfa8a8" stroke-width="0.6"/>
<circle cx="498.1" cy="269.1" r="1.5" fill="#f8eaea" stroke="#cfa8a8" stroke-width="0.6"/>
<circle cx="471.3" cy="266.9" r="1.5" fill="#f8eaea" stroke="#cfa8a8" stroke-width="0.6"/>
<circle cx="470.8" cy="270.5" r="1.5" fill="#f8eaea" stroke="#cfa8a8" stroke-width="0.6"/>
<circle cx="468.9" cy="279.1" r="1.5" fill="#f8eaea" stroke="#cfa8a8" stroke-width="0.6"/>
<circle cx="479.6" cy="279.4" r="1.5" fill="#f8eaea" stroke="#cfa8a8" stroke-width="0.6"/>
<circle cx="501.9" cy="280.3" r="1.5" fill="#f8eaea" stroke="#cfa8a8" stroke-width="0.6"/>
<circle cx="493.7" cy="286.3" r="1.5" fill="#f8eaea" stroke="#cfa8a8" stroke-width="0.6"/>
<circle cx="472.7" cy="291.4" r="1.5" fill="#f8eaea" stroke="#cfa8a8" stroke-width="0.6"/>
<circle cx="472.3" cy="294.9" r="1.5" fill="#f8eaea" stroke="#cfa8a8" stroke-width="0.6"/>
<circle cx="483.5" cy="298.5" r="1.5" fill="#f8eaea" stroke="#cfa8a8" stroke-width="0.6"/>
<circle cx="506.6" cy="304.3" r="1.5" fill="#f8eaea" stroke="#cfa8a8" stroke-width="0.6"/>
<circle cx="464.0" cy="309.6" r="1.5" fill="#f8eaea" stroke="#cfa8a8" stroke-width="0.6"/>
<circle cx="465.0" cy="314.4" r="1.5" fill="#f8eaea" stroke="#cfa8a8" stroke-width="0.6"/>
<circle cx="475.2" cy="306.7" r="1.5" fill="#f8eaea" stroke="#cfa8a8" stroke-width="0.6"/>
<circle cx="502.5" cy="313.4" r="1.5" fill="#f8eaea" stroke="#cfa8a8" stroke-width="0.6"/>
<circle cx="500.8" cy="319.4" r="1.5" fill="#f8eaea" stroke="#cfa8a8" stroke-width="0.6"/>
<circle cx="471.3" cy="327.3" r="1.5" fill="#f8eaea" stroke="#cfa8a8" stroke-width="0.6"/>
<circle cx="474.2" cy="329.2" r="1.5" fill="#f8eaea" stroke="#cfa8a8" stroke-width="0.6"/>
<circle cx="486.9" cy="322.6" r="1.5" fill="#f8eaea" stroke="#cfa8a8" stroke-width="0.6"/>
<circle cx="496.7" cy="335.2" r="1.5" fill="#f8eaea" stroke="#cfa8a8" stroke-width="0.6"/>
<circle cx="495.6" cy="248.6" r="1.5" fill="#f8eaea" stroke="#cfa8a8" stroke-width="0.6"/>
<circle cx="484.0" cy="233.8" r="2.3" fill="#7d5335" stroke="#5a3a22" stroke-width="0.4"/>
<circle cx="494.2" cy="238.6" r="2.3" fill="#7d5335" stroke="#5a3a22" stroke-width="0.4"/>
<circle cx="495.2" cy="248.9" r="2.3" fill="#7d5335" stroke="#5a3a22" stroke-width="0.4"/>
<circle cx="487.3" cy="257.8" r="2.3" fill="#7d5335" stroke="#5a3a22" stroke-width="0.4"/>
<circle cx="491.3" cy="267.3" r="2.3" fill="#7d5335" stroke="#5a3a22" stroke-width="0.4"/>
<circle cx="495.2" cy="265.9" r="2.3" fill="#7d5335" stroke="#5a3a22" stroke-width="0.4"/>
<circle cx="473.3" cy="273.1" r="2.3" fill="#7d5335" stroke="#5a3a22" stroke-width="0.4"/>
<circle cx="484.7" cy="276.3" r="2.3" fill="#7d5335" stroke="#5a3a22" stroke-width="0.4"/>
<circle cx="495.2" cy="277.0" r="2.3" fill="#7d5335" stroke="#5a3a22" stroke-width="0.4"/>
<circle cx="486.2" cy="282.7" r="2.3" fill="#7d5335" stroke="#5a3a22" stroke-width="0.4"/>
<circle cx="479.6" cy="293.5" r="2.3" fill="#7d5335" stroke="#5a3a22" stroke-width="0.4"/>
<circle cx="486.9" cy="293.2" r="2.3" fill="#7d5335" stroke="#5a3a22" stroke-width="0.4"/>
<circle cx="479.1" cy="298.1" r="2.3" fill="#7d5335" stroke="#5a3a22" stroke-width="0.4"/>
<circle cx="497.5" cy="298.5" r="2.3" fill="#7d5335" stroke="#5a3a22" stroke-width="0.4"/>
<circle cx="478.9" cy="309.0" r="2.3" fill="#7d5335" stroke="#5a3a22" stroke-width="0.4"/>
<circle cx="472.3" cy="311.5" r="2.3" fill="#7d5335" stroke="#5a3a22" stroke-width="0.4"/>
<circle cx="495.2" cy="310.0" r="2.3" fill="#7d5335" stroke="#5a3a22" stroke-width="0.4"/>
<circle cx="488.8" cy="315.8" r="2.3" fill="#7d5335" stroke="#5a3a22" stroke-width="0.4"/>
<circle cx="492.7" cy="316.8" r="2.3" fill="#7d5335" stroke="#5a3a22" stroke-width="0.4"/>
<circle cx="475.6" cy="324.0" r="2.3" fill="#7d5335" stroke="#5a3a22" stroke-width="0.4"/>
<circle cx="486.4" cy="324.4" r="2.3" fill="#7d5335" stroke="#5a3a22" stroke-width="0.4"/>
<circle cx="482.9" cy="230.0" r="2.3" fill="#e8141a"/>
<circle cx="477.1" cy="233.4" r="2.3" fill="#e8141a"/>
<circle cx="502.9" cy="296.7" r="2.3" fill="#e8141a"/>
<circle cx="490.5" cy="334.5" r="2.3" fill="#e8141a"/>
<line x1="548.6" y1="233.2" x2="547.0" y2="230.8" stroke="#e8141a" stroke-width="1.1"/>
<line x1="547.0" y1="230.8" x2="545.3" y2="228.3" stroke="#e8cccc" stroke-width="1.1"/>
<line x1="565.3" y1="238.4" x2="567.8" y2="236.0" stroke="#7d5335" stroke-width="1.1"/>
<line x1="567.8" y1="236.0" x2="570.3" y2="233.6" stroke="#e8cccc" stroke-width="1.1"/>
<line x1="566.3" y1="248.7" x2="569.8" y2="250.0" stroke="#7d5335" stroke-width="1.1"/>
<line x1="569.8" y1="250.0" x2="573.4" y2="251.3" stroke="#e8cccc" stroke-width="1.1"/>
<line x1="558.6" y1="257.6" x2="556.9" y2="254.6" stroke="#7d5335" stroke-width="1.1"/>
<line x1="556.9" y1="254.6" x2="555.3" y2="251.6" stroke="#e8cccc" stroke-width="1.1"/>
<line x1="558.6" y1="257.6" x2="555.5" y2="256.1" stroke="#7d5335" stroke-width="1.1"/>
<line x1="555.5" y1="256.1" x2="552.5" y2="254.5" stroke="#e8cccc" stroke-width="1.1"/>
<line x1="566.3" y1="265.7" x2="566.1" y2="262.6" stroke="#7d5335" stroke-width="1.1"/>
<line x1="566.1" y1="262.6" x2="566.0" y2="259.5" stroke="#e8cccc" stroke-width="1.1"/>
<line x1="558.6" y1="257.6" x2="556.0" y2="260.7" stroke="#7d5335" stroke-width="1.1"/>
<line x1="556.0" y1="260.7" x2="553.5" y2="263.8" stroke="#e8cccc" stroke-width="1.1"/>
<line x1="566.3" y1="265.7" x2="569.8" y2="263.8" stroke="#7d5335" stroke-width="1.1"/>
<line x1="569.8" y1="263.8" x2="573.4" y2="262.0" stroke="#e8cccc" stroke-width="1.1"/>
<line x1="566.3" y1="265.7" x2="567.7" y2="267.3" stroke="#7d5335" stroke-width="1.1"/>
<line x1="567.7" y1="267.3" x2="569.1" y2="268.9" stroke="#e8cccc" stroke-width="1.1"/>
<line x1="544.9" y1="272.9" x2="543.9" y2="269.8" stroke="#7d5335" stroke-width="1.1"/>
<line x1="543.9" y1="269.8" x2="542.9" y2="266.7" stroke="#e8cccc" stroke-width="1.1"/>
<line x1="544.9" y1="272.9" x2="543.7" y2="271.6" stroke="#7d5335" stroke-width="1.1"/>
<line x1="543.7" y1="271.6" x2="542.5" y2="270.3" stroke="#e8cccc" stroke-width="1.1"/>
<line x1="544.9" y1="272.9" x2="542.8" y2="275.9" stroke="#7d5335" stroke-width="1.1"/>
<line x1="542.8" y1="275.9" x2="540.6" y2="278.9" stroke="#e8cccc" stroke-width="1.1"/>
<line x1="556.0" y1="276.1" x2="553.5" y2="277.6" stroke="#7d5335" stroke-width="1.1"/>
<line x1="553.5" y1="277.6" x2="551.0" y2="279.2" stroke="#e8cccc" stroke-width="1.1"/>
<line x1="566.3" y1="276.8" x2="569.5" y2="278.4" stroke="#7d5335" stroke-width="1.1"/>
<line x1="569.5" y1="278.4" x2="572.8" y2="280.1" stroke="#e8cccc" stroke-width="1.1"/>
<line x1="557.4" y1="282.5" x2="561.1" y2="284.3" stroke="#7d5335" stroke-width="1.1"/>
<line x1="561.1" y1="284.3" x2="564.8" y2="286.1" stroke="#e8cccc" stroke-width="1.1"/>
<line x1="551.0" y1="293.3" x2="547.7" y2="292.2" stroke="#7d5335" stroke-width="1.1"/>
<line x1="547.7" y1="292.2" x2="544.3" y2="291.2" stroke="#e8cccc" stroke-width="1.1"/>
<line x1="551.0" y1="293.3" x2="547.5" y2="294.0" stroke="#7d5335" stroke-width="1.1"/>
<line x1="547.5" y1="294.0" x2="543.9" y2="294.7" stroke="#e8cccc" stroke-width="1.1"/>
<line x1="550.6" y1="297.9" x2="552.7" y2="298.1" stroke="#7d5335" stroke-width="1.1"/>
<line x1="552.7" y1="298.1" x2="554.9" y2="298.3" stroke="#e8cccc" stroke-width="1.1"/>
<line x1="573.8" y1="296.5" x2="575.6" y2="300.3" stroke="#e8141a" stroke-width="1.1"/>
<line x1="575.6" y1="300.3" x2="577.4" y2="304.1" stroke="#e8cccc" stroke-width="1.1"/>
<line x1="543.9" y1="311.3" x2="539.9" y2="310.4" stroke="#7d5335" stroke-width="1.1"/>
<line x1="539.9" y1="310.4" x2="535.8" y2="309.4" stroke="#e8cccc" stroke-width="1.1"/>
<line x1="543.9" y1="311.3" x2="540.4" y2="312.7" stroke="#7d5335" stroke-width="1.1"/>
<line x1="540.4" y1="312.7" x2="536.8" y2="314.2" stroke="#e8cccc" stroke-width="1.1"/>
<line x1="550.3" y1="308.8" x2="548.5" y2="307.7" stroke="#7d5335" stroke-width="1.1"/>
<line x1="548.5" y1="307.7" x2="546.8" y2="306.5" stroke="#e8cccc" stroke-width="1.1"/>
<line x1="566.3" y1="309.8" x2="569.8" y2="311.5" stroke="#7d5335" stroke-width="1.1"/>
<line x1="569.8" y1="311.5" x2="573.4" y2="313.2" stroke="#e8cccc" stroke-width="1.1"/>
<line x1="563.8" y1="316.6" x2="567.8" y2="317.9" stroke="#7d5335" stroke-width="1.1"/>
<line x1="567.8" y1="317.9" x2="571.7" y2="319.2" stroke="#e8cccc" stroke-width="1.1"/>
<line x1="547.2" y1="323.8" x2="545.1" y2="325.4" stroke="#7d5335" stroke-width="1.1"/>
<line x1="545.1" y1="325.4" x2="542.9" y2="327.1" stroke="#e8cccc" stroke-width="1.1"/>
<line x1="547.2" y1="323.8" x2="546.5" y2="326.4" stroke="#7d5335" stroke-width="1.1"/>
<line x1="546.5" y1="326.4" x2="545.8" y2="329.0" stroke="#e8cccc" stroke-width="1.1"/>
<line x1="557.7" y1="324.2" x2="557.9" y2="323.3" stroke="#7d5335" stroke-width="1.1"/>
<line x1="557.9" y1="323.3" x2="558.2" y2="322.4" stroke="#e8cccc" stroke-width="1.1"/>
<line x1="561.7" y1="334.3" x2="564.7" y2="334.7" stroke="#e8141a" stroke-width="1.1"/>
<line x1="564.7" y1="334.7" x2="567.7" y2="335.0" stroke="#e8cccc" stroke-width="1.1"/>
<line x1="566.3" y1="248.7" x2="566.5" y2="248.6" stroke="#7d5335" stroke-width="1.1"/>
<line x1="566.5" y1="248.6" x2="566.7" y2="248.4" stroke="#e8cccc" stroke-width="1.1"/>
<line x1="548.6" y1="233.2" x2="552.0" y2="233.4" stroke="#e8141a" stroke-width="1.5"/>
<line x1="552.0" y1="233.4" x2="555.3" y2="233.6" stroke="#7d5335" stroke-width="1.5"/>
<line x1="555.3" y1="233.6" x2="560.3" y2="236.0" stroke="#7d5335" stroke-width="1.5"/>
<line x1="560.3" y1="236.0" x2="565.3" y2="238.4" stroke="#7d5335" stroke-width="1.5"/>
<line x1="565.3" y1="238.4" x2="565.8" y2="243.6" stroke="#7d5335" stroke-width="1.5"/>
<line x1="565.8" y1="243.6" x2="566.3" y2="248.7" stroke="#7d5335" stroke-width="1.5"/>
<line x1="566.3" y1="248.7" x2="562.4" y2="253.2" stroke="#7d5335" stroke-width="1.5"/>
<line x1="562.4" y1="253.2" x2="558.6" y2="257.6" stroke="#7d5335" stroke-width="1.5"/>
<line x1="558.6" y1="257.6" x2="560.5" y2="262.4" stroke="#7d5335" stroke-width="1.5"/>
<line x1="560.5" y1="262.4" x2="562.4" y2="267.1" stroke="#7d5335" stroke-width="1.5"/>
<line x1="562.4" y1="267.1" x2="564.3" y2="266.4" stroke="#7d5335" stroke-width="1.5"/>
<line x1="564.3" y1="266.4" x2="566.3" y2="265.7" stroke="#7d5335" stroke-width="1.5"/>
<line x1="566.3" y1="265.7" x2="566.3" y2="271.2" stroke="#7d5335" stroke-width="1.5"/>
<line x1="566.3" y1="271.2" x2="566.3" y2="276.8" stroke="#7d5335" stroke-width="1.5"/>
<line x1="566.3" y1="276.8" x2="561.9" y2="279.7" stroke="#7d5335" stroke-width="1.5"/>
<line x1="561.9" y1="279.7" x2="557.4" y2="282.5" stroke="#7d5335" stroke-width="1.5"/>
<line x1="562.4" y1="267.1" x2="559.2" y2="271.6" stroke="#7d5335" stroke-width="1.5"/>
<line x1="559.2" y1="271.6" x2="556.0" y2="276.1" stroke="#7d5335" stroke-width="1.5"/>
<line x1="544.9" y1="272.9" x2="550.5" y2="274.5" stroke="#7d5335" stroke-width="1.5"/>
<line x1="550.5" y1="274.5" x2="556.0" y2="276.1" stroke="#7d5335" stroke-width="1.5"/>
<line x1="556.0" y1="276.1" x2="556.7" y2="279.3" stroke="#7d5335" stroke-width="1.5"/>
<line x1="556.7" y1="279.3" x2="557.4" y2="282.5" stroke="#7d5335" stroke-width="1.5"/>
<line x1="557.4" y1="282.5" x2="557.8" y2="287.8" stroke="#7d5335" stroke-width="1.5"/>
<line x1="557.8" y1="287.8" x2="558.2" y2="293.0" stroke="#7d5335" stroke-width="1.5"/>
<line x1="557.4" y1="282.5" x2="554.2" y2="287.9" stroke="#7d5335" stroke-width="1.5"/>
<line x1="554.2" y1="287.9" x2="551.0" y2="293.3" stroke="#7d5335" stroke-width="1.5"/>
<line x1="558.2" y1="293.0" x2="563.3" y2="295.7" stroke="#7d5335" stroke-width="1.5"/>
<line x1="563.3" y1="295.7" x2="568.5" y2="298.3" stroke="#7d5335" stroke-width="1.5"/>
<line x1="568.5" y1="298.3" x2="571.2" y2="297.4" stroke="#7d5335" stroke-width="1.5"/>
<line x1="571.2" y1="297.4" x2="573.8" y2="296.5" stroke="#e8141a" stroke-width="1.5"/>
<line x1="568.5" y1="298.3" x2="567.4" y2="304.1" stroke="#7d5335" stroke-width="1.5"/>
<line x1="567.4" y1="304.1" x2="566.3" y2="309.8" stroke="#7d5335" stroke-width="1.5"/>
<line x1="566.3" y1="309.8" x2="563.1" y2="312.7" stroke="#7d5335" stroke-width="1.5"/>
<line x1="563.1" y1="312.7" x2="560.0" y2="315.6" stroke="#7d5335" stroke-width="1.5"/>
<line x1="558.2" y1="293.0" x2="554.4" y2="295.5" stroke="#7d5335" stroke-width="1.5"/>
<line x1="554.4" y1="295.5" x2="550.6" y2="297.9" stroke="#7d5335" stroke-width="1.5"/>
<line x1="550.6" y1="297.9" x2="550.5" y2="303.4" stroke="#7d5335" stroke-width="1.5"/>
<line x1="550.5" y1="303.4" x2="550.3" y2="308.8" stroke="#7d5335" stroke-width="1.5"/>
<line x1="550.3" y1="308.8" x2="555.2" y2="312.2" stroke="#7d5335" stroke-width="1.5"/>
<line x1="555.2" y1="312.2" x2="560.0" y2="315.6" stroke="#7d5335" stroke-width="1.5"/>
<line x1="550.3" y1="308.8" x2="547.1" y2="310.1" stroke="#7d5335" stroke-width="1.5"/>
<line x1="547.1" y1="310.1" x2="543.9" y2="311.3" stroke="#7d5335" stroke-width="1.5"/>
<line x1="543.9" y1="311.3" x2="545.6" y2="317.5" stroke="#7d5335" stroke-width="1.5"/>
<line x1="545.6" y1="317.5" x2="547.2" y2="323.8" stroke="#7d5335" stroke-width="1.5"/>
<line x1="547.2" y1="323.8" x2="552.5" y2="324.0" stroke="#7d5335" stroke-width="1.5"/>
<line x1="552.5" y1="324.0" x2="557.7" y2="324.2" stroke="#7d5335" stroke-width="1.5"/>
<line x1="557.7" y1="324.2" x2="560.8" y2="320.4" stroke="#7d5335" stroke-width="1.5"/>
<line x1="560.8" y1="320.4" x2="563.8" y2="316.6" stroke="#7d5335" stroke-width="1.5"/>
<line x1="563.8" y1="316.6" x2="561.9" y2="316.1" stroke="#7d5335" stroke-width="1.5"/>
<line x1="561.9" y1="316.1" x2="560.0" y2="315.6" stroke="#7d5335" stroke-width="1.5"/>
<line x1="557.7" y1="324.2" x2="559.7" y2="329.3" stroke="#7d5335" stroke-width="1.5"/>
<line x1="559.7" y1="329.3" x2="561.7" y2="334.3" stroke="#e8141a" stroke-width="1.5"/>
<circle cx="545.3" cy="228.3" r="1.5" fill="#f8eaea" stroke="#cfa8a8" stroke-width="0.6"/>
<circle cx="570.3" cy="233.6" r="1.5" fill="#f8eaea" stroke="#cfa8a8" stroke-width="0.6"/>
<circle cx="573.4" cy="251.3" r="1.5" fill="#f8eaea" stroke="#cfa8a8" stroke-width="0.6"/>
<circle cx="555.3" cy="251.6" r="1.5" fill="#f8eaea" stroke="#cfa8a8" stroke-width="0.6"/>
<circle cx="552.5" cy="254.5" r="1.5" fill="#f8eaea" stroke="#cfa8a8" stroke-width="0.6"/>
<circle cx="566.0" cy="259.5" r="1.5" fill="#f8eaea" stroke="#cfa8a8" stroke-width="0.6"/>
<circle cx="553.5" cy="263.8" r="1.5" fill="#f8eaea" stroke="#cfa8a8" stroke-width="0.6"/>
<circle cx="573.4" cy="262.0" r="1.5" fill="#f8eaea" stroke="#cfa8a8" stroke-width="0.6"/>
<circle cx="569.1" cy="268.9" r="1.5" fill="#f8eaea" stroke="#cfa8a8" stroke-width="0.6"/>
<circle cx="542.9" cy="266.7" r="1.5" fill="#f8eaea" stroke="#cfa8a8" stroke-width="0.6"/>
<circle cx="542.5" cy="270.3" r="1.5" fill="#f8eaea" stroke="#cfa8a8" stroke-width="0.6"/>
<circle cx="540.6" cy="278.9" r="1.5" fill="#f8eaea" stroke="#cfa8a8" stroke-width="0.6"/>
<circle cx="551.0" cy="279.2" r="1.5" fill="#f8eaea" stroke="#cfa8a8" stroke-width="0.6"/>
<circle cx="572.8" cy="280.1" r="1.5" fill="#f8eaea" stroke="#cfa8a8" stroke-width="0.6"/>
<circle cx="564.8" cy="286.1" r="1.5" fill="#f8eaea" stroke="#cfa8a8" stroke-width="0.6"/>
<circle cx="544.3" cy="291.2" r="1.5" fill="#f8eaea" stroke="#cfa8a8" stroke-width="0.6"/>
<circle cx="543.9" cy="294.7" r="1.5" fill="#f8eaea" stroke="#cfa8a8" stroke-width="0.6"/>
<circle cx="554.9" cy="298.3" r="1.5" fill="#f8eaea" stroke="#cfa8a8" stroke-width="0.6"/>
<circle cx="577.4" cy="304.1" r="1.5" fill="#f8eaea" stroke="#cfa8a8" stroke-width="0.6"/>
<circle cx="535.8" cy="309.4" r="1.5" fill="#f8eaea" stroke="#cfa8a8" stroke-width="0.6"/>
<circle cx="536.8" cy="314.2" r="1.5" fill="#f8eaea" stroke="#cfa8a8" stroke-width="0.6"/>
<circle cx="546.8" cy="306.5" r="1.5" fill="#f8eaea" stroke="#cfa8a8" stroke-width="0.6"/>
<circle cx="573.4" cy="313.2" r="1.5" fill="#f8eaea" stroke="#cfa8a8" stroke-width="0.6"/>
<circle cx="571.7" cy="319.2" r="1.5" fill="#f8eaea" stroke="#cfa8a8" stroke-width="0.6"/>
<circle cx="542.9" cy="327.1" r="1.5" fill="#f8eaea" stroke="#cfa8a8" stroke-width="0.6"/>
<circle cx="545.8" cy="329.0" r="1.5" fill="#f8eaea" stroke="#cfa8a8" stroke-width="0.6"/>
<circle cx="558.2" cy="322.4" r="1.5" fill="#f8eaea" stroke="#cfa8a8" stroke-width="0.6"/>
<circle cx="567.7" cy="335.0" r="1.5" fill="#f8eaea" stroke="#cfa8a8" stroke-width="0.6"/>
<circle cx="566.7" cy="248.4" r="1.5" fill="#f8eaea" stroke="#cfa8a8" stroke-width="0.6"/>
<circle cx="555.3" cy="233.6" r="2.3" fill="#7d5335" stroke="#5a3a22" stroke-width="0.4"/>
<circle cx="565.3" cy="238.4" r="2.3" fill="#7d5335" stroke="#5a3a22" stroke-width="0.4"/>
<circle cx="566.3" cy="248.7" r="2.3" fill="#7d5335" stroke="#5a3a22" stroke-width="0.4"/>
<circle cx="558.6" cy="257.6" r="2.3" fill="#7d5335" stroke="#5a3a22" stroke-width="0.4"/>
<circle cx="562.4" cy="267.1" r="2.3" fill="#7d5335" stroke="#5a3a22" stroke-width="0.4"/>
<circle cx="566.3" cy="265.7" r="2.3" fill="#7d5335" stroke="#5a3a22" stroke-width="0.4"/>
<circle cx="544.9" cy="272.9" r="2.3" fill="#7d5335" stroke="#5a3a22" stroke-width="0.4"/>
<circle cx="556.0" cy="276.1" r="2.3" fill="#7d5335" stroke="#5a3a22" stroke-width="0.4"/>
<circle cx="566.3" cy="276.8" r="2.3" fill="#7d5335" stroke="#5a3a22" stroke-width="0.4"/>
<circle cx="557.4" cy="282.5" r="2.3" fill="#7d5335" stroke="#5a3a22" stroke-width="0.4"/>
<circle cx="551.0" cy="293.3" r="2.3" fill="#7d5335" stroke="#5a3a22" stroke-width="0.4"/>
<circle cx="558.2" cy="293.0" r="2.3" fill="#7d5335" stroke="#5a3a22" stroke-width="0.4"/>
<circle cx="550.6" cy="297.9" r="2.3" fill="#7d5335" stroke="#5a3a22" stroke-width="0.4"/>
<circle cx="568.5" cy="298.3" r="2.3" fill="#7d5335" stroke="#5a3a22" stroke-width="0.4"/>
<circle cx="550.3" cy="308.8" r="2.3" fill="#7d5335" stroke="#5a3a22" stroke-width="0.4"/>
<circle cx="543.9" cy="311.3" r="2.3" fill="#7d5335" stroke="#5a3a22" stroke-width="0.4"/>
<circle cx="566.3" cy="309.8" r="2.3" fill="#7d5335" stroke="#5a3a22" stroke-width="0.4"/>
<circle cx="560.0" cy="315.6" r="2.3" fill="#7d5335" stroke="#5a3a22" stroke-width="0.4"/>
<circle cx="563.8" cy="316.6" r="2.3" fill="#7d5335" stroke="#5a3a22" stroke-width="0.4"/>
<circle cx="547.2" cy="323.8" r="2.3" fill="#7d5335" stroke="#5a3a22" stroke-width="0.4"/>
<circle cx="557.7" cy="324.2" r="2.3" fill="#7d5335" stroke="#5a3a22" stroke-width="0.4"/>
<circle cx="554.3" cy="229.8" r="2.3" fill="#e8141a"/>
<circle cx="548.6" cy="233.2" r="2.3" fill="#e8141a"/>
<circle cx="573.8" cy="296.5" r="2.3" fill="#e8141a"/>
<circle cx="561.7" cy="334.3" r="2.3" fill="#e8141a"/>
<text x="31.5" y="522.6" font-size="28" fill="#000" font-weight="bold">b</text>
<rect x="52.6" y="500.9" width="611.8" height="392.9" fill="none" stroke="#000" stroke-width="2.8" rx="1.5"/>
<path d="M181.2,589.8 C181,578 190,572.4 200,572 L229.6,571.2 C260,571.5 300,573 328.9,576 C340,578 344,584 342.5,590 C339,600 330,604 319,606 C300,610 285,612 271.8,610.9 C262,609 258,602 252,600.5 C240,600 230,605 214.7,606 C200,606.5 182,604 181.2,589.8 Z" fill="#fef8f3" stroke="#e67e22" stroke-width="2" stroke-dasharray="6,4"/>
<path d="M255.8,690.4 C258,686 263,685.5 267,686 C280,687 292,690 301.7,693.5 C315,700 326,710 330.4,717 C335,724 337,730 336.5,735.4 C336,745 335,755 333.4,760 C331,765 327,769 322.2,768.1 C316,766 310,761 305.8,757.9 C296,750 288,743 281.3,735.4 C274,728 266,720 260.9,712.9 C257,706 253,697 255.8,690.4 Z" fill="#f8fbfd" stroke="#7fc3da" stroke-width="2" stroke-dasharray="6,4"/>
<path d="M529.9,513.7 C530,508 538,505.5 545,506.7 C552,507.5 560,508.5 568.4,510.2 C585,514 600,519 615,525.4 C626,530 634,532 637.3,534.7 C640,537 639,540 636,541.7 C630,548 626,554 622,557 C617,560 612,559 608,558 C600,555 595,550 595.3,546.4 C596,541 600,538 601,535.9 C598,531 592,528 585,528.5 C575,530 568,533 562.6,533.6 C555,533 549,531 547.4,528.9 C540,525 530,520 529.9,513.7 Z" fill="#f8fbfd" stroke="#7fc3da" stroke-width="2" stroke-dasharray="6,4"/>
<path d="M331,814 C329,806 340,799 361.8,798 C380,797.5 405,799 415,802 C425,806 430,815 440,825 C460,840 500,850 521,861.5 C526,866 522,873 510,880 C495,887 480,890 468,890 C452,889 436,878 429,867.7 C426,862 448,860 451.7,855.4 C452,849 448,845 443.5,843 C420,840 390,840 361.8,838.2 C345,837 332,828 331,814 Z" fill="#fef8f3" stroke="#e67e22" stroke-width="2" stroke-dasharray="6,4"/>
<circle cx="281" cy="540.9" r="8.3" fill="#cac85c"/>
<circle cx="316.8" cy="546.9" r="8.3" fill="#cac85c"/>
<circle cx="343" cy="581" r="8.3" fill="#cac85c"/>
<circle cx="211" cy="593" r="8.3" fill="#cac85c"/>
<circle cx="269.3" cy="598.5" r="8.3" fill="#cac85c"/>
<circle cx="250.7" cy="609.6" r="8.3" fill="#cac85c"/>
<circle cx="162.2" cy="651.2" r="8.3" fill="#cac85c"/>
<circle cx="255.4" cy="667.3" r="8.3" fill="#cac85c"/>
<circle cx="286" cy="662.2" r="8.3" fill="#cac85c"/>
<circle cx="135" cy="712.7" r="8.3" fill="#cac85c"/>
<circle cx="187.9" cy="712.7" r="8.3" fill="#cac85c"/>
<circle cx="283.4" cy="713.3" r="8.3" fill="#cac85c"/>
<circle cx="238.4" cy="729.3" r="8.3" fill="#cac85c"/>
<circle cx="302.8" cy="744" r="8.3" fill="#cac85c"/>
<circle cx="127.4" cy="766.6" r="8.3" fill="#cac85c"/>
<circle cx="193.9" cy="766.6" r="8.3" fill="#cac85c"/>
<circle cx="266.6" cy="775.8" r="8.3" fill="#cac85c"/>
<circle cx="142" cy="799.3" r="8.3" fill="#cac85c"/>
<circle cx="231.7" cy="800.8" r="8.3" fill="#cac85c"/>
<circle cx="182.8" cy="842.6" r="8.3" fill="#cac85c"/>
<circle cx="164.7" cy="845.1" r="8.3" fill="#cac85c"/>
<circle cx="240.7" cy="845.1" r="8.3" fill="#cac85c"/>
<circle cx="206.5" cy="867.8" r="8.3" fill="#cac85c"/>
<circle cx="436.2" cy="588.2" r="8.3" fill="#e67ac8"/>
<circle cx="453.3" cy="717.7" r="8.3" fill="#6bbd6b"/>
<circle cx="552.8" cy="519" r="8.3" fill="#64a2cf"/>
<circle cx="577.8" cy="543.6" r="8.3" fill="#64a2cf"/>
<circle cx="607" cy="545.2" r="8.3" fill="#64a2cf"/>
<circle cx="631.5" cy="563.2" r="8.3" fill="#64a2cf"/>
<circle cx="582.3" cy="582.2" r="8.3" fill="#64a2cf"/>
<circle cx="511.2" cy="745.4" r="8.3" fill="#b494d2"/>
<circle cx="478.5" cy="794.8" r="8.3" fill="#b494d2"/>
<circle cx="545.5" cy="792.2" r="8.3" fill="#b494d2"/>
<circle cx="424" cy="823.5" r="8.3" fill="#b494d2"/>
<circle cx="471" cy="823.5" r="8.3" fill="#b494d2"/>
<circle cx="511.2" cy="823.5" r="8.3" fill="#b494d2"/>
<circle cx="522.8" cy="842" r="8.3" fill="#b494d2"/>
<circle cx="443.5" cy="852" r="8.3" fill="#b494d2"/>
<circle cx="394.5" cy="858.3" r="8.3" fill="#b494d2"/>
<circle cx="476" cy="876.4" r="8.3" fill="#b494d2"/>
<path d="M405.4,596.5999999999999 L421.4,612.5999999999999 M405.4,612.5999999999999 L421.4,596.5999999999999" stroke="#cac85c" stroke-width="1.8"/>
<path d="M391.4,620.3 L407.4,636.3 M391.4,636.3 L407.4,620.3" stroke="#cac85c" stroke-width="1.8"/>
<path d="M444.2,613.3 L460.2,629.3 M444.2,629.3 L460.2,613.3" stroke="#cac85c" stroke-width="1.8"/>
<path d="M462.4,659.5999999999999 L478.4,675.5999999999999 M462.4,675.5999999999999 L478.4,659.5999999999999" stroke="#cac85c" stroke-width="1.8"/>
<path d="M530.4,583.0 L546.4,599.0 M530.4,599.0 L546.4,583.0" stroke="#6bbd6b" stroke-width="1.8"/>
<path d="M512.6999999999999,633.3 L528.6999999999999,649.3 M512.6999999999999,649.3 L528.6999999999999,633.3" stroke="#6bbd6b" stroke-width="1.8"/>
<path d="M482.0,668.5999999999999 L498.0,684.5999999999999 M482.0,684.5999999999999 L498.0,668.5999999999999" stroke="#6bbd6b" stroke-width="1.8"/>
<path d="M600.8,586.5 L616.8,602.5 M600.8,602.5 L616.8,586.5" stroke="#64a2cf" stroke-width="1.8"/>
<path d="M609.4,605.6999999999999 L625.4,621.6999999999999 M609.4,621.6999999999999 L625.4,605.6999999999999" stroke="#64a2cf" stroke-width="1.8"/>
<path d="M551.4,659.5999999999999 L567.4,675.5999999999999 M551.4,675.5999999999999 L567.4,659.5999999999999" stroke="#5ccfdc" stroke-width="1.8"/>
<path d="M562.6,676.1999999999999 L578.6,692.1999999999999 M562.6,692.1999999999999 L578.6,676.1999999999999" stroke="#5ccfdc" stroke-width="1.8"/>
<path d="M530.4,692.3 L546.4,708.3 M530.4,708.3 L546.4,692.3" stroke="#5ccfdc" stroke-width="1.8"/>
<text x="255.9" y="532.8" font-size="12.5" font-style="italic" fill="#1a1a1a" textLength="50.3" lengthAdjust="spacingAndGlyphs">SkinSen</text>
<text x="308.0" y="537.8" font-size="12.5" font-style="italic" fill="#1a1a1a" textLength="18.4" lengthAdjust="spacingAndGlyphs">EC</text>
<text x="337.6" y="572.0" font-size="12.5" font-style="italic" fill="#1a1a1a" textLength="11.1" lengthAdjust="spacingAndGlyphs">EI</text>
<text x="193.6" y="584.8" font-size="12.5" font-style="italic" fill="#1a1a1a" textLength="35.4" lengthAdjust="spacingAndGlyphs">Ames</text>
<text x="238.3" y="589.3" font-size="12.5" font-style="italic" fill="#1a1a1a" textLength="99.3" lengthAdjust="spacingAndGlyphs">Carcinogenicity</text>
<text x="213.5" y="619.0" font-size="12.5" font-style="italic" fill="#1a1a1a" textLength="73.2" lengthAdjust="spacingAndGlyphs">Respiratory</text>
<text x="132.5" y="642.6" font-size="12.5" font-style="italic" fill="#1a1a1a" textLength="60.5" lengthAdjust="spacingAndGlyphs">NR &#8722; AhR</text>
<text x="242.0" y="657.7" font-size="12.5" font-style="italic" fill="#1a1a1a" textLength="26.4" lengthAdjust="spacingAndGlyphs">ROA</text>
<text x="268.4" y="652.7" font-size="12.5" font-style="italic" fill="#1a1a1a" textLength="56.0" lengthAdjust="spacingAndGlyphs">FDAMDD</text>
<text x="78.0" y="704.1" font-size="12.5" font-style="italic" fill="#1a1a1a" textLength="77.0" lengthAdjust="spacingAndGlyphs">SR &#8722; ATAD5</text>
<text x="155.0" y="697.6" font-size="12.5" font-style="italic" fill="#1a1a1a" textLength="104.4" lengthAdjust="spacingAndGlyphs">NR &#8722; Aromatase</text>
<text x="260.9" y="704.3" font-size="12.5" font-style="italic" fill="#1a1a1a" textLength="42.9" lengthAdjust="spacingAndGlyphs">H &#8722; HT</text>
<text x="209.0" y="720.2" font-size="12.5" font-style="italic" fill="#1a1a1a" textLength="58.0" lengthAdjust="spacingAndGlyphs">SR &#8722; ARE</text>
<text x="291.1" y="735.4" font-size="12.5" font-style="italic" fill="#1a1a1a" textLength="23.9" lengthAdjust="spacingAndGlyphs">DILI</text>
<text x="98.2" y="758.0" font-size="12.5" font-style="italic" fill="#1a1a1a" textLength="58.9" lengthAdjust="spacingAndGlyphs">SR &#8722; HSE</text>
<text x="165.2" y="758.0" font-size="12.5" font-style="italic" fill="#1a1a1a" textLength="56.4" lengthAdjust="spacingAndGlyphs">SR &#8722; p53</text>
<text x="234.2" y="767.5" font-size="12.5" font-style="italic" fill="#1a1a1a" textLength="63.1" lengthAdjust="spacingAndGlyphs">SR &#8722; MMP</text>
<text x="75.5" y="789.7" font-size="12.5" font-style="italic" fill="#1a1a1a" textLength="132.0" lengthAdjust="spacingAndGlyphs">NR &#8722; PPAR &#8722; gamma</text>
<text x="215.6" y="792.2" font-size="12.5" font-style="italic" fill="#1a1a1a" textLength="33.7" lengthAdjust="spacingAndGlyphs">hERG</text>
<text x="157.6" y="822.5" font-size="12.5" font-style="italic" fill="#1a1a1a" textLength="51.4" lengthAdjust="spacingAndGlyphs">NR &#8722; AR</text>
<text x="80.6" y="836.0" font-size="12.5" font-style="italic" fill="#1a1a1a" textLength="93.2" lengthAdjust="spacingAndGlyphs">NR &#8722; AR &#8722; LBD</text>
<text x="216.6" y="836.0" font-size="12.5" font-style="italic" fill="#1a1a1a" textLength="50.4" lengthAdjust="spacingAndGlyphs">NR &#8722; ER</text>
<text x="160.2" y="858.7" font-size="12.5" font-style="italic" fill="#1a1a1a" textLength="92.6" lengthAdjust="spacingAndGlyphs">NR &#8722; ER &#8722; LBD</text>
<text x="538.0" y="534.5" font-size="12.5" font-style="italic" fill="#1a1a1a" textLength="61.4" lengthAdjust="spacingAndGlyphs">Pgp &#8722; inh</text>
<text x="621.0" y="554.6" font-size="12.5" font-style="italic" fill="#1a1a1a" textLength="21.0" lengthAdjust="spacingAndGlyphs">HIA</text>
<text x="552.0" y="572.5" font-size="12.5" font-style="italic" fill="#1a1a1a" textLength="60.8" lengthAdjust="spacingAndGlyphs">Pgp &#8722; sub</text>
<text x="589.3" y="587.2" font-size="12.5" font-style="italic" fill="#1a1a1a" textLength="37.7" lengthAdjust="spacingAndGlyphs">MDCK</text>
<text x="589.3" y="604.8" font-size="12.5" font-style="italic" fill="#1a1a1a" textLength="55.4" lengthAdjust="spacingAndGlyphs">Caco &#8722; 2</text>
<text x="530.4" y="583.4" font-size="12.5" font-style="italic" fill="#1a1a1a" textLength="15.1" lengthAdjust="spacingAndGlyphs">Fu</text>
<text x="511.2" y="632.2" font-size="12.5" font-style="italic" fill="#1a1a1a" textLength="17.7" lengthAdjust="spacingAndGlyphs">VD</text>
<text x="457.4" y="658.9" font-size="12.5" font-style="italic" fill="#1a1a1a" textLength="25.1" lengthAdjust="spacingAndGlyphs">BCF</text>
<text x="477.5" y="667.5" font-size="12.5" font-style="italic" fill="#1a1a1a" textLength="24.7" lengthAdjust="spacingAndGlyphs">PPB</text>
<text x="544.0" y="658.9" font-size="12.5" font-style="italic" fill="#1a1a1a" textLength="32.7" lengthAdjust="spacingAndGlyphs">LogD</text>
<text x="554.0" y="675.0" font-size="12.5" font-style="italic" fill="#1a1a1a" textLength="31.8" lengthAdjust="spacingAndGlyphs">LogP</text>
<text x="523.8" y="692.7" font-size="12.5" font-style="italic" fill="#1a1a1a" textLength="31.8" lengthAdjust="spacingAndGlyphs">LogS</text>
<text x="436.7" y="709.0" font-size="12.5" font-style="italic" fill="#1a1a1a" textLength="35.3" lengthAdjust="spacingAndGlyphs">BBBP</text>
<text x="468.4" y="736.8" font-size="12.5" font-style="italic" fill="#1a1a1a" textLength="85.6" lengthAdjust="spacingAndGlyphs">CYP2D6 &#8722; inh</text>
<text x="414.5" y="785.7" font-size="12.5" font-style="italic" fill="#1a1a1a" textLength="90.2" lengthAdjust="spacingAndGlyphs">CYP2D6 &#8722; sub</text>
<text x="535.4" y="783.2" font-size="12.5" font-style="italic" fill="#1a1a1a" textLength="96.7" lengthAdjust="spacingAndGlyphs">CYP2C19 &#8722; sub</text>
<text x="331.0" y="814.5" font-size="12.5" font-style="italic" fill="#1a1a1a" textLength="86.0" lengthAdjust="spacingAndGlyphs">CYP3A4 &#8722; inh</text>
<text x="427.0" y="814.9" font-size="12.5" font-style="italic" fill="#1a1a1a" textLength="89.3" lengthAdjust="spacingAndGlyphs">CYP2C9 &#8722; sub</text>
<text x="513.8" y="821.0" font-size="12.5" font-style="italic" fill="#1a1a1a" textLength="88.1" lengthAdjust="spacingAndGlyphs">CYP3A4 &#8722; sub</text>
<text x="478.5" y="833.5" font-size="12.5" font-style="italic" fill="#1a1a1a" textLength="88.1" lengthAdjust="spacingAndGlyphs">CYP1A2 &#8722; sub</text>
<text x="350.3" y="852.0" font-size="12.5" font-style="italic" fill="#1a1a1a" textLength="93.2" lengthAdjust="spacingAndGlyphs">CYP2C19 &#8722; inh</text>
<text x="305.3" y="859.5" font-size="12.5" font-style="italic" fill="#1a1a1a" textLength="85.1" lengthAdjust="spacingAndGlyphs">CYP2C9 &#8722; inh</text>
<text x="434.7" y="867.8" font-size="12.5" font-style="italic" fill="#1a1a1a" textLength="84.1" lengthAdjust="spacingAndGlyphs">CYP1A2 &#8722; inh</text>
<text x="539.2" y="509.0" font-size="12.5" font-style="italic" fill="#1a1a1a" textLength="7.0" lengthAdjust="spacingAndGlyphs">F</text>
<text x="546.7" y="510.8" font-size="9" font-style="normal" fill="#1a1a1a" textLength="20.0" lengthAdjust="spacingAndGlyphs">30%</text>
<text x="603.5" y="535.2" font-size="12.5" font-style="italic" fill="#1a1a1a" textLength="6.0" lengthAdjust="spacingAndGlyphs">F</text>
<text x="610.0" y="537.0" font-size="9" font-style="normal" fill="#1a1a1a" textLength="21.0" lengthAdjust="spacingAndGlyphs">20%</text>
<text x="425.6" y="579.6" font-size="12.5" font-style="italic" fill="#1a1a1a" textLength="7.0" lengthAdjust="spacingAndGlyphs">T</text>
<text x="433.1" y="581.4" font-size="9" font-style="normal" fill="#1a1a1a" textLength="13.5" lengthAdjust="spacingAndGlyphs">1/2</text>
<text x="400.4" y="598.3" font-size="12.5" font-style="italic" fill="#1a1a1a" textLength="15.0" lengthAdjust="spacingAndGlyphs">LC</text>
<text x="415.9" y="600.1" font-size="9" font-style="normal" fill="#1a1a1a" textLength="12.0" lengthAdjust="spacingAndGlyphs">50</text>
<text x="374.2" y="619.4" font-size="12.5" font-style="italic" fill="#1a1a1a" textLength="15.0" lengthAdjust="spacingAndGlyphs">LC</text>
<text x="389.7" y="621.2" font-size="9" font-style="normal" fill="#1a1a1a" textLength="12.0" lengthAdjust="spacingAndGlyphs">50</text>
<text x="402.2" y="619.4" font-size="12.5" font-style="italic" fill="#1a1a1a" textLength="21.0" lengthAdjust="spacingAndGlyphs">DM</text>
<text x="434.7" y="611.9" font-size="12.5" font-style="italic" fill="#1a1a1a" textLength="20.5" lengthAdjust="spacingAndGlyphs">IGC</text>
<text x="455.7" y="613.7" font-size="9" font-style="normal" fill="#1a1a1a" textLength="12.0" lengthAdjust="spacingAndGlyphs">50</text>
<text x="327.0" y="912.6" font-size="16.5" fill="#000" textLength="60.0" lengthAdjust="spacingAndGlyphs">UMAP 1</text>
<text transform="translate(43.2,704.7) rotate(-90)" font-size="16.5" textLength="60" lengthAdjust="spacingAndGlyphs">UMAP 2</text>
<rect x="55" y="502" width="121" height="90.3" fill="#fff" stroke="#aaa" stroke-width="1" stroke-dasharray="4,2,1,2"/>
<line x1="55" y1="545.6" x2="176" y2="545.6" stroke="#aaa" stroke-width="1" stroke-dasharray="4,2,1,2"/>
<circle cx="64.2" cy="513" r="7" fill="#64a2cf"/>
<text x="77.2" y="518.3" font-size="15.2" fill="#000">A</text>
<circle cx="106.4" cy="513" r="7" fill="#6bbd6b"/>
<text x="119.4" y="518.3" font-size="15.2" fill="#000">D</text>
<circle cx="146.6" cy="513" r="7" fill="#b494d2"/>
<text x="159.6" y="518.3" font-size="15.2" fill="#000">M</text>
<circle cx="64.2" cy="531.2" r="7" fill="#e67ac8"/>
<text x="77.2" y="536.5" font-size="15.2" fill="#000">E</text>
<circle cx="106.4" cy="531.2" r="7" fill="#c0bf2e"/>
<text x="119.4" y="536.5" font-size="15.2" fill="#000">T</text>
<circle cx="146.6" cy="531.2" r="7" fill="#5ccfdc"/>
<text x="159.6" y="536.5" font-size="15.2" fill="#000">P</text>
<circle cx="64.9" cy="556" r="7" fill="#999"/>
<text x="83.5" y="562.9" font-size="14.5" fill="#000" textLength="85.5" lengthAdjust="spacingAndGlyphs">Classification</text>
<path d="M59.3,571.8 L73.3,585.8 M59.3,585.8 L73.3,571.8" stroke="#aaa" stroke-width="2"/>
<text x="85.4" y="583.5" font-size="14.5" fill="#000" textLength="72.5" lengthAdjust="spacingAndGlyphs">Regression</text>
<text x="36.0" y="938.0" font-size="27" fill="#000" font-weight="bold">c</text>
<rect x="58" y="927.5" width="519.5" height="203.8" rx="9" fill="none" stroke="#e4680c" stroke-width="3"/>
<rect x="57.5" y="1142.2" width="519.8" height="184.4" rx="9" fill="none" stroke="#8ec9dc" stroke-width="3"/>
<line x1="188.5" y1="931" x2="188.5" y2="1130" stroke="#a8a450" stroke-width="2" stroke-dasharray="6,4.5"/>
<line x1="318.7" y1="931" x2="318.7" y2="1130" stroke="#e8731a" stroke-width="2" stroke-dasharray="6,4.5"/>
<line x1="450.4" y1="931" x2="450.4" y2="1130" stroke="#7a3fb5" stroke-width="2" stroke-dasharray="6,4.5"/>
<line x1="68.7" y1="1059.3" x2="183" y2="1059.3" stroke="#a8a450" stroke-width="2" stroke-dasharray="6,4.5"/>
<line x1="199.5" y1="1059.3" x2="314" y2="1059.3" stroke="#a8a450" stroke-width="2" stroke-dasharray="6,4.5"/>
<line x1="330" y1="1059.3" x2="445" y2="1059.3" stroke="#7a3fb5" stroke-width="2" stroke-dasharray="6,4.5"/>
<line x1="461" y1="1059.3" x2="573" y2="1059.3" stroke="#7a3fb5" stroke-width="2" stroke-dasharray="6,4.5"/>
<line x1="188.2" y1="1146" x2="188.2" y2="1330" stroke="#a8a450" stroke-width="2" stroke-dasharray="6,4.5"/>
<line x1="318.2" y1="1146" x2="318.2" y2="1325" stroke="#8ec9dc" stroke-width="2" stroke-dasharray="6,4.5"/>
<line x1="450.7" y1="1146" x2="450.7" y2="1325" stroke="#4a8bbf" stroke-width="2" stroke-dasharray="6,4.5"/>
<line x1="66.2" y1="1245.3" x2="177.6" y2="1245.3" stroke="#a8a450" stroke-width="2" stroke-dasharray="6,4.5"/>
<line x1="201" y1="1244.8" x2="313" y2="1244.8" stroke="#a8a450" stroke-width="2" stroke-dasharray="6,4.5"/>
<line x1="333" y1="1245.5" x2="445.7" y2="1245.5" stroke="#4a8bbf" stroke-width="2" stroke-dasharray="6,4.5"/>
<line x1="462.4" y1="1245.9" x2="572.7" y2="1245.9" stroke="#4a8bbf" stroke-width="2" stroke-dasharray="6,4.5"/>
<text x="86.2" y="951.8" font-size="15.8" fill="#000" textLength="65.8" lengthAdjust="spacingAndGlyphs">(a) Ames</text>
<text x="191.7" y="951.8" font-size="15.8" fill="#000" textLength="123.8" lengthAdjust="spacingAndGlyphs">(b) Carcinogenicity</text>
<text x="326.4" y="951.8" font-size="15.8" fill="#000" textLength="113.9" lengthAdjust="spacingAndGlyphs">(c) CYP1A2-inh</text>
<text x="455.6" y="951.8" font-size="15.8" fill="#000" textLength="114.4" lengthAdjust="spacingAndGlyphs">(d) CYP3A4-inh</text>
<text x="91.8" y="1167.9" font-size="15.8" fill="#000" textLength="54.8" lengthAdjust="spacingAndGlyphs">(e) DILI</text>
<text x="219.7" y="1168.5" font-size="15.8" fill="#000" textLength="58.3" lengthAdjust="spacingAndGlyphs">(f) H-HT</text>
<text x="355.8" y="1167.8" font-size="15.8" fill="#000" textLength="35.5" lengthAdjust="spacingAndGlyphs">(g) F</text>
<text x="391.5" y="1172.3" font-size="12.5" textLength="24.5" lengthAdjust="spacingAndGlyphs">20%</text>
<text x="481.4" y="1167.8" font-size="15.8" fill="#000" textLength="35.5" lengthAdjust="spacingAndGlyphs">(h) F</text>
<text x="516.5" y="1172.3" font-size="12.5" textLength="24.5" lengthAdjust="spacingAndGlyphs">30%</text>
<defs><linearGradient id="reds" x1="0" y1="1" x2="0" y2="0"><stop offset="0" stop-color="#fff5f0"/><stop offset="0.125" stop-color="#fee0d2"/><stop offset="0.25" stop-color="#fcbba1"/><stop offset="0.375" stop-color="#fc9272"/><stop offset="0.5" stop-color="#fb6a4a"/><stop offset="0.625" stop-color="#ef3b2c"/><stop offset="0.75" stop-color="#cb181d"/><stop offset="0.875" stop-color="#a50f15"/><stop offset="1" stop-color="#67000d"/></linearGradient></defs>
<rect x="596" y="948.2" width="21.1" height="367.2" fill="url(#reds)" stroke="#444" stroke-width="0.8"/>
<line x1="617.1" y1="1315.4" x2="619.6" y2="1315.4" stroke="#444" stroke-width="0.8"/>
<text x="627.0" y="1317.8" font-size="19" fill="#000" textLength="23.8" lengthAdjust="spacingAndGlyphs">0.0</text>
<line x1="617.1" y1="1242.0" x2="619.6" y2="1242.0" stroke="#444" stroke-width="0.8"/>
<text x="627.0" y="1247.3" font-size="19" fill="#000" textLength="23.8" lengthAdjust="spacingAndGlyphs">0.2</text>
<line x1="617.1" y1="1168.5" x2="619.6" y2="1168.5" stroke="#444" stroke-width="0.8"/>
<text x="627.0" y="1175.2" font-size="19" fill="#000" textLength="23.8" lengthAdjust="spacingAndGlyphs">0.4</text>
<line x1="617.1" y1="1095.1" x2="619.6" y2="1095.1" stroke="#444" stroke-width="0.8"/>
<text x="627.0" y="1101.4" font-size="19" fill="#000" textLength="23.8" lengthAdjust="spacingAndGlyphs">0.6</text>
<line x1="617.1" y1="1021.6" x2="619.6" y2="1021.6" stroke="#444" stroke-width="0.8"/>
<text x="627.0" y="1029.3" font-size="19" fill="#000" textLength="23.8" lengthAdjust="spacingAndGlyphs">0.8</text>
<line x1="617.1" y1="948.2" x2="619.6" y2="948.2" stroke="#444" stroke-width="0.8"/>
<text x="627.0" y="956.4" font-size="19" fill="#000" textLength="23.8" lengthAdjust="spacingAndGlyphs">1.0</text>
<text transform="translate(672.4,1159.5) rotate(-90)" font-size="19.5" textLength="73" lengthAdjust="spacingAndGlyphs">Attention</text>
<circle cx="109.0" cy="964.2" r="6" fill="#f7a393"/>
<circle cx="89.4" cy="998.4" r="10" fill="#b35a66"/>
<line x1="110.1" y1="982.6" x2="109.7" y2="975.3" stroke="#2020ff" stroke-width="0.9"/><line x1="109.7" y1="975.3" x2="109.2" y2="968.0" stroke="#ff1010" stroke-width="0.9"/>
<line x1="106.3" y1="987.1" x2="99.2" y2="991.2" stroke="#2020ff" stroke-width="0.9"/><line x1="99.2" y1="991.2" x2="92.0" y2="995.3" stroke="#ff1010" stroke-width="0.9"/>
<line x1="107.7" y1="989.5" x2="100.5" y2="993.6" stroke="#2020ff" stroke-width="0.9"/><line x1="100.5" y1="993.6" x2="93.4" y2="997.7" stroke="#ff1010" stroke-width="0.9"/>
<line x1="113.7" y1="988.1" x2="122.5" y2="992.3" stroke="#2020ff" stroke-width="0.9"/><line x1="122.5" y1="992.3" x2="131.2" y2="996.5" stroke="#222" stroke-width="0.9"/>
<line x1="131.2" y1="996.5" x2="153.0" y2="986.0" stroke="#222" stroke-width="0.9"/>
<line x1="136.3" y1="997.0" x2="150.2" y2="990.2" stroke="#222" stroke-width="0.9"/>
<line x1="153.0" y1="986.0" x2="159.7" y2="993.0" stroke="#222" stroke-width="0.9"/><line x1="159.7" y1="993.0" x2="166.4" y2="1000.0" stroke="#2020ff" stroke-width="0.9"/>
<line x1="167.1" y1="1006.1" x2="162.4" y2="1014.0" stroke="#2020ff" stroke-width="0.9"/><line x1="162.4" y1="1014.0" x2="157.7" y2="1022.0" stroke="#222" stroke-width="0.9"/>
<line x1="169.3" y1="1007.4" x2="165.6" y2="1013.6" stroke="#2020ff" stroke-width="0.9"/><line x1="165.6" y1="1013.6" x2="162.0" y2="1019.9" stroke="#222" stroke-width="0.9"/>
<line x1="157.7" y1="1022.0" x2="147.9" y2="1020.9" stroke="#222" stroke-width="0.9"/><line x1="147.9" y1="1020.9" x2="138.2" y2="1019.7" stroke="#2020ff" stroke-width="0.9"/>
<line x1="133.9" y1="1015.5" x2="132.5" y2="1006.0" stroke="#2020ff" stroke-width="0.9"/><line x1="132.5" y1="1006.0" x2="131.2" y2="996.5" stroke="#222" stroke-width="0.9"/>
<line x1="157.7" y1="1022.0" x2="169.0" y2="1043.0" stroke="#222" stroke-width="0.9"/>
<line x1="131.5" y1="1021.8" x2="124.7" y2="1027.6" stroke="#2020ff" stroke-width="0.9"/><line x1="124.7" y1="1027.6" x2="117.9" y2="1033.5" stroke="#222" stroke-width="0.9"/>
<line x1="117.9" y1="1033.5" x2="94.2" y2="1028.7" stroke="#222" stroke-width="0.9"/>
<line x1="94.2" y1="1028.7" x2="87.3" y2="1035.1" stroke="#222" stroke-width="0.9"/><line x1="87.3" y1="1035.1" x2="80.3" y2="1041.4" stroke="#ff1010" stroke-width="0.9"/>
<text x="110.5" y="967.3" font-size="9" fill="#ff1010" text-anchor="middle">O<tspan font-size="6" dy="-3.5">-</tspan></text>
<text x="112.1" y="989.5" font-size="9" fill="#2020ff" text-anchor="middle">N<tspan font-size="6" dy="-3.5">+</tspan></text>
<text x="89.4" y="1001.5" font-size="9" fill="#ff1010" text-anchor="middle">O</text>
<text x="169.0" y="1005.9" font-size="9" fill="#2020ff" text-anchor="middle">N</text>
<text x="134.4" y="1022.4" font-size="9" fill="#2020ff" text-anchor="middle">N</text>
<text x="74.0" y="1047.1" font-size="9" fill="#ff1010" text-anchor="middle">HO</text>
<circle cx="76.0" cy="1103.0" r="7" fill="#ea7272"/>
<circle cx="87.7" cy="1098.8" r="7.5" fill="#e35d5d"/>
<circle cx="96.9" cy="1108.4" r="4" fill="#fcd8c8"/>
<line x1="68.3" y1="1094.3" x2="70.9" y2="1097.2" stroke="#222" stroke-width="0.9"/><line x1="70.9" y1="1097.2" x2="73.5" y2="1100.2" stroke="#2020ff" stroke-width="0.9"/>
<line x1="79.6" y1="1101.7" x2="84.1" y2="1100.1" stroke="#2020ff" stroke-width="0.9"/>
<line x1="90.3" y1="1101.5" x2="93.6" y2="1105.0" stroke="#2020ff" stroke-width="0.9"/><line x1="93.6" y1="1105.0" x2="96.9" y2="1108.4" stroke="#222" stroke-width="0.9"/>
<line x1="96.9" y1="1108.4" x2="109.2" y2="1105.4" stroke="#222" stroke-width="0.9"/>
<line x1="109.2" y1="1105.4" x2="112.6" y2="1094.0" stroke="#222" stroke-width="0.9"/>
<line x1="112.6" y1="1094.0" x2="124.1" y2="1091.3" stroke="#222" stroke-width="0.9"/>
<line x1="115.3" y1="1096.1" x2="122.7" y2="1094.3" stroke="#222" stroke-width="0.9"/>
<line x1="124.1" y1="1091.3" x2="132.3" y2="1099.9" stroke="#222" stroke-width="0.9"/>
<line x1="132.3" y1="1099.9" x2="128.9" y2="1111.3" stroke="#222" stroke-width="0.9"/>
<line x1="129.2" y1="1101.2" x2="127.0" y2="1108.5" stroke="#222" stroke-width="0.9"/>
<line x1="128.9" y1="1111.3" x2="117.4" y2="1114.0" stroke="#222" stroke-width="0.9"/>
<line x1="117.4" y1="1114.0" x2="109.2" y2="1105.4" stroke="#222" stroke-width="0.9"/>
<line x1="117.8" y1="1110.7" x2="112.6" y2="1105.2" stroke="#222" stroke-width="0.9"/>
<line x1="132.3" y1="1099.9" x2="143.9" y2="1097.8" stroke="#222" stroke-width="0.9"/>
<line x1="145.3" y1="1098.1" x2="146.2" y2="1094.4" stroke="#222" stroke-width="0.9"/><line x1="146.2" y1="1094.4" x2="147.1" y2="1090.6" stroke="#ff1010" stroke-width="0.9"/>
<line x1="142.5" y1="1097.5" x2="143.4" y2="1093.7" stroke="#222" stroke-width="0.9"/><line x1="143.4" y1="1093.7" x2="144.3" y2="1090.0" stroke="#ff1010" stroke-width="0.9"/>
<line x1="143.9" y1="1097.8" x2="146.4" y2="1101.3" stroke="#222" stroke-width="0.9"/><line x1="146.4" y1="1101.3" x2="148.8" y2="1104.9" stroke="#2020ff" stroke-width="0.9"/>
<line x1="154.5" y1="1106.4" x2="158.4" y2="1104.7" stroke="#2020ff" stroke-width="0.9"/><line x1="158.4" y1="1104.7" x2="162.3" y2="1102.9" stroke="#222" stroke-width="0.9"/>
<line x1="162.3" y1="1102.9" x2="166.4" y2="1091.7" stroke="#222" stroke-width="0.9"/>
<line x1="162.3" y1="1102.9" x2="171.5" y2="1111.1" stroke="#222" stroke-width="0.9"/>
<text x="76.0" y="1104.8" font-size="5.5" fill="#2020ff" text-anchor="middle">N<tspan x="76.0" dy="4">H</tspan></text>
<text x="87.7" y="1098.1" font-size="5.5" fill="#2020ff" text-anchor="middle">H<tspan x="87.7" dy="4">N</tspan></text>
<text x="151.0" y="1109.8" font-size="5.5" fill="#2020ff" text-anchor="middle">N<tspan x="151.0" dy="4">H</tspan></text>
<text x="146.6" y="1089.1" font-size="5.5" fill="#ff1010" text-anchor="middle">O</text>
<circle cx="241.8" cy="964.2" r="9" fill="#b8566a"/>
<circle cx="222.2" cy="998.4" r="7" fill="#f27e78"/>
<line x1="242.9" y1="982.6" x2="242.5" y2="975.3" stroke="#2020ff" stroke-width="0.9"/><line x1="242.5" y1="975.3" x2="242.0" y2="968.0" stroke="#ff1010" stroke-width="0.9"/>
<line x1="239.1" y1="987.1" x2="232.0" y2="991.2" stroke="#2020ff" stroke-width="0.9"/><line x1="232.0" y1="991.2" x2="224.8" y2="995.3" stroke="#ff1010" stroke-width="0.9"/>
<line x1="240.5" y1="989.5" x2="233.3" y2="993.6" stroke="#2020ff" stroke-width="0.9"/><line x1="233.3" y1="993.6" x2="226.2" y2="997.7" stroke="#ff1010" stroke-width="0.9"/>
<line x1="246.5" y1="988.1" x2="255.3" y2="992.3" stroke="#2020ff" stroke-width="0.9"/><line x1="255.3" y1="992.3" x2="264.0" y2="996.5" stroke="#222" stroke-width="0.9"/>
<line x1="264.0" y1="996.5" x2="285.8" y2="986.0" stroke="#222" stroke-width="0.9"/>
<line x1="269.1" y1="997.0" x2="283.0" y2="990.2" stroke="#222" stroke-width="0.9"/>
<line x1="285.8" y1="986.0" x2="292.5" y2="993.0" stroke="#222" stroke-width="0.9"/><line x1="292.5" y1="993.0" x2="299.2" y2="1000.0" stroke="#2020ff" stroke-width="0.9"/>
<line x1="299.9" y1="1006.1" x2="295.2" y2="1014.0" stroke="#2020ff" stroke-width="0.9"/><line x1="295.2" y1="1014.0" x2="290.5" y2="1022.0" stroke="#222" stroke-width="0.9"/>
<line x1="302.1" y1="1007.4" x2="298.4" y2="1013.6" stroke="#2020ff" stroke-width="0.9"/><line x1="298.4" y1="1013.6" x2="294.8" y2="1019.9" stroke="#222" stroke-width="0.9"/>
<line x1="290.5" y1="1022.0" x2="280.7" y2="1020.9" stroke="#222" stroke-width="0.9"/><line x1="280.7" y1="1020.9" x2="271.0" y2="1019.7" stroke="#2020ff" stroke-width="0.9"/>
<line x1="266.7" y1="1015.5" x2="265.3" y2="1006.0" stroke="#2020ff" stroke-width="0.9"/><line x1="265.3" y1="1006.0" x2="264.0" y2="996.5" stroke="#222" stroke-width="0.9"/>
<line x1="290.5" y1="1022.0" x2="301.8" y2="1043.0" stroke="#222" stroke-width="0.9"/>
<line x1="264.3" y1="1021.8" x2="257.5" y2="1027.6" stroke="#2020ff" stroke-width="0.9"/><line x1="257.5" y1="1027.6" x2="250.7" y2="1033.5" stroke="#222" stroke-width="0.9"/>
<line x1="250.7" y1="1033.5" x2="227.0" y2="1028.7" stroke="#222" stroke-width="0.9"/>
<line x1="227.0" y1="1028.7" x2="220.1" y2="1035.1" stroke="#222" stroke-width="0.9"/><line x1="220.1" y1="1035.1" x2="213.1" y2="1041.4" stroke="#ff1010" stroke-width="0.9"/>
<text x="243.3" y="967.3" font-size="9" fill="#ff1010" text-anchor="middle">O<tspan font-size="6" dy="-3.5">-</tspan></text>
<text x="244.9" y="989.5" font-size="9" fill="#2020ff" text-anchor="middle">N<tspan font-size="6" dy="-3.5">+</tspan></text>
<text x="222.2" y="1001.5" font-size="9" fill="#ff1010" text-anchor="middle">O</text>
<text x="301.8" y="1005.9" font-size="9" fill="#2020ff" text-anchor="middle">N</text>
<text x="267.2" y="1022.4" font-size="9" fill="#2020ff" text-anchor="middle">N</text>
<text x="206.8" y="1047.1" font-size="9" fill="#ff1010" text-anchor="middle">HO</text>
<circle cx="208.8" cy="1103.0" r="8" fill="#db5c62"/>
<circle cx="220.5" cy="1098.8" r="7.5" fill="#ea7373"/>
<line x1="201.1" y1="1094.3" x2="203.7" y2="1097.2" stroke="#222" stroke-width="0.9"/><line x1="203.7" y1="1097.2" x2="206.3" y2="1100.2" stroke="#2020ff" stroke-width="0.9"/>
<line x1="212.4" y1="1101.7" x2="216.9" y2="1100.1" stroke="#2020ff" stroke-width="0.9"/>
<line x1="223.1" y1="1101.5" x2="226.4" y2="1105.0" stroke="#2020ff" stroke-width="0.9"/><line x1="226.4" y1="1105.0" x2="229.7" y2="1108.4" stroke="#222" stroke-width="0.9"/>
<line x1="229.7" y1="1108.4" x2="242.0" y2="1105.4" stroke="#222" stroke-width="0.9"/>
<line x1="242.0" y1="1105.4" x2="245.4" y2="1094.0" stroke="#222" stroke-width="0.9"/>
<line x1="245.4" y1="1094.0" x2="256.9" y2="1091.3" stroke="#222" stroke-width="0.9"/>
<line x1="248.1" y1="1096.1" x2="255.5" y2="1094.3" stroke="#222" stroke-width="0.9"/>
<line x1="256.9" y1="1091.3" x2="265.1" y2="1099.9" stroke="#222" stroke-width="0.9"/>
<line x1="265.1" y1="1099.9" x2="261.7" y2="1111.3" stroke="#222" stroke-width="0.9"/>
<line x1="262.0" y1="1101.2" x2="259.8" y2="1108.5" stroke="#222" stroke-width="0.9"/>
<line x1="261.7" y1="1111.3" x2="250.2" y2="1114.0" stroke="#222" stroke-width="0.9"/>
<line x1="250.2" y1="1114.0" x2="242.0" y2="1105.4" stroke="#222" stroke-width="0.9"/>
<line x1="250.6" y1="1110.7" x2="245.4" y2="1105.2" stroke="#222" stroke-width="0.9"/>
<line x1="265.1" y1="1099.9" x2="276.7" y2="1097.8" stroke="#222" stroke-width="0.9"/>
<line x1="278.1" y1="1098.1" x2="279.0" y2="1094.4" stroke="#222" stroke-width="0.9"/><line x1="279.0" y1="1094.4" x2="279.9" y2="1090.6" stroke="#ff1010" stroke-width="0.9"/>
<line x1="275.3" y1="1097.5" x2="276.2" y2="1093.7" stroke="#222" stroke-width="0.9"/><line x1="276.2" y1="1093.7" x2="277.1" y2="1090.0" stroke="#ff1010" stroke-width="0.9"/>
<line x1="276.7" y1="1097.8" x2="279.2" y2="1101.3" stroke="#222" stroke-width="0.9"/><line x1="279.2" y1="1101.3" x2="281.6" y2="1104.9" stroke="#2020ff" stroke-width="0.9"/>
<line x1="287.3" y1="1106.4" x2="291.2" y2="1104.7" stroke="#2020ff" stroke-width="0.9"/><line x1="291.2" y1="1104.7" x2="295.1" y2="1102.9" stroke="#222" stroke-width="0.9"/>
<line x1="295.1" y1="1102.9" x2="299.2" y2="1091.7" stroke="#222" stroke-width="0.9"/>
<line x1="295.1" y1="1102.9" x2="304.3" y2="1111.1" stroke="#222" stroke-width="0.9"/>
<text x="208.8" y="1104.8" font-size="5.5" fill="#2020ff" text-anchor="middle">N<tspan x="208.8" dy="4">H</tspan></text>
<text x="220.5" y="1098.1" font-size="5.5" fill="#2020ff" text-anchor="middle">H<tspan x="220.5" dy="4">N</tspan></text>
<text x="283.8" y="1109.8" font-size="5.5" fill="#2020ff" text-anchor="middle">N<tspan x="283.8" dy="4">H</tspan></text>
<text x="279.4" y="1089.1" font-size="5.5" fill="#ff1010" text-anchor="middle">O</text>
<circle cx="431.5" cy="1002.8" r="7.5" fill="#c95c6c"/>
<circle cx="396.9" cy="1019.3" r="6" fill="#f6a696"/>
<circle cx="340.0" cy="1044.0" r="4.8" fill="#f9c6b6"/>
<line x1="372.6" y1="982.6" x2="372.1" y2="975.3" stroke="#2020ff" stroke-width="0.9"/><line x1="372.1" y1="975.3" x2="371.7" y2="968.0" stroke="#ff1010" stroke-width="0.9"/>
<line x1="368.8" y1="987.1" x2="361.7" y2="991.2" stroke="#2020ff" stroke-width="0.9"/><line x1="361.7" y1="991.2" x2="354.5" y2="995.3" stroke="#ff1010" stroke-width="0.9"/>
<line x1="370.2" y1="989.5" x2="363.0" y2="993.6" stroke="#2020ff" stroke-width="0.9"/><line x1="363.0" y1="993.6" x2="355.9" y2="997.7" stroke="#ff1010" stroke-width="0.9"/>
<line x1="376.2" y1="988.1" x2="385.0" y2="992.3" stroke="#2020ff" stroke-width="0.9"/><line x1="385.0" y1="992.3" x2="393.7" y2="996.5" stroke="#222" stroke-width="0.9"/>
<line x1="393.7" y1="996.5" x2="415.5" y2="986.0" stroke="#222" stroke-width="0.9"/>
<line x1="398.8" y1="997.0" x2="412.7" y2="990.2" stroke="#222" stroke-width="0.9"/>
<line x1="415.5" y1="986.0" x2="422.2" y2="993.0" stroke="#222" stroke-width="0.9"/><line x1="422.2" y1="993.0" x2="428.9" y2="1000.0" stroke="#2020ff" stroke-width="0.9"/>
<line x1="429.6" y1="1006.1" x2="424.9" y2="1014.0" stroke="#2020ff" stroke-width="0.9"/><line x1="424.9" y1="1014.0" x2="420.2" y2="1022.0" stroke="#222" stroke-width="0.9"/>
<line x1="431.8" y1="1007.4" x2="428.1" y2="1013.6" stroke="#2020ff" stroke-width="0.9"/><line x1="428.1" y1="1013.6" x2="424.5" y2="1019.9" stroke="#222" stroke-width="0.9"/>
<line x1="420.2" y1="1022.0" x2="410.4" y2="1020.9" stroke="#222" stroke-width="0.9"/><line x1="410.4" y1="1020.9" x2="400.7" y2="1019.7" stroke="#2020ff" stroke-width="0.9"/>
<line x1="396.4" y1="1015.5" x2="395.0" y2="1006.0" stroke="#2020ff" stroke-width="0.9"/><line x1="395.0" y1="1006.0" x2="393.7" y2="996.5" stroke="#222" stroke-width="0.9"/>
<line x1="420.2" y1="1022.0" x2="431.5" y2="1043.0" stroke="#222" stroke-width="0.9"/>
<line x1="394.0" y1="1021.8" x2="387.2" y2="1027.6" stroke="#2020ff" stroke-width="0.9"/><line x1="387.2" y1="1027.6" x2="380.4" y2="1033.5" stroke="#222" stroke-width="0.9"/>
<line x1="380.4" y1="1033.5" x2="356.7" y2="1028.7" stroke="#222" stroke-width="0.9"/>
<line x1="356.7" y1="1028.7" x2="349.8" y2="1035.1" stroke="#222" stroke-width="0.9"/><line x1="349.8" y1="1035.1" x2="342.8" y2="1041.4" stroke="#ff1010" stroke-width="0.9"/>
<text x="373.0" y="967.3" font-size="9" fill="#ff1010" text-anchor="middle">O<tspan font-size="6" dy="-3.5">-</tspan></text>
<text x="374.6" y="989.5" font-size="9" fill="#2020ff" text-anchor="middle">N<tspan font-size="6" dy="-3.5">+</tspan></text>
<text x="351.9" y="1001.5" font-size="9" fill="#ff1010" text-anchor="middle">O</text>
<text x="431.5" y="1005.9" font-size="9" fill="#2020ff" text-anchor="middle">N</text>
<text x="396.9" y="1022.4" font-size="9" fill="#2020ff" text-anchor="middle">N</text>
<text x="336.5" y="1047.1" font-size="9" fill="#ff1010" text-anchor="middle">HO</text>
<circle cx="338.5" cy="1103.0" r="8" fill="#cb5362"/>
<circle cx="350.2" cy="1098.8" r="7" fill="#ea7b7b"/>
<line x1="330.8" y1="1094.3" x2="333.4" y2="1097.2" stroke="#222" stroke-width="0.9"/><line x1="333.4" y1="1097.2" x2="336.0" y2="1100.2" stroke="#2020ff" stroke-width="0.9"/>
<line x1="342.1" y1="1101.7" x2="346.6" y2="1100.1" stroke="#2020ff" stroke-width="0.9"/>
<line x1="352.8" y1="1101.5" x2="356.1" y2="1105.0" stroke="#2020ff" stroke-width="0.9"/><line x1="356.1" y1="1105.0" x2="359.4" y2="1108.4" stroke="#222" stroke-width="0.9"/>
<line x1="359.4" y1="1108.4" x2="371.7" y2="1105.4" stroke="#222" stroke-width="0.9"/>
<line x1="371.7" y1="1105.4" x2="375.1" y2="1094.0" stroke="#222" stroke-width="0.9"/>
<line x1="375.1" y1="1094.0" x2="386.6" y2="1091.3" stroke="#222" stroke-width="0.9"/>
<line x1="377.8" y1="1096.1" x2="385.2" y2="1094.3" stroke="#222" stroke-width="0.9"/>
<line x1="386.6" y1="1091.3" x2="394.8" y2="1099.9" stroke="#222" stroke-width="0.9"/>
<line x1="394.8" y1="1099.9" x2="391.4" y2="1111.3" stroke="#222" stroke-width="0.9"/>
<line x1="391.7" y1="1101.2" x2="389.5" y2="1108.5" stroke="#222" stroke-width="0.9"/>
<line x1="391.4" y1="1111.3" x2="379.9" y2="1114.0" stroke="#222" stroke-width="0.9"/>
<line x1="379.9" y1="1114.0" x2="371.7" y2="1105.4" stroke="#222" stroke-width="0.9"/>
<line x1="380.3" y1="1110.7" x2="375.1" y2="1105.2" stroke="#222" stroke-width="0.9"/>
<line x1="394.8" y1="1099.9" x2="406.4" y2="1097.8" stroke="#222" stroke-width="0.9"/>
<line x1="407.8" y1="1098.1" x2="408.7" y2="1094.4" stroke="#222" stroke-width="0.9"/><line x1="408.7" y1="1094.4" x2="409.6" y2="1090.6" stroke="#ff1010" stroke-width="0.9"/>
<line x1="405.0" y1="1097.5" x2="405.9" y2="1093.7" stroke="#222" stroke-width="0.9"/><line x1="405.9" y1="1093.7" x2="406.8" y2="1090.0" stroke="#ff1010" stroke-width="0.9"/>
<line x1="406.4" y1="1097.8" x2="408.9" y2="1101.3" stroke="#222" stroke-width="0.9"/><line x1="408.9" y1="1101.3" x2="411.3" y2="1104.9" stroke="#2020ff" stroke-width="0.9"/>
<line x1="417.0" y1="1106.4" x2="420.9" y2="1104.7" stroke="#2020ff" stroke-width="0.9"/><line x1="420.9" y1="1104.7" x2="424.8" y2="1102.9" stroke="#222" stroke-width="0.9"/>
<line x1="424.8" y1="1102.9" x2="428.9" y2="1091.7" stroke="#222" stroke-width="0.9"/>
<line x1="424.8" y1="1102.9" x2="434.0" y2="1111.1" stroke="#222" stroke-width="0.9"/>
<text x="338.5" y="1104.8" font-size="5.5" fill="#2020ff" text-anchor="middle">N<tspan x="338.5" dy="4">H</tspan></text>
<text x="350.2" y="1098.1" font-size="5.5" fill="#2020ff" text-anchor="middle">H<tspan x="350.2" dy="4">N</tspan></text>
<text x="413.5" y="1109.8" font-size="5.5" fill="#2020ff" text-anchor="middle">N<tspan x="413.5" dy="4">H</tspan></text>
<text x="409.1" y="1089.1" font-size="5.5" fill="#ff1010" text-anchor="middle">O</text>
<circle cx="563.5" cy="1002.8" r="5.5" fill="#f7bbab"/>
<circle cx="528.9" cy="1019.3" r="6.5" fill="#f2938b"/>
<circle cx="472.0" cy="1044.0" r="8" fill="#e96c6c"/>
<line x1="504.6" y1="982.6" x2="504.1" y2="975.3" stroke="#2020ff" stroke-width="0.9"/><line x1="504.1" y1="975.3" x2="503.7" y2="968.0" stroke="#ff1010" stroke-width="0.9"/>
<line x1="500.8" y1="987.1" x2="493.7" y2="991.2" stroke="#2020ff" stroke-width="0.9"/><line x1="493.7" y1="991.2" x2="486.5" y2="995.3" stroke="#ff1010" stroke-width="0.9"/>
<line x1="502.2" y1="989.5" x2="495.0" y2="993.6" stroke="#2020ff" stroke-width="0.9"/><line x1="495.0" y1="993.6" x2="487.9" y2="997.7" stroke="#ff1010" stroke-width="0.9"/>
<line x1="508.2" y1="988.1" x2="517.0" y2="992.3" stroke="#2020ff" stroke-width="0.9"/><line x1="517.0" y1="992.3" x2="525.7" y2="996.5" stroke="#222" stroke-width="0.9"/>
<line x1="525.7" y1="996.5" x2="547.5" y2="986.0" stroke="#222" stroke-width="0.9"/>
<line x1="530.8" y1="997.0" x2="544.7" y2="990.2" stroke="#222" stroke-width="0.9"/>
<line x1="547.5" y1="986.0" x2="554.2" y2="993.0" stroke="#222" stroke-width="0.9"/><line x1="554.2" y1="993.0" x2="560.9" y2="1000.0" stroke="#2020ff" stroke-width="0.9"/>
<line x1="561.6" y1="1006.1" x2="556.9" y2="1014.0" stroke="#2020ff" stroke-width="0.9"/><line x1="556.9" y1="1014.0" x2="552.2" y2="1022.0" stroke="#222" stroke-width="0.9"/>
<line x1="563.8" y1="1007.4" x2="560.1" y2="1013.6" stroke="#2020ff" stroke-width="0.9"/><line x1="560.1" y1="1013.6" x2="556.5" y2="1019.9" stroke="#222" stroke-width="0.9"/>
<line x1="552.2" y1="1022.0" x2="542.4" y2="1020.9" stroke="#222" stroke-width="0.9"/><line x1="542.4" y1="1020.9" x2="532.7" y2="1019.7" stroke="#2020ff" stroke-width="0.9"/>
<line x1="528.4" y1="1015.5" x2="527.0" y2="1006.0" stroke="#2020ff" stroke-width="0.9"/><line x1="527.0" y1="1006.0" x2="525.7" y2="996.5" stroke="#222" stroke-width="0.9"/>
<line x1="552.2" y1="1022.0" x2="563.5" y2="1043.0" stroke="#222" stroke-width="0.9"/>
<line x1="526.0" y1="1021.8" x2="519.2" y2="1027.6" stroke="#2020ff" stroke-width="0.9"/><line x1="519.2" y1="1027.6" x2="512.4" y2="1033.5" stroke="#222" stroke-width="0.9"/>
<line x1="512.4" y1="1033.5" x2="488.7" y2="1028.7" stroke="#222" stroke-width="0.9"/>
<line x1="488.7" y1="1028.7" x2="481.8" y2="1035.1" stroke="#222" stroke-width="0.9"/><line x1="481.8" y1="1035.1" x2="474.8" y2="1041.4" stroke="#ff1010" stroke-width="0.9"/>
<text x="505.0" y="967.3" font-size="9" fill="#ff1010" text-anchor="middle">O<tspan font-size="6" dy="-3.5">-</tspan></text>
<text x="506.6" y="989.5" font-size="9" fill="#2020ff" text-anchor="middle">N<tspan font-size="6" dy="-3.5">+</tspan></text>
<text x="483.9" y="1001.5" font-size="9" fill="#ff1010" text-anchor="middle">O</text>
<text x="563.5" y="1005.9" font-size="9" fill="#2020ff" text-anchor="middle">N</text>
<text x="528.9" y="1022.4" font-size="9" fill="#2020ff" text-anchor="middle">N</text>
<text x="468.5" y="1047.1" font-size="9" fill="#ff1010" text-anchor="middle">HO</text>
<circle cx="470.5" cy="1103.0" r="7.5" fill="#ea6c6c"/>
<circle cx="482.2" cy="1098.8" r="7.5" fill="#ee7c7a"/>
<circle cx="545.5" cy="1108.0" r="4.5" fill="#fcd3c3"/>
<line x1="462.8" y1="1094.3" x2="465.4" y2="1097.2" stroke="#222" stroke-width="0.9"/><line x1="465.4" y1="1097.2" x2="468.0" y2="1100.2" stroke="#2020ff" stroke-width="0.9"/>
<line x1="474.1" y1="1101.7" x2="478.6" y2="1100.1" stroke="#2020ff" stroke-width="0.9"/>
<line x1="484.8" y1="1101.5" x2="488.1" y2="1105.0" stroke="#2020ff" stroke-width="0.9"/><line x1="488.1" y1="1105.0" x2="491.4" y2="1108.4" stroke="#222" stroke-width="0.9"/>
<line x1="491.4" y1="1108.4" x2="503.7" y2="1105.4" stroke="#222" stroke-width="0.9"/>
<line x1="503.7" y1="1105.4" x2="507.1" y2="1094.0" stroke="#222" stroke-width="0.9"/>
<line x1="507.1" y1="1094.0" x2="518.6" y2="1091.3" stroke="#222" stroke-width="0.9"/>
<line x1="509.8" y1="1096.1" x2="517.2" y2="1094.3" stroke="#222" stroke-width="0.9"/>
<line x1="518.6" y1="1091.3" x2="526.8" y2="1099.9" stroke="#222" stroke-width="0.9"/>
<line x1="526.8" y1="1099.9" x2="523.4" y2="1111.3" stroke="#222" stroke-width="0.9"/>
<line x1="523.7" y1="1101.2" x2="521.5" y2="1108.5" stroke="#222" stroke-width="0.9"/>
<line x1="523.4" y1="1111.3" x2="511.9" y2="1114.0" stroke="#222" stroke-width="0.9"/>
<line x1="511.9" y1="1114.0" x2="503.7" y2="1105.4" stroke="#222" stroke-width="0.9"/>
<line x1="512.3" y1="1110.7" x2="507.1" y2="1105.2" stroke="#222" stroke-width="0.9"/>
<line x1="526.8" y1="1099.9" x2="538.4" y2="1097.8" stroke="#222" stroke-width="0.9"/>
<line x1="539.8" y1="1098.1" x2="540.7" y2="1094.4" stroke="#222" stroke-width="0.9"/><line x1="540.7" y1="1094.4" x2="541.6" y2="1090.6" stroke="#ff1010" stroke-width="0.9"/>
<line x1="537.0" y1="1097.5" x2="537.9" y2="1093.7" stroke="#222" stroke-width="0.9"/><line x1="537.9" y1="1093.7" x2="538.8" y2="1090.0" stroke="#ff1010" stroke-width="0.9"/>
<line x1="538.4" y1="1097.8" x2="540.9" y2="1101.3" stroke="#222" stroke-width="0.9"/><line x1="540.9" y1="1101.3" x2="543.3" y2="1104.9" stroke="#2020ff" stroke-width="0.9"/>
<line x1="549.0" y1="1106.4" x2="552.9" y2="1104.7" stroke="#2020ff" stroke-width="0.9"/><line x1="552.9" y1="1104.7" x2="556.8" y2="1102.9" stroke="#222" stroke-width="0.9"/>
<line x1="556.8" y1="1102.9" x2="560.9" y2="1091.7" stroke="#222" stroke-width="0.9"/>
<line x1="556.8" y1="1102.9" x2="566.0" y2="1111.1" stroke="#222" stroke-width="0.9"/>
<text x="470.5" y="1104.8" font-size="5.5" fill="#2020ff" text-anchor="middle">N<tspan x="470.5" dy="4">H</tspan></text>
<text x="482.2" y="1098.1" font-size="5.5" fill="#2020ff" text-anchor="middle">H<tspan x="482.2" dy="4">N</tspan></text>
<text x="545.5" y="1109.8" font-size="5.5" fill="#2020ff" text-anchor="middle">N<tspan x="545.5" dy="4">H</tspan></text>
<text x="541.1" y="1089.1" font-size="5.5" fill="#ff1010" text-anchor="middle">O</text>
<circle cx="117.8" cy="1192.9" r="4" fill="#fcd3c1"/>
<circle cx="163.8" cy="1196.3" r="11.7" fill="#a0475a"/>
<line x1="71.4" y1="1213.0" x2="84.1" y2="1209.5" stroke="#222" stroke-width="0.9"/>
<line x1="84.1" y1="1197.2" x2="95.3" y2="1190.0" stroke="#222" stroke-width="0.9"/>
<line x1="87.5" y1="1198.1" x2="94.7" y2="1193.5" stroke="#222" stroke-width="0.9"/>
<line x1="95.3" y1="1190.0" x2="106.5" y2="1197.2" stroke="#222" stroke-width="0.9"/>
<line x1="106.5" y1="1197.2" x2="106.5" y2="1210.5" stroke="#222" stroke-width="0.9"/>
<line x1="109.1" y1="1199.6" x2="109.1" y2="1208.1" stroke="#222" stroke-width="0.9"/>
<line x1="106.5" y1="1210.5" x2="95.3" y2="1216.6" stroke="#222" stroke-width="0.9"/>
<line x1="95.3" y1="1216.6" x2="84.1" y2="1209.5" stroke="#222" stroke-width="0.9"/>
<line x1="91.9" y1="1217.5" x2="84.7" y2="1213.0" stroke="#222" stroke-width="0.9"/>
<line x1="84.1" y1="1209.5" x2="84.1" y2="1197.2" stroke="#222" stroke-width="0.9"/>
<line x1="106.5" y1="1197.2" x2="117.8" y2="1192.9" stroke="#222" stroke-width="0.9"/>
<line x1="119.2" y1="1193.0" x2="119.5" y2="1188.6" stroke="#222" stroke-width="0.9"/><line x1="119.5" y1="1188.6" x2="119.8" y2="1184.3" stroke="#ff1010" stroke-width="0.9"/>
<line x1="116.4" y1="1192.8" x2="116.7" y2="1188.5" stroke="#222" stroke-width="0.9"/><line x1="116.7" y1="1188.5" x2="117.0" y2="1184.1" stroke="#ff1010" stroke-width="0.9"/>
<line x1="117.8" y1="1192.9" x2="128.0" y2="1199.3" stroke="#222" stroke-width="0.9"/>
<line x1="128.0" y1="1199.3" x2="140.3" y2="1194.2" stroke="#222" stroke-width="0.9"/>
<line x1="140.3" y1="1194.2" x2="150.5" y2="1201.3" stroke="#222" stroke-width="0.9"/>
<line x1="140.7" y1="1197.6" x2="147.2" y2="1202.2" stroke="#222" stroke-width="0.9"/>
<line x1="150.5" y1="1201.3" x2="150.5" y2="1213.6" stroke="#222" stroke-width="0.9"/>
<line x1="150.5" y1="1213.6" x2="139.2" y2="1218.7" stroke="#222" stroke-width="0.9"/>
<line x1="147.4" y1="1212.1" x2="140.2" y2="1215.4" stroke="#222" stroke-width="0.9"/>
<line x1="139.2" y1="1218.7" x2="128.0" y2="1212.6" stroke="#222" stroke-width="0.9"/>
<line x1="128.0" y1="1212.6" x2="128.0" y2="1199.3" stroke="#222" stroke-width="0.9"/>
<line x1="130.6" y1="1210.2" x2="130.6" y2="1201.7" stroke="#222" stroke-width="0.9"/>
<line x1="150.5" y1="1201.3" x2="155.4" y2="1199.5" stroke="#222" stroke-width="0.9"/><line x1="155.4" y1="1199.5" x2="160.2" y2="1197.6" stroke="#2020ff" stroke-width="0.9"/>
<line x1="164.0" y1="1192.5" x2="164.2" y2="1190.2" stroke="#2020ff" stroke-width="0.9"/><line x1="164.2" y1="1190.2" x2="164.4" y2="1187.8" stroke="#ff1010" stroke-width="0.9"/>
<line x1="165.9" y1="1199.8" x2="167.5" y2="1201.0" stroke="#2020ff" stroke-width="0.9"/><line x1="167.5" y1="1201.0" x2="169.2" y2="1202.3" stroke="#ff1010" stroke-width="0.9"/>
<line x1="167.6" y1="1197.6" x2="169.3" y2="1198.9" stroke="#2020ff" stroke-width="0.9"/><line x1="169.3" y1="1198.9" x2="170.9" y2="1200.1" stroke="#ff1010" stroke-width="0.9"/>
<line x1="150.5" y1="1213.6" x2="154.5" y2="1216.5" stroke="#222" stroke-width="0.9"/><line x1="154.5" y1="1216.5" x2="158.6" y2="1219.3" stroke="#ff1010" stroke-width="0.9"/>
<line x1="139.2" y1="1218.7" x2="139.0" y2="1223.0" stroke="#222" stroke-width="0.9"/><line x1="139.0" y1="1223.0" x2="138.8" y2="1227.2" stroke="#ff1010" stroke-width="0.9"/>
<text x="118.6" y="1183.2" font-size="6" fill="#ff1010" text-anchor="middle">O</text>
<text x="164.3" y="1199.1" font-size="6" fill="#2020ff" text-anchor="middle">N<tspan font-size="4" dy="-2.5">+</tspan></text>
<text x="165.1" y="1186.8" font-size="6" fill="#ff1010" text-anchor="middle">O<tspan font-size="4" dy="-2.5">-</tspan></text>
<text x="173.0" y="1206.4" font-size="6" fill="#ff1010" text-anchor="middle">O</text>
<text x="164.7" y="1224.3" font-size="6" fill="#ff1010" text-anchor="middle">OH</text>
<text x="138.6" y="1234.8" font-size="6" fill="#ff1010" text-anchor="middle">OH</text>
<circle cx="112.2" cy="1268.8" r="4.5" fill="#fcc8b2"/>
<circle cx="123.5" cy="1291.0" r="7" fill="#f28472"/>
<circle cx="136.7" cy="1284.8" r="7.5" fill="#ea6d62"/>
<circle cx="148.0" cy="1307.3" r="5" fill="#fcc3ad"/>
<line x1="71.3" y1="1286.2" x2="85.7" y2="1280.0" stroke="#222" stroke-width="0.9"/>
<line x1="85.7" y1="1280.0" x2="89.8" y2="1283.4" stroke="#222" stroke-width="0.9"/><line x1="89.8" y1="1283.4" x2="94.0" y2="1286.9" stroke="#2020ff" stroke-width="0.9"/>
<line x1="96.9" y1="1293.1" x2="96.9" y2="1297.3" stroke="#2020ff" stroke-width="0.9"/><line x1="96.9" y1="1297.3" x2="96.9" y2="1301.5" stroke="#222" stroke-width="0.9"/>
<line x1="96.9" y1="1301.5" x2="82.6" y2="1308.7" stroke="#222" stroke-width="0.9"/>
<line x1="100.3" y1="1287.7" x2="105.3" y2="1285.4" stroke="#2020ff" stroke-width="0.9"/><line x1="105.3" y1="1285.4" x2="110.2" y2="1283.1" stroke="#222" stroke-width="0.9"/>
<line x1="111.6" y1="1283.3" x2="112.3" y2="1278.0" stroke="#222" stroke-width="0.9"/><line x1="112.3" y1="1278.0" x2="113.1" y2="1272.8" stroke="#c8c800" stroke-width="0.9"/>
<line x1="108.8" y1="1282.9" x2="109.6" y2="1277.6" stroke="#222" stroke-width="0.9"/><line x1="109.6" y1="1277.6" x2="110.3" y2="1272.4" stroke="#c8c800" stroke-width="0.9"/>
<line x1="110.2" y1="1283.1" x2="115.2" y2="1286.1" stroke="#222" stroke-width="0.9"/><line x1="115.2" y1="1286.1" x2="120.2" y2="1289.1" stroke="#c8c800" stroke-width="0.9"/>
<line x1="126.9" y1="1289.4" x2="133.3" y2="1286.4" stroke="#c8c800" stroke-width="0.9"/>
<line x1="139.8" y1="1287.0" x2="144.4" y2="1290.2" stroke="#c8c800" stroke-width="0.9"/><line x1="144.4" y1="1290.2" x2="149.0" y2="1293.4" stroke="#222" stroke-width="0.9"/>
<line x1="147.6" y1="1293.3" x2="147.2" y2="1298.4" stroke="#222" stroke-width="0.9"/><line x1="147.2" y1="1298.4" x2="146.9" y2="1303.4" stroke="#c8c800" stroke-width="0.9"/>
<line x1="150.4" y1="1293.5" x2="150.0" y2="1298.6" stroke="#222" stroke-width="0.9"/><line x1="150.0" y1="1298.6" x2="149.7" y2="1303.6" stroke="#c8c800" stroke-width="0.9"/>
<line x1="149.0" y1="1293.4" x2="154.4" y2="1291.1" stroke="#222" stroke-width="0.9"/><line x1="154.4" y1="1291.1" x2="159.8" y2="1288.7" stroke="#2020ff" stroke-width="0.9"/>
<line x1="163.6" y1="1283.4" x2="163.9" y2="1278.2" stroke="#2020ff" stroke-width="0.9"/><line x1="163.9" y1="1278.2" x2="164.3" y2="1273.0" stroke="#222" stroke-width="0.9"/>
<line x1="164.3" y1="1273.0" x2="152.0" y2="1264.7" stroke="#222" stroke-width="0.9"/>
<line x1="166.5" y1="1289.3" x2="171.0" y2="1292.4" stroke="#2020ff" stroke-width="0.9"/><line x1="171.0" y1="1292.4" x2="175.6" y2="1295.4" stroke="#222" stroke-width="0.9"/>
<line x1="175.6" y1="1295.4" x2="173.5" y2="1309.3" stroke="#222" stroke-width="0.9"/>
<text x="96.9" y="1292.1" font-size="6" fill="#2020ff" text-anchor="middle">N</text>
<text x="163.3" y="1290.0" font-size="6" fill="#2020ff" text-anchor="middle">N</text>
<text x="112.2" y="1271.6" font-size="6" fill="#c8c800" text-anchor="middle">S</text>
<text x="123.5" y="1293.8" font-size="6" fill="#c8c800" text-anchor="middle">S</text>
<text x="136.7" y="1287.6" font-size="6" fill="#c8c800" text-anchor="middle">S</text>
<text x="148.0" y="1310.1" font-size="6" fill="#c8c800" text-anchor="middle">S</text>
<circle cx="225.8" cy="1190.0" r="5.5" fill="#f9c3b0"/>
<circle cx="237.0" cy="1197.2" r="4.5" fill="#fcd8c8"/>
<circle cx="248.3" cy="1192.9" r="4.5" fill="#fcd3c3"/>
<circle cx="258.5" cy="1199.3" r="4.5" fill="#fcd3c3"/>
<circle cx="294.3" cy="1196.3" r="9.5" fill="#a8475a"/>
<line x1="201.9" y1="1213.0" x2="214.6" y2="1209.5" stroke="#222" stroke-width="0.9"/>
<line x1="214.6" y1="1197.2" x2="225.8" y2="1190.0" stroke="#222" stroke-width="0.9"/>
<line x1="218.0" y1="1198.1" x2="225.2" y2="1193.5" stroke="#222" stroke-width="0.9"/>
<line x1="225.8" y1="1190.0" x2="237.0" y2="1197.2" stroke="#222" stroke-width="0.9"/>
<line x1="237.0" y1="1197.2" x2="237.0" y2="1210.5" stroke="#222" stroke-width="0.9"/>
<line x1="239.6" y1="1199.6" x2="239.6" y2="1208.1" stroke="#222" stroke-width="0.9"/>
<line x1="237.0" y1="1210.5" x2="225.8" y2="1216.6" stroke="#222" stroke-width="0.9"/>
<line x1="225.8" y1="1216.6" x2="214.6" y2="1209.5" stroke="#222" stroke-width="0.9"/>
<line x1="222.4" y1="1217.5" x2="215.2" y2="1213.0" stroke="#222" stroke-width="0.9"/>
<line x1="214.6" y1="1209.5" x2="214.6" y2="1197.2" stroke="#222" stroke-width="0.9"/>
<line x1="237.0" y1="1197.2" x2="248.3" y2="1192.9" stroke="#222" stroke-width="0.9"/>
<line x1="249.7" y1="1193.0" x2="250.0" y2="1188.6" stroke="#222" stroke-width="0.9"/><line x1="250.0" y1="1188.6" x2="250.3" y2="1184.3" stroke="#ff1010" stroke-width="0.9"/>
<line x1="246.9" y1="1192.8" x2="247.2" y2="1188.5" stroke="#222" stroke-width="0.9"/><line x1="247.2" y1="1188.5" x2="247.5" y2="1184.1" stroke="#ff1010" stroke-width="0.9"/>
<line x1="248.3" y1="1192.9" x2="258.5" y2="1199.3" stroke="#222" stroke-width="0.9"/>
<line x1="258.5" y1="1199.3" x2="270.8" y2="1194.2" stroke="#222" stroke-width="0.9"/>
<line x1="270.8" y1="1194.2" x2="281.0" y2="1201.3" stroke="#222" stroke-width="0.9"/>
<line x1="271.2" y1="1197.6" x2="277.7" y2="1202.2" stroke="#222" stroke-width="0.9"/>
<line x1="281.0" y1="1201.3" x2="281.0" y2="1213.6" stroke="#222" stroke-width="0.9"/>
<line x1="281.0" y1="1213.6" x2="269.7" y2="1218.7" stroke="#222" stroke-width="0.9"/>
<line x1="277.9" y1="1212.1" x2="270.7" y2="1215.4" stroke="#222" stroke-width="0.9"/>
<line x1="269.7" y1="1218.7" x2="258.5" y2="1212.6" stroke="#222" stroke-width="0.9"/>
<line x1="258.5" y1="1212.6" x2="258.5" y2="1199.3" stroke="#222" stroke-width="0.9"/>
<line x1="261.1" y1="1210.2" x2="261.1" y2="1201.7" stroke="#222" stroke-width="0.9"/>
<line x1="281.0" y1="1201.3" x2="285.9" y2="1199.5" stroke="#222" stroke-width="0.9"/><line x1="285.9" y1="1199.5" x2="290.7" y2="1197.6" stroke="#2020ff" stroke-width="0.9"/>
<line x1="294.5" y1="1192.5" x2="294.7" y2="1190.2" stroke="#2020ff" stroke-width="0.9"/><line x1="294.7" y1="1190.2" x2="294.9" y2="1187.8" stroke="#ff1010" stroke-width="0.9"/>
<line x1="296.4" y1="1199.8" x2="298.0" y2="1201.0" stroke="#2020ff" stroke-width="0.9"/><line x1="298.0" y1="1201.0" x2="299.7" y2="1202.3" stroke="#ff1010" stroke-width="0.9"/>
<line x1="298.1" y1="1197.6" x2="299.8" y2="1198.9" stroke="#2020ff" stroke-width="0.9"/><line x1="299.8" y1="1198.9" x2="301.4" y2="1200.1" stroke="#ff1010" stroke-width="0.9"/>
<line x1="281.0" y1="1213.6" x2="285.0" y2="1216.5" stroke="#222" stroke-width="0.9"/><line x1="285.0" y1="1216.5" x2="289.1" y2="1219.3" stroke="#ff1010" stroke-width="0.9"/>
<line x1="269.7" y1="1218.7" x2="269.5" y2="1223.0" stroke="#222" stroke-width="0.9"/><line x1="269.5" y1="1223.0" x2="269.3" y2="1227.2" stroke="#ff1010" stroke-width="0.9"/>
<text x="249.1" y="1183.2" font-size="6" fill="#ff1010" text-anchor="middle">O</text>
<text x="294.8" y="1199.1" font-size="6" fill="#2020ff" text-anchor="middle">N<tspan font-size="4" dy="-2.5">+</tspan></text>
<text x="295.6" y="1186.8" font-size="6" fill="#ff1010" text-anchor="middle">O<tspan font-size="4" dy="-2.5">-</tspan></text>
<text x="303.5" y="1206.4" font-size="6" fill="#ff1010" text-anchor="middle">O</text>
<text x="295.2" y="1224.3" font-size="6" fill="#ff1010" text-anchor="middle">OH</text>
<text x="269.1" y="1234.8" font-size="6" fill="#ff1010" text-anchor="middle">OH</text>
<circle cx="242.7" cy="1268.8" r="5" fill="#fcc8b2"/>
<circle cx="254.0" cy="1291.0" r="6.3" fill="#f5a189"/>
<circle cx="267.2" cy="1284.8" r="7" fill="#ee7a6a"/>
<circle cx="278.5" cy="1307.3" r="5.2" fill="#fcc3ad"/>
<line x1="201.8" y1="1286.2" x2="216.2" y2="1280.0" stroke="#222" stroke-width="0.9"/>
<line x1="216.2" y1="1280.0" x2="220.3" y2="1283.4" stroke="#222" stroke-width="0.9"/><line x1="220.3" y1="1283.4" x2="224.5" y2="1286.9" stroke="#2020ff" stroke-width="0.9"/>
<line x1="227.4" y1="1293.1" x2="227.4" y2="1297.3" stroke="#2020ff" stroke-width="0.9"/><line x1="227.4" y1="1297.3" x2="227.4" y2="1301.5" stroke="#222" stroke-width="0.9"/>
<line x1="227.4" y1="1301.5" x2="213.1" y2="1308.7" stroke="#222" stroke-width="0.9"/>
<line x1="230.8" y1="1287.7" x2="235.8" y2="1285.4" stroke="#2020ff" stroke-width="0.9"/><line x1="235.8" y1="1285.4" x2="240.7" y2="1283.1" stroke="#222" stroke-width="0.9"/>
<line x1="242.1" y1="1283.3" x2="242.8" y2="1278.0" stroke="#222" stroke-width="0.9"/><line x1="242.8" y1="1278.0" x2="243.6" y2="1272.8" stroke="#c8c800" stroke-width="0.9"/>
<line x1="239.3" y1="1282.9" x2="240.1" y2="1277.6" stroke="#222" stroke-width="0.9"/><line x1="240.1" y1="1277.6" x2="240.8" y2="1272.4" stroke="#c8c800" stroke-width="0.9"/>
<line x1="240.7" y1="1283.1" x2="245.7" y2="1286.1" stroke="#222" stroke-width="0.9"/><line x1="245.7" y1="1286.1" x2="250.7" y2="1289.1" stroke="#c8c800" stroke-width="0.9"/>
<line x1="257.4" y1="1289.4" x2="263.8" y2="1286.4" stroke="#c8c800" stroke-width="0.9"/>
<line x1="270.3" y1="1287.0" x2="274.9" y2="1290.2" stroke="#c8c800" stroke-width="0.9"/><line x1="274.9" y1="1290.2" x2="279.5" y2="1293.4" stroke="#222" stroke-width="0.9"/>
<line x1="278.1" y1="1293.3" x2="277.7" y2="1298.4" stroke="#222" stroke-width="0.9"/><line x1="277.7" y1="1298.4" x2="277.4" y2="1303.4" stroke="#c8c800" stroke-width="0.9"/>
<line x1="280.9" y1="1293.5" x2="280.5" y2="1298.6" stroke="#222" stroke-width="0.9"/><line x1="280.5" y1="1298.6" x2="280.2" y2="1303.6" stroke="#c8c800" stroke-width="0.9"/>
<line x1="279.5" y1="1293.4" x2="284.9" y2="1291.1" stroke="#222" stroke-width="0.9"/><line x1="284.9" y1="1291.1" x2="290.3" y2="1288.7" stroke="#2020ff" stroke-width="0.9"/>
<line x1="294.1" y1="1283.4" x2="294.4" y2="1278.2" stroke="#2020ff" stroke-width="0.9"/><line x1="294.4" y1="1278.2" x2="294.8" y2="1273.0" stroke="#222" stroke-width="0.9"/>
<line x1="294.8" y1="1273.0" x2="282.5" y2="1264.7" stroke="#222" stroke-width="0.9"/>
<line x1="297.0" y1="1289.3" x2="301.5" y2="1292.4" stroke="#2020ff" stroke-width="0.9"/><line x1="301.5" y1="1292.4" x2="306.1" y2="1295.4" stroke="#222" stroke-width="0.9"/>
<line x1="306.1" y1="1295.4" x2="304.0" y2="1309.3" stroke="#222" stroke-width="0.9"/>
<text x="227.4" y="1292.1" font-size="6" fill="#2020ff" text-anchor="middle">N</text>
<text x="293.8" y="1290.0" font-size="6" fill="#2020ff" text-anchor="middle">N</text>
<text x="242.7" y="1271.6" font-size="6" fill="#c8c800" text-anchor="middle">S</text>
<text x="254.0" y="1293.8" font-size="6" fill="#c8c800" text-anchor="middle">S</text>
<text x="267.2" y="1287.6" font-size="6" fill="#c8c800" text-anchor="middle">S</text>
<text x="278.5" y="1310.1" font-size="6" fill="#c8c800" text-anchor="middle">S</text>
<circle cx="346.6" cy="1197.2" r="4.5" fill="#fbcfbf"/>
<circle cx="357.8" cy="1190.0" r="4.5" fill="#fbcfbf"/>
<circle cx="369.0" cy="1197.2" r="4.5" fill="#fbcfbf"/>
<circle cx="369.0" cy="1210.5" r="4.5" fill="#fbcfbf"/>
<circle cx="357.8" cy="1216.6" r="4.5" fill="#fbcfbf"/>
<circle cx="346.6" cy="1209.5" r="4.5" fill="#fbcfbf"/>
<circle cx="380.3" cy="1192.9" r="4.5" fill="#fbcbbb"/>
<circle cx="390.5" cy="1199.3" r="4.5" fill="#f9bfab"/>
<circle cx="402.8" cy="1194.2" r="4.5" fill="#fbcbbb"/>
<circle cx="413.0" cy="1201.3" r="4.5" fill="#f9c3b0"/>
<circle cx="413.0" cy="1213.6" r="4.5" fill="#f8b8a3"/>
<circle cx="401.7" cy="1218.7" r="4.5" fill="#f9c0ac"/>
<line x1="333.9" y1="1213.0" x2="346.6" y2="1209.5" stroke="#222" stroke-width="0.9"/>
<line x1="346.6" y1="1197.2" x2="357.8" y2="1190.0" stroke="#222" stroke-width="0.9"/>
<line x1="350.0" y1="1198.1" x2="357.2" y2="1193.5" stroke="#222" stroke-width="0.9"/>
<line x1="357.8" y1="1190.0" x2="369.0" y2="1197.2" stroke="#222" stroke-width="0.9"/>
<line x1="369.0" y1="1197.2" x2="369.0" y2="1210.5" stroke="#222" stroke-width="0.9"/>
<line x1="371.6" y1="1199.6" x2="371.6" y2="1208.1" stroke="#222" stroke-width="0.9"/>
<line x1="369.0" y1="1210.5" x2="357.8" y2="1216.6" stroke="#222" stroke-width="0.9"/>
<line x1="357.8" y1="1216.6" x2="346.6" y2="1209.5" stroke="#222" stroke-width="0.9"/>
<line x1="354.4" y1="1217.5" x2="347.2" y2="1213.0" stroke="#222" stroke-width="0.9"/>
<line x1="346.6" y1="1209.5" x2="346.6" y2="1197.2" stroke="#222" stroke-width="0.9"/>
<line x1="369.0" y1="1197.2" x2="380.3" y2="1192.9" stroke="#222" stroke-width="0.9"/>
<line x1="381.7" y1="1193.0" x2="382.0" y2="1188.6" stroke="#222" stroke-width="0.9"/><line x1="382.0" y1="1188.6" x2="382.3" y2="1184.3" stroke="#ff1010" stroke-width="0.9"/>
<line x1="378.9" y1="1192.8" x2="379.2" y2="1188.5" stroke="#222" stroke-width="0.9"/><line x1="379.2" y1="1188.5" x2="379.5" y2="1184.1" stroke="#ff1010" stroke-width="0.9"/>
<line x1="380.3" y1="1192.9" x2="390.5" y2="1199.3" stroke="#222" stroke-width="0.9"/>
<line x1="390.5" y1="1199.3" x2="402.8" y2="1194.2" stroke="#222" stroke-width="0.9"/>
<line x1="402.8" y1="1194.2" x2="413.0" y2="1201.3" stroke="#222" stroke-width="0.9"/>
<line x1="403.2" y1="1197.6" x2="409.7" y2="1202.2" stroke="#222" stroke-width="0.9"/>
<line x1="413.0" y1="1201.3" x2="413.0" y2="1213.6" stroke="#222" stroke-width="0.9"/>
<line x1="413.0" y1="1213.6" x2="401.7" y2="1218.7" stroke="#222" stroke-width="0.9"/>
<line x1="409.9" y1="1212.1" x2="402.7" y2="1215.4" stroke="#222" stroke-width="0.9"/>
<line x1="401.7" y1="1218.7" x2="390.5" y2="1212.6" stroke="#222" stroke-width="0.9"/>
<line x1="390.5" y1="1212.6" x2="390.5" y2="1199.3" stroke="#222" stroke-width="0.9"/>
<line x1="393.1" y1="1210.2" x2="393.1" y2="1201.7" stroke="#222" stroke-width="0.9"/>
<line x1="413.0" y1="1201.3" x2="417.9" y2="1199.5" stroke="#222" stroke-width="0.9"/><line x1="417.9" y1="1199.5" x2="422.7" y2="1197.6" stroke="#2020ff" stroke-width="0.9"/>
<line x1="426.5" y1="1192.5" x2="426.7" y2="1190.2" stroke="#2020ff" stroke-width="0.9"/><line x1="426.7" y1="1190.2" x2="426.9" y2="1187.8" stroke="#ff1010" stroke-width="0.9"/>
<line x1="428.4" y1="1199.8" x2="430.0" y2="1201.0" stroke="#2020ff" stroke-width="0.9"/><line x1="430.0" y1="1201.0" x2="431.7" y2="1202.3" stroke="#ff1010" stroke-width="0.9"/>
<line x1="430.1" y1="1197.6" x2="431.8" y2="1198.9" stroke="#2020ff" stroke-width="0.9"/><line x1="431.8" y1="1198.9" x2="433.4" y2="1200.1" stroke="#ff1010" stroke-width="0.9"/>
<line x1="413.0" y1="1213.6" x2="417.0" y2="1216.5" stroke="#222" stroke-width="0.9"/><line x1="417.0" y1="1216.5" x2="421.1" y2="1219.3" stroke="#ff1010" stroke-width="0.9"/>
<line x1="401.7" y1="1218.7" x2="401.5" y2="1223.0" stroke="#222" stroke-width="0.9"/><line x1="401.5" y1="1223.0" x2="401.3" y2="1227.2" stroke="#ff1010" stroke-width="0.9"/>
<text x="381.1" y="1183.2" font-size="6" fill="#ff1010" text-anchor="middle">O</text>
<text x="426.8" y="1199.1" font-size="6" fill="#2020ff" text-anchor="middle">N<tspan font-size="4" dy="-2.5">+</tspan></text>
<text x="427.6" y="1186.8" font-size="6" fill="#ff1010" text-anchor="middle">O<tspan font-size="4" dy="-2.5">-</tspan></text>
<text x="435.5" y="1206.4" font-size="6" fill="#ff1010" text-anchor="middle">O</text>
<text x="427.2" y="1224.3" font-size="6" fill="#ff1010" text-anchor="middle">OH</text>
<text x="401.1" y="1234.8" font-size="6" fill="#ff1010" text-anchor="middle">OH</text>
<circle cx="374.7" cy="1268.8" r="4" fill="#fcd0bc"/>
<circle cx="372.7" cy="1283.1" r="4" fill="#fcd0bc"/>
<circle cx="386.0" cy="1291.0" r="6" fill="#f6a38a"/>
<circle cx="399.2" cy="1284.8" r="6.5" fill="#f1927a"/>
<circle cx="411.5" cy="1293.4" r="4" fill="#fcd0bc"/>
<circle cx="410.5" cy="1307.3" r="5" fill="#fbc8b2"/>
<circle cx="436.0" cy="1309.3" r="4.5" fill="#fcd0bc"/>
<line x1="333.8" y1="1286.2" x2="348.2" y2="1280.0" stroke="#222" stroke-width="0.9"/>
<line x1="348.2" y1="1280.0" x2="352.3" y2="1283.4" stroke="#222" stroke-width="0.9"/><line x1="352.3" y1="1283.4" x2="356.5" y2="1286.9" stroke="#2020ff" stroke-width="0.9"/>
<line x1="359.4" y1="1293.1" x2="359.4" y2="1297.3" stroke="#2020ff" stroke-width="0.9"/><line x1="359.4" y1="1297.3" x2="359.4" y2="1301.5" stroke="#222" stroke-width="0.9"/>
<line x1="359.4" y1="1301.5" x2="345.1" y2="1308.7" stroke="#222" stroke-width="0.9"/>
<line x1="362.8" y1="1287.7" x2="367.8" y2="1285.4" stroke="#2020ff" stroke-width="0.9"/><line x1="367.8" y1="1285.4" x2="372.7" y2="1283.1" stroke="#222" stroke-width="0.9"/>
<line x1="374.1" y1="1283.3" x2="374.8" y2="1278.0" stroke="#222" stroke-width="0.9"/><line x1="374.8" y1="1278.0" x2="375.6" y2="1272.8" stroke="#c8c800" stroke-width="0.9"/>
<line x1="371.3" y1="1282.9" x2="372.1" y2="1277.6" stroke="#222" stroke-width="0.9"/><line x1="372.1" y1="1277.6" x2="372.8" y2="1272.4" stroke="#c8c800" stroke-width="0.9"/>
<line x1="372.7" y1="1283.1" x2="377.7" y2="1286.1" stroke="#222" stroke-width="0.9"/><line x1="377.7" y1="1286.1" x2="382.7" y2="1289.1" stroke="#c8c800" stroke-width="0.9"/>
<line x1="389.4" y1="1289.4" x2="395.8" y2="1286.4" stroke="#c8c800" stroke-width="0.9"/>
<line x1="402.3" y1="1287.0" x2="406.9" y2="1290.2" stroke="#c8c800" stroke-width="0.9"/><line x1="406.9" y1="1290.2" x2="411.5" y2="1293.4" stroke="#222" stroke-width="0.9"/>
<line x1="410.1" y1="1293.3" x2="409.7" y2="1298.4" stroke="#222" stroke-width="0.9"/><line x1="409.7" y1="1298.4" x2="409.4" y2="1303.4" stroke="#c8c800" stroke-width="0.9"/>
<line x1="412.9" y1="1293.5" x2="412.5" y2="1298.6" stroke="#222" stroke-width="0.9"/><line x1="412.5" y1="1298.6" x2="412.2" y2="1303.6" stroke="#c8c800" stroke-width="0.9"/>
<line x1="411.5" y1="1293.4" x2="416.9" y2="1291.1" stroke="#222" stroke-width="0.9"/><line x1="416.9" y1="1291.1" x2="422.3" y2="1288.7" stroke="#2020ff" stroke-width="0.9"/>
<line x1="426.1" y1="1283.4" x2="426.4" y2="1278.2" stroke="#2020ff" stroke-width="0.9"/><line x1="426.4" y1="1278.2" x2="426.8" y2="1273.0" stroke="#222" stroke-width="0.9"/>
<line x1="426.8" y1="1273.0" x2="414.5" y2="1264.7" stroke="#222" stroke-width="0.9"/>
<line x1="429.0" y1="1289.3" x2="433.5" y2="1292.4" stroke="#2020ff" stroke-width="0.9"/><line x1="433.5" y1="1292.4" x2="438.1" y2="1295.4" stroke="#222" stroke-width="0.9"/>
<line x1="438.1" y1="1295.4" x2="436.0" y2="1309.3" stroke="#222" stroke-width="0.9"/>
<text x="359.4" y="1292.1" font-size="6" fill="#2020ff" text-anchor="middle">N</text>
<text x="425.8" y="1290.0" font-size="6" fill="#2020ff" text-anchor="middle">N</text>
<text x="374.7" y="1271.6" font-size="6" fill="#c8c800" text-anchor="middle">S</text>
<text x="386.0" y="1293.8" font-size="6" fill="#c8c800" text-anchor="middle">S</text>
<text x="399.2" y="1287.6" font-size="6" fill="#c8c800" text-anchor="middle">S</text>
<text x="410.5" y="1310.1" font-size="6" fill="#c8c800" text-anchor="middle">S</text>
<circle cx="486.3" cy="1190.0" r="4.8" fill="#f9c0ae"/>
<circle cx="475.1" cy="1197.2" r="4.2" fill="#fcd8c8"/>
<circle cx="497.5" cy="1197.2" r="4.5" fill="#fac8b5"/>
<circle cx="497.5" cy="1210.5" r="4.3" fill="#fbcfbf"/>
<circle cx="486.3" cy="1216.6" r="4.5" fill="#fbcbbb"/>
<circle cx="508.8" cy="1192.9" r="4.8" fill="#f9c0ae"/>
<circle cx="519.0" cy="1199.3" r="4.8" fill="#f9c0ae"/>
<circle cx="531.3" cy="1194.2" r="4.5" fill="#fbcbbb"/>
<circle cx="541.5" cy="1213.6" r="5" fill="#f7b5a0"/>
<circle cx="530.2" cy="1218.7" r="5.2" fill="#f6b09a"/>
<line x1="462.4" y1="1213.0" x2="475.1" y2="1209.5" stroke="#222" stroke-width="0.9"/>
<line x1="475.1" y1="1197.2" x2="486.3" y2="1190.0" stroke="#222" stroke-width="0.9"/>
<line x1="478.5" y1="1198.1" x2="485.7" y2="1193.5" stroke="#222" stroke-width="0.9"/>
<line x1="486.3" y1="1190.0" x2="497.5" y2="1197.2" stroke="#222" stroke-width="0.9"/>
<line x1="497.5" y1="1197.2" x2="497.5" y2="1210.5" stroke="#222" stroke-width="0.9"/>
<line x1="500.1" y1="1199.6" x2="500.1" y2="1208.1" stroke="#222" stroke-width="0.9"/>
<line x1="497.5" y1="1210.5" x2="486.3" y2="1216.6" stroke="#222" stroke-width="0.9"/>
<line x1="486.3" y1="1216.6" x2="475.1" y2="1209.5" stroke="#222" stroke-width="0.9"/>
<line x1="482.9" y1="1217.5" x2="475.7" y2="1213.0" stroke="#222" stroke-width="0.9"/>
<line x1="475.1" y1="1209.5" x2="475.1" y2="1197.2" stroke="#222" stroke-width="0.9"/>
<line x1="497.5" y1="1197.2" x2="508.8" y2="1192.9" stroke="#222" stroke-width="0.9"/>
<line x1="510.2" y1="1193.0" x2="510.5" y2="1188.6" stroke="#222" stroke-width="0.9"/><line x1="510.5" y1="1188.6" x2="510.8" y2="1184.3" stroke="#ff1010" stroke-width="0.9"/>
<line x1="507.4" y1="1192.8" x2="507.7" y2="1188.5" stroke="#222" stroke-width="0.9"/><line x1="507.7" y1="1188.5" x2="508.0" y2="1184.1" stroke="#ff1010" stroke-width="0.9"/>
<line x1="508.8" y1="1192.9" x2="519.0" y2="1199.3" stroke="#222" stroke-width="0.9"/>
<line x1="519.0" y1="1199.3" x2="531.3" y2="1194.2" stroke="#222" stroke-width="0.9"/>
<line x1="531.3" y1="1194.2" x2="541.5" y2="1201.3" stroke="#222" stroke-width="0.9"/>
<line x1="531.7" y1="1197.6" x2="538.2" y2="1202.2" stroke="#222" stroke-width="0.9"/>
<line x1="541.5" y1="1201.3" x2="541.5" y2="1213.6" stroke="#222" stroke-width="0.9"/>
<line x1="541.5" y1="1213.6" x2="530.2" y2="1218.7" stroke="#222" stroke-width="0.9"/>
<line x1="538.4" y1="1212.1" x2="531.2" y2="1215.4" stroke="#222" stroke-width="0.9"/>
<line x1="530.2" y1="1218.7" x2="519.0" y2="1212.6" stroke="#222" stroke-width="0.9"/>
<line x1="519.0" y1="1212.6" x2="519.0" y2="1199.3" stroke="#222" stroke-width="0.9"/>
<line x1="521.6" y1="1210.2" x2="521.6" y2="1201.7" stroke="#222" stroke-width="0.9"/>
<line x1="541.5" y1="1201.3" x2="546.4" y2="1199.5" stroke="#222" stroke-width="0.9"/><line x1="546.4" y1="1199.5" x2="551.2" y2="1197.6" stroke="#2020ff" stroke-width="0.9"/>
<line x1="555.0" y1="1192.5" x2="555.2" y2="1190.2" stroke="#2020ff" stroke-width="0.9"/><line x1="555.2" y1="1190.2" x2="555.4" y2="1187.8" stroke="#ff1010" stroke-width="0.9"/>
<line x1="556.9" y1="1199.8" x2="558.5" y2="1201.0" stroke="#2020ff" stroke-width="0.9"/><line x1="558.5" y1="1201.0" x2="560.2" y2="1202.3" stroke="#ff1010" stroke-width="0.9"/>
<line x1="558.6" y1="1197.6" x2="560.3" y2="1198.9" stroke="#2020ff" stroke-width="0.9"/><line x1="560.3" y1="1198.9" x2="561.9" y2="1200.1" stroke="#ff1010" stroke-width="0.9"/>
<line x1="541.5" y1="1213.6" x2="545.5" y2="1216.5" stroke="#222" stroke-width="0.9"/><line x1="545.5" y1="1216.5" x2="549.6" y2="1219.3" stroke="#ff1010" stroke-width="0.9"/>
<line x1="530.2" y1="1218.7" x2="530.0" y2="1223.0" stroke="#222" stroke-width="0.9"/><line x1="530.0" y1="1223.0" x2="529.8" y2="1227.2" stroke="#ff1010" stroke-width="0.9"/>
<text x="509.6" y="1183.2" font-size="6" fill="#ff1010" text-anchor="middle">O</text>
<text x="555.3" y="1199.1" font-size="6" fill="#2020ff" text-anchor="middle">N<tspan font-size="4" dy="-2.5">+</tspan></text>
<text x="556.1" y="1186.8" font-size="6" fill="#ff1010" text-anchor="middle">O<tspan font-size="4" dy="-2.5">-</tspan></text>
<text x="564.0" y="1206.4" font-size="6" fill="#ff1010" text-anchor="middle">O</text>
<text x="555.7" y="1224.3" font-size="6" fill="#ff1010" text-anchor="middle">OH</text>
<text x="529.6" y="1234.8" font-size="6" fill="#ff1010" text-anchor="middle">OH</text>
<circle cx="462.3" cy="1286.2" r="4" fill="#fcd3c3"/>
<circle cx="473.6" cy="1308.7" r="4" fill="#fcd3c3"/>
<circle cx="501.2" cy="1283.1" r="4" fill="#fcd3c3"/>
<circle cx="503.2" cy="1268.8" r="4" fill="#fcd0bc"/>
<circle cx="514.5" cy="1291.0" r="5" fill="#f9bba3"/>
<circle cx="527.7" cy="1284.8" r="6.5" fill="#f29484"/>
<circle cx="540.0" cy="1293.4" r="4" fill="#fcd3c3"/>
<circle cx="539.0" cy="1307.3" r="4.5" fill="#fcd0bc"/>
<circle cx="543.0" cy="1264.7" r="4.5" fill="#fbcdbb"/>
<circle cx="564.5" cy="1309.3" r="4.5" fill="#fbcdbb"/>
<line x1="462.3" y1="1286.2" x2="476.7" y2="1280.0" stroke="#222" stroke-width="0.9"/>
<line x1="476.7" y1="1280.0" x2="480.8" y2="1283.4" stroke="#222" stroke-width="0.9"/><line x1="480.8" y1="1283.4" x2="485.0" y2="1286.9" stroke="#2020ff" stroke-width="0.9"/>
<line x1="487.9" y1="1293.1" x2="487.9" y2="1297.3" stroke="#2020ff" stroke-width="0.9"/><line x1="487.9" y1="1297.3" x2="487.9" y2="1301.5" stroke="#222" stroke-width="0.9"/>
<line x1="487.9" y1="1301.5" x2="473.6" y2="1308.7" stroke="#222" stroke-width="0.9"/>
<line x1="491.3" y1="1287.7" x2="496.3" y2="1285.4" stroke="#2020ff" stroke-width="0.9"/><line x1="496.3" y1="1285.4" x2="501.2" y2="1283.1" stroke="#222" stroke-width="0.9"/>
<line x1="502.6" y1="1283.3" x2="503.3" y2="1278.0" stroke="#222" stroke-width="0.9"/><line x1="503.3" y1="1278.0" x2="504.1" y2="1272.8" stroke="#c8c800" stroke-width="0.9"/>
<line x1="499.8" y1="1282.9" x2="500.6" y2="1277.6" stroke="#222" stroke-width="0.9"/><line x1="500.6" y1="1277.6" x2="501.3" y2="1272.4" stroke="#c8c800" stroke-width="0.9"/>
<line x1="501.2" y1="1283.1" x2="506.2" y2="1286.1" stroke="#222" stroke-width="0.9"/><line x1="506.2" y1="1286.1" x2="511.2" y2="1289.1" stroke="#c8c800" stroke-width="0.9"/>
<line x1="517.9" y1="1289.4" x2="524.3" y2="1286.4" stroke="#c8c800" stroke-width="0.9"/>
<line x1="530.8" y1="1287.0" x2="535.4" y2="1290.2" stroke="#c8c800" stroke-width="0.9"/><line x1="535.4" y1="1290.2" x2="540.0" y2="1293.4" stroke="#222" stroke-width="0.9"/>
<line x1="538.6" y1="1293.3" x2="538.2" y2="1298.4" stroke="#222" stroke-width="0.9"/><line x1="538.2" y1="1298.4" x2="537.9" y2="1303.4" stroke="#c8c800" stroke-width="0.9"/>
<line x1="541.4" y1="1293.5" x2="541.0" y2="1298.6" stroke="#222" stroke-width="0.9"/><line x1="541.0" y1="1298.6" x2="540.7" y2="1303.6" stroke="#c8c800" stroke-width="0.9"/>
<line x1="540.0" y1="1293.4" x2="545.4" y2="1291.1" stroke="#222" stroke-width="0.9"/><line x1="545.4" y1="1291.1" x2="550.8" y2="1288.7" stroke="#2020ff" stroke-width="0.9"/>
<line x1="554.6" y1="1283.4" x2="554.9" y2="1278.2" stroke="#2020ff" stroke-width="0.9"/><line x1="554.9" y1="1278.2" x2="555.3" y2="1273.0" stroke="#222" stroke-width="0.9"/>
<line x1="555.3" y1="1273.0" x2="543.0" y2="1264.7" stroke="#222" stroke-width="0.9"/>
<line x1="557.5" y1="1289.3" x2="562.0" y2="1292.4" stroke="#2020ff" stroke-width="0.9"/><line x1="562.0" y1="1292.4" x2="566.6" y2="1295.4" stroke="#222" stroke-width="0.9"/>
<line x1="566.6" y1="1295.4" x2="564.5" y2="1309.3" stroke="#222" stroke-width="0.9"/>
<text x="487.9" y="1292.1" font-size="6" fill="#2020ff" text-anchor="middle">N</text>
<text x="554.3" y="1290.0" font-size="6" fill="#2020ff" text-anchor="middle">N</text>
<text x="503.2" y="1271.6" font-size="6" fill="#c8c800" text-anchor="middle">S</text>
<text x="514.5" y="1293.8" font-size="6" fill="#c8c800" text-anchor="middle">S</text>
<text x="527.7" y="1287.6" font-size="6" fill="#c8c800" text-anchor="middle">S</text>
<text x="539.0" y="1310.1" font-size="6" fill="#c8c800" text-anchor="middle">S</text>
</svg></body></html>
